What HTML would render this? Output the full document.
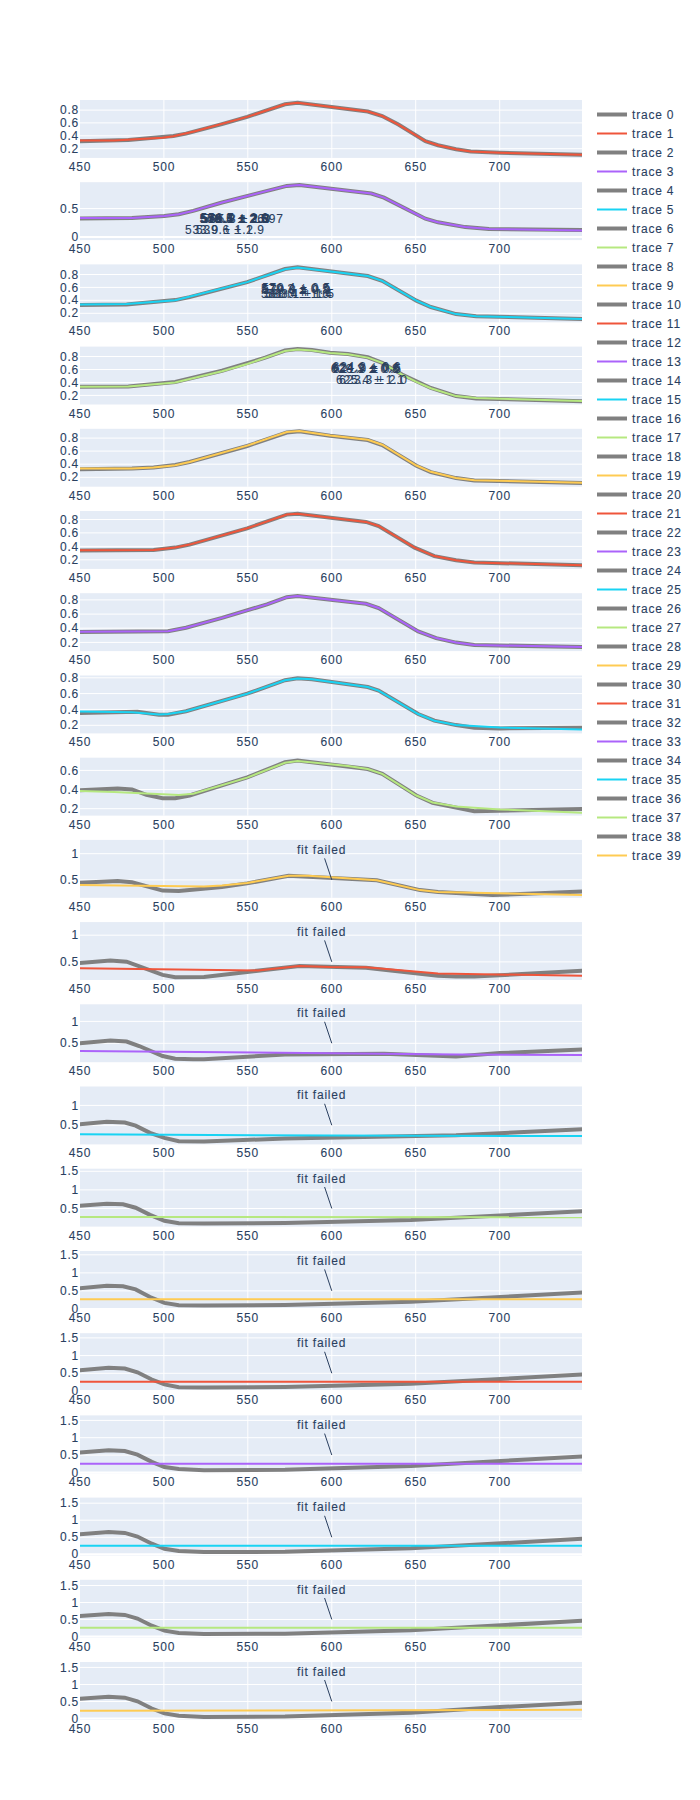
<!DOCTYPE html>
<html><head><meta charset="utf-8"><title>plot</title>
<style>html,body{margin:0;padding:0;background:#fff;width:700px;height:1800px;overflow:hidden}
.c{position:relative;width:700px;height:1800px}
.c svg{position:absolute;top:0;left:0}
.c svg text{letter-spacing:0.8px;stroke:#2a3f5f;stroke-width:0.1px}
</style></head><body><div class="c">
<svg class="main-svg" width="700" height="1800" style="background: white;"><defs id="defs-5c4ca8"><g class="clips"><clipPath id="clip5c4ca8xyplot" class="plotclip"><rect width="502" height="57.9"></rect></clipPath><clipPath id="clip5c4ca8x2y2plot" class="plotclip"><rect width="502" height="57.9"></rect></clipPath><clipPath id="clip5c4ca8x3y3plot" class="plotclip"><rect width="502" height="57.9"></rect></clipPath><clipPath id="clip5c4ca8x4y4plot" class="plotclip"><rect width="502" height="57.9"></rect></clipPath><clipPath id="clip5c4ca8x5y5plot" class="plotclip"><rect width="502" height="57.9"></rect></clipPath><clipPath id="clip5c4ca8x6y6plot" class="plotclip"><rect width="502" height="57.9"></rect></clipPath><clipPath id="clip5c4ca8x7y7plot" class="plotclip"><rect width="502" height="57.9"></rect></clipPath><clipPath id="clip5c4ca8x8y8plot" class="plotclip"><rect width="502" height="57.9"></rect></clipPath><clipPath id="clip5c4ca8x9y9plot" class="plotclip"><rect width="502" height="57.9"></rect></clipPath><clipPath id="clip5c4ca8x10y10plot" class="plotclip"><rect width="502" height="57.9"></rect></clipPath><clipPath id="clip5c4ca8x11y11plot" class="plotclip"><rect width="502" height="57.9"></rect></clipPath><clipPath id="clip5c4ca8x12y12plot" class="plotclip"><rect width="502" height="57.9"></rect></clipPath><clipPath id="clip5c4ca8x13y13plot" class="plotclip"><rect width="502" height="57.9"></rect></clipPath><clipPath id="clip5c4ca8x14y14plot" class="plotclip"><rect width="502" height="57.9"></rect></clipPath><clipPath id="clip5c4ca8x15y15plot" class="plotclip"><rect width="502" height="57.9"></rect></clipPath><clipPath id="clip5c4ca8x16y16plot" class="plotclip"><rect width="502" height="57.9"></rect></clipPath><clipPath id="clip5c4ca8x17y17plot" class="plotclip"><rect width="502" height="57.9"></rect></clipPath><clipPath id="clip5c4ca8x18y18plot" class="plotclip"><rect width="502" height="57.9"></rect></clipPath><clipPath id="clip5c4ca8x19y19plot" class="plotclip"><rect width="502" height="57.9"></rect></clipPath><clipPath id="clip5c4ca8x20y20plot" class="plotclip"><rect width="502" height="57.9"></rect></clipPath><clipPath class="axesclip" id="clip5c4ca8x"><rect x="80" y="0" width="502" height="1800"></rect></clipPath><clipPath class="axesclip" id="clip5c4ca8y"><rect x="0" y="100" width="700" height="57.9"></rect></clipPath><clipPath class="axesclip" id="clip5c4ca8xy"><rect x="80" y="100" width="502" height="57.9"></rect></clipPath><clipPath class="axesclip" id="clip5c4ca8y2"><rect x="0" y="182.2" width="700" height="57.9"></rect></clipPath><clipPath class="axesclip" id="clip5c4ca8xy2"><rect x="80" y="182.2" width="502" height="57.9"></rect></clipPath><clipPath class="axesclip" id="clip5c4ca8y3"><rect x="0" y="264.4" width="700" height="57.9"></rect></clipPath><clipPath class="axesclip" id="clip5c4ca8xy3"><rect x="80" y="264.4" width="502" height="57.9"></rect></clipPath><clipPath class="axesclip" id="clip5c4ca8y4"><rect x="0" y="346.6" width="700" height="57.9"></rect></clipPath><clipPath class="axesclip" id="clip5c4ca8xy4"><rect x="80" y="346.6" width="502" height="57.9"></rect></clipPath><clipPath class="axesclip" id="clip5c4ca8y5"><rect x="0" y="428.8" width="700" height="57.9"></rect></clipPath><clipPath class="axesclip" id="clip5c4ca8xy5"><rect x="80" y="428.8" width="502" height="57.9"></rect></clipPath><clipPath class="axesclip" id="clip5c4ca8y6"><rect x="0" y="511.0" width="700" height="57.9"></rect></clipPath><clipPath class="axesclip" id="clip5c4ca8xy6"><rect x="80" y="511.0" width="502" height="57.9"></rect></clipPath><clipPath class="axesclip" id="clip5c4ca8y7"><rect x="0" y="593.2" width="700" height="57.9"></rect></clipPath><clipPath class="axesclip" id="clip5c4ca8xy7"><rect x="80" y="593.2" width="502" height="57.9"></rect></clipPath><clipPath class="axesclip" id="clip5c4ca8y8"><rect x="0" y="675.5" width="700" height="57.9"></rect></clipPath><clipPath class="axesclip" id="clip5c4ca8xy8"><rect x="80" y="675.5" width="502" height="57.9"></rect></clipPath><clipPath class="axesclip" id="clip5c4ca8y9"><rect x="0" y="757.7" width="700" height="57.9"></rect></clipPath><clipPath class="axesclip" id="clip5c4ca8xy9"><rect x="80" y="757.7" width="502" height="57.9"></rect></clipPath><clipPath class="axesclip" id="clip5c4ca8y10"><rect x="0" y="839.9" width="700" height="57.9"></rect></clipPath><clipPath class="axesclip" id="clip5c4ca8xy10"><rect x="80" y="839.9" width="502" height="57.9"></rect></clipPath><clipPath class="axesclip" id="clip5c4ca8y11"><rect x="0" y="922.1" width="700" height="57.9"></rect></clipPath><clipPath class="axesclip" id="clip5c4ca8xy11"><rect x="80" y="922.1" width="502" height="57.9"></rect></clipPath><clipPath class="axesclip" id="clip5c4ca8y12"><rect x="0" y="1004.3" width="700" height="57.9"></rect></clipPath><clipPath class="axesclip" id="clip5c4ca8xy12"><rect x="80" y="1004.3" width="502" height="57.9"></rect></clipPath><clipPath class="axesclip" id="clip5c4ca8y13"><rect x="0" y="1086.5" width="700" height="57.9"></rect></clipPath><clipPath class="axesclip" id="clip5c4ca8xy13"><rect x="80" y="1086.5" width="502" height="57.9"></rect></clipPath><clipPath class="axesclip" id="clip5c4ca8y14"><rect x="0" y="1168.7" width="700" height="57.9"></rect></clipPath><clipPath class="axesclip" id="clip5c4ca8xy14"><rect x="80" y="1168.7" width="502" height="57.9"></rect></clipPath><clipPath class="axesclip" id="clip5c4ca8y15"><rect x="0" y="1251.0" width="700" height="57.9"></rect></clipPath><clipPath class="axesclip" id="clip5c4ca8xy15"><rect x="80" y="1251.0" width="502" height="57.9"></rect></clipPath><clipPath class="axesclip" id="clip5c4ca8y16"><rect x="0" y="1333.2" width="700" height="57.9"></rect></clipPath><clipPath class="axesclip" id="clip5c4ca8xy16"><rect x="80" y="1333.2" width="502" height="57.9"></rect></clipPath><clipPath class="axesclip" id="clip5c4ca8y17"><rect x="0" y="1415.4" width="700" height="57.9"></rect></clipPath><clipPath class="axesclip" id="clip5c4ca8xy17"><rect x="80" y="1415.4" width="502" height="57.9"></rect></clipPath><clipPath class="axesclip" id="clip5c4ca8y18"><rect x="0" y="1497.6" width="700" height="57.9"></rect></clipPath><clipPath class="axesclip" id="clip5c4ca8xy18"><rect x="80" y="1497.6" width="502" height="57.9"></rect></clipPath><clipPath class="axesclip" id="clip5c4ca8y19"><rect x="0" y="1579.8" width="700" height="57.9"></rect></clipPath><clipPath class="axesclip" id="clip5c4ca8xy19"><rect x="80" y="1579.8" width="502" height="57.9"></rect></clipPath><clipPath class="axesclip" id="clip5c4ca8y20"><rect x="0" y="1662.0" width="700" height="57.9"></rect></clipPath><clipPath class="axesclip" id="clip5c4ca8xy20"><rect x="80" y="1662.0" width="502" height="57.9"></rect></clipPath><clipPath class="axesclip" id="clip5c4ca8x2"><rect x="80" y="0" width="502" height="1800"></rect></clipPath><clipPath class="axesclip" id="clip5c4ca8x2y"><rect x="80" y="100" width="502" height="57.9"></rect></clipPath><clipPath class="axesclip" id="clip5c4ca8x2y2"><rect x="80" y="182.2" width="502" height="57.9"></rect></clipPath><clipPath class="axesclip" id="clip5c4ca8x2y3"><rect x="80" y="264.4" width="502" height="57.9"></rect></clipPath><clipPath class="axesclip" id="clip5c4ca8x2y4"><rect x="80" y="346.6" width="502" height="57.9"></rect></clipPath><clipPath class="axesclip" id="clip5c4ca8x2y5"><rect x="80" y="428.8" width="502" height="57.9"></rect></clipPath><clipPath class="axesclip" id="clip5c4ca8x2y6"><rect x="80" y="511.0" width="502" height="57.9"></rect></clipPath><clipPath class="axesclip" id="clip5c4ca8x2y7"><rect x="80" y="593.2" width="502" height="57.9"></rect></clipPath><clipPath class="axesclip" id="clip5c4ca8x2y8"><rect x="80" y="675.5" width="502" height="57.9"></rect></clipPath><clipPath class="axesclip" id="clip5c4ca8x2y9"><rect x="80" y="757.7" width="502" height="57.9"></rect></clipPath><clipPath class="axesclip" id="clip5c4ca8x2y10"><rect x="80" y="839.9" width="502" height="57.9"></rect></clipPath><clipPath class="axesclip" id="clip5c4ca8x2y11"><rect x="80" y="922.1" width="502" height="57.9"></rect></clipPath><clipPath class="axesclip" id="clip5c4ca8x2y12"><rect x="80" y="1004.3" width="502" height="57.9"></rect></clipPath><clipPath class="axesclip" id="clip5c4ca8x2y13"><rect x="80" y="1086.5" width="502" height="57.9"></rect></clipPath><clipPath class="axesclip" id="clip5c4ca8x2y14"><rect x="80" y="1168.7" width="502" height="57.9"></rect></clipPath><clipPath class="axesclip" id="clip5c4ca8x2y15"><rect x="80" y="1251.0" width="502" height="57.9"></rect></clipPath><clipPath class="axesclip" id="clip5c4ca8x2y16"><rect x="80" y="1333.2" width="502" height="57.9"></rect></clipPath><clipPath class="axesclip" id="clip5c4ca8x2y17"><rect x="80" y="1415.4" width="502" height="57.9"></rect></clipPath><clipPath class="axesclip" id="clip5c4ca8x2y18"><rect x="80" y="1497.6" width="502" height="57.9"></rect></clipPath><clipPath class="axesclip" id="clip5c4ca8x2y19"><rect x="80" y="1579.8" width="502" height="57.9"></rect></clipPath><clipPath class="axesclip" id="clip5c4ca8x2y20"><rect x="80" y="1662.0" width="502" height="57.9"></rect></clipPath><clipPath class="axesclip" id="clip5c4ca8x3"><rect x="80" y="0" width="502" height="1800"></rect></clipPath><clipPath class="axesclip" id="clip5c4ca8x3y"><rect x="80" y="100" width="502" height="57.9"></rect></clipPath><clipPath class="axesclip" id="clip5c4ca8x3y2"><rect x="80" y="182.2" width="502" height="57.9"></rect></clipPath><clipPath class="axesclip" id="clip5c4ca8x3y3"><rect x="80" y="264.4" width="502" height="57.9"></rect></clipPath><clipPath class="axesclip" id="clip5c4ca8x3y4"><rect x="80" y="346.6" width="502" height="57.9"></rect></clipPath><clipPath class="axesclip" id="clip5c4ca8x3y5"><rect x="80" y="428.8" width="502" height="57.9"></rect></clipPath><clipPath class="axesclip" id="clip5c4ca8x3y6"><rect x="80" y="511.0" width="502" height="57.9"></rect></clipPath><clipPath class="axesclip" id="clip5c4ca8x3y7"><rect x="80" y="593.2" width="502" height="57.9"></rect></clipPath><clipPath class="axesclip" id="clip5c4ca8x3y8"><rect x="80" y="675.5" width="502" height="57.9"></rect></clipPath><clipPath class="axesclip" id="clip5c4ca8x3y9"><rect x="80" y="757.7" width="502" height="57.9"></rect></clipPath><clipPath class="axesclip" id="clip5c4ca8x3y10"><rect x="80" y="839.9" width="502" height="57.9"></rect></clipPath><clipPath class="axesclip" id="clip5c4ca8x3y11"><rect x="80" y="922.1" width="502" height="57.9"></rect></clipPath><clipPath class="axesclip" id="clip5c4ca8x3y12"><rect x="80" y="1004.3" width="502" height="57.9"></rect></clipPath><clipPath class="axesclip" id="clip5c4ca8x3y13"><rect x="80" y="1086.5" width="502" height="57.9"></rect></clipPath><clipPath class="axesclip" id="clip5c4ca8x3y14"><rect x="80" y="1168.7" width="502" height="57.9"></rect></clipPath><clipPath class="axesclip" id="clip5c4ca8x3y15"><rect x="80" y="1251.0" width="502" height="57.9"></rect></clipPath><clipPath class="axesclip" id="clip5c4ca8x3y16"><rect x="80" y="1333.2" width="502" height="57.9"></rect></clipPath><clipPath class="axesclip" id="clip5c4ca8x3y17"><rect x="80" y="1415.4" width="502" height="57.9"></rect></clipPath><clipPath class="axesclip" id="clip5c4ca8x3y18"><rect x="80" y="1497.6" width="502" height="57.9"></rect></clipPath><clipPath class="axesclip" id="clip5c4ca8x3y19"><rect x="80" y="1579.8" width="502" height="57.9"></rect></clipPath><clipPath class="axesclip" id="clip5c4ca8x3y20"><rect x="80" y="1662.0" width="502" height="57.9"></rect></clipPath><clipPath class="axesclip" id="clip5c4ca8x4"><rect x="80" y="0" width="502" height="1800"></rect></clipPath><clipPath class="axesclip" id="clip5c4ca8x4y"><rect x="80" y="100" width="502" height="57.9"></rect></clipPath><clipPath class="axesclip" id="clip5c4ca8x4y2"><rect x="80" y="182.2" width="502" height="57.9"></rect></clipPath><clipPath class="axesclip" id="clip5c4ca8x4y3"><rect x="80" y="264.4" width="502" height="57.9"></rect></clipPath><clipPath class="axesclip" id="clip5c4ca8x4y4"><rect x="80" y="346.6" width="502" height="57.9"></rect></clipPath><clipPath class="axesclip" id="clip5c4ca8x4y5"><rect x="80" y="428.8" width="502" height="57.9"></rect></clipPath><clipPath class="axesclip" id="clip5c4ca8x4y6"><rect x="80" y="511.0" width="502" height="57.9"></rect></clipPath><clipPath class="axesclip" id="clip5c4ca8x4y7"><rect x="80" y="593.2" width="502" height="57.9"></rect></clipPath><clipPath class="axesclip" id="clip5c4ca8x4y8"><rect x="80" y="675.5" width="502" height="57.9"></rect></clipPath><clipPath class="axesclip" id="clip5c4ca8x4y9"><rect x="80" y="757.7" width="502" height="57.9"></rect></clipPath><clipPath class="axesclip" id="clip5c4ca8x4y10"><rect x="80" y="839.9" width="502" height="57.9"></rect></clipPath><clipPath class="axesclip" id="clip5c4ca8x4y11"><rect x="80" y="922.1" width="502" height="57.9"></rect></clipPath><clipPath class="axesclip" id="clip5c4ca8x4y12"><rect x="80" y="1004.3" width="502" height="57.9"></rect></clipPath><clipPath class="axesclip" id="clip5c4ca8x4y13"><rect x="80" y="1086.5" width="502" height="57.9"></rect></clipPath><clipPath class="axesclip" id="clip5c4ca8x4y14"><rect x="80" y="1168.7" width="502" height="57.9"></rect></clipPath><clipPath class="axesclip" id="clip5c4ca8x4y15"><rect x="80" y="1251.0" width="502" height="57.9"></rect></clipPath><clipPath class="axesclip" id="clip5c4ca8x4y16"><rect x="80" y="1333.2" width="502" height="57.9"></rect></clipPath><clipPath class="axesclip" id="clip5c4ca8x4y17"><rect x="80" y="1415.4" width="502" height="57.9"></rect></clipPath><clipPath class="axesclip" id="clip5c4ca8x4y18"><rect x="80" y="1497.6" width="502" height="57.9"></rect></clipPath><clipPath class="axesclip" id="clip5c4ca8x4y19"><rect x="80" y="1579.8" width="502" height="57.9"></rect></clipPath><clipPath class="axesclip" id="clip5c4ca8x4y20"><rect x="80" y="1662.0" width="502" height="57.9"></rect></clipPath><clipPath class="axesclip" id="clip5c4ca8x5"><rect x="80" y="0" width="502" height="1800"></rect></clipPath><clipPath class="axesclip" id="clip5c4ca8x5y"><rect x="80" y="100" width="502" height="57.9"></rect></clipPath><clipPath class="axesclip" id="clip5c4ca8x5y2"><rect x="80" y="182.2" width="502" height="57.9"></rect></clipPath><clipPath class="axesclip" id="clip5c4ca8x5y3"><rect x="80" y="264.4" width="502" height="57.9"></rect></clipPath><clipPath class="axesclip" id="clip5c4ca8x5y4"><rect x="80" y="346.6" width="502" height="57.9"></rect></clipPath><clipPath class="axesclip" id="clip5c4ca8x5y5"><rect x="80" y="428.8" width="502" height="57.9"></rect></clipPath><clipPath class="axesclip" id="clip5c4ca8x5y6"><rect x="80" y="511.0" width="502" height="57.9"></rect></clipPath><clipPath class="axesclip" id="clip5c4ca8x5y7"><rect x="80" y="593.2" width="502" height="57.9"></rect></clipPath><clipPath class="axesclip" id="clip5c4ca8x5y8"><rect x="80" y="675.5" width="502" height="57.9"></rect></clipPath><clipPath class="axesclip" id="clip5c4ca8x5y9"><rect x="80" y="757.7" width="502" height="57.9"></rect></clipPath><clipPath class="axesclip" id="clip5c4ca8x5y10"><rect x="80" y="839.9" width="502" height="57.9"></rect></clipPath><clipPath class="axesclip" id="clip5c4ca8x5y11"><rect x="80" y="922.1" width="502" height="57.9"></rect></clipPath><clipPath class="axesclip" id="clip5c4ca8x5y12"><rect x="80" y="1004.3" width="502" height="57.9"></rect></clipPath><clipPath class="axesclip" id="clip5c4ca8x5y13"><rect x="80" y="1086.5" width="502" height="57.9"></rect></clipPath><clipPath class="axesclip" id="clip5c4ca8x5y14"><rect x="80" y="1168.7" width="502" height="57.9"></rect></clipPath><clipPath class="axesclip" id="clip5c4ca8x5y15"><rect x="80" y="1251.0" width="502" height="57.9"></rect></clipPath><clipPath class="axesclip" id="clip5c4ca8x5y16"><rect x="80" y="1333.2" width="502" height="57.9"></rect></clipPath><clipPath class="axesclip" id="clip5c4ca8x5y17"><rect x="80" y="1415.4" width="502" height="57.9"></rect></clipPath><clipPath class="axesclip" id="clip5c4ca8x5y18"><rect x="80" y="1497.6" width="502" height="57.9"></rect></clipPath><clipPath class="axesclip" id="clip5c4ca8x5y19"><rect x="80" y="1579.8" width="502" height="57.9"></rect></clipPath><clipPath class="axesclip" id="clip5c4ca8x5y20"><rect x="80" y="1662.0" width="502" height="57.9"></rect></clipPath><clipPath class="axesclip" id="clip5c4ca8x6"><rect x="80" y="0" width="502" height="1800"></rect></clipPath><clipPath class="axesclip" id="clip5c4ca8x6y"><rect x="80" y="100" width="502" height="57.9"></rect></clipPath><clipPath class="axesclip" id="clip5c4ca8x6y2"><rect x="80" y="182.2" width="502" height="57.9"></rect></clipPath><clipPath class="axesclip" id="clip5c4ca8x6y3"><rect x="80" y="264.4" width="502" height="57.9"></rect></clipPath><clipPath class="axesclip" id="clip5c4ca8x6y4"><rect x="80" y="346.6" width="502" height="57.9"></rect></clipPath><clipPath class="axesclip" id="clip5c4ca8x6y5"><rect x="80" y="428.8" width="502" height="57.9"></rect></clipPath><clipPath class="axesclip" id="clip5c4ca8x6y6"><rect x="80" y="511.0" width="502" height="57.9"></rect></clipPath><clipPath class="axesclip" id="clip5c4ca8x6y7"><rect x="80" y="593.2" width="502" height="57.9"></rect></clipPath><clipPath class="axesclip" id="clip5c4ca8x6y8"><rect x="80" y="675.5" width="502" height="57.9"></rect></clipPath><clipPath class="axesclip" id="clip5c4ca8x6y9"><rect x="80" y="757.7" width="502" height="57.9"></rect></clipPath><clipPath class="axesclip" id="clip5c4ca8x6y10"><rect x="80" y="839.9" width="502" height="57.9"></rect></clipPath><clipPath class="axesclip" id="clip5c4ca8x6y11"><rect x="80" y="922.1" width="502" height="57.9"></rect></clipPath><clipPath class="axesclip" id="clip5c4ca8x6y12"><rect x="80" y="1004.3" width="502" height="57.9"></rect></clipPath><clipPath class="axesclip" id="clip5c4ca8x6y13"><rect x="80" y="1086.5" width="502" height="57.9"></rect></clipPath><clipPath class="axesclip" id="clip5c4ca8x6y14"><rect x="80" y="1168.7" width="502" height="57.9"></rect></clipPath><clipPath class="axesclip" id="clip5c4ca8x6y15"><rect x="80" y="1251.0" width="502" height="57.9"></rect></clipPath><clipPath class="axesclip" id="clip5c4ca8x6y16"><rect x="80" y="1333.2" width="502" height="57.9"></rect></clipPath><clipPath class="axesclip" id="clip5c4ca8x6y17"><rect x="80" y="1415.4" width="502" height="57.9"></rect></clipPath><clipPath class="axesclip" id="clip5c4ca8x6y18"><rect x="80" y="1497.6" width="502" height="57.9"></rect></clipPath><clipPath class="axesclip" id="clip5c4ca8x6y19"><rect x="80" y="1579.8" width="502" height="57.9"></rect></clipPath><clipPath class="axesclip" id="clip5c4ca8x6y20"><rect x="80" y="1662.0" width="502" height="57.9"></rect></clipPath><clipPath class="axesclip" id="clip5c4ca8x7"><rect x="80" y="0" width="502" height="1800"></rect></clipPath><clipPath class="axesclip" id="clip5c4ca8x7y"><rect x="80" y="100" width="502" height="57.9"></rect></clipPath><clipPath class="axesclip" id="clip5c4ca8x7y2"><rect x="80" y="182.2" width="502" height="57.9"></rect></clipPath><clipPath class="axesclip" id="clip5c4ca8x7y3"><rect x="80" y="264.4" width="502" height="57.9"></rect></clipPath><clipPath class="axesclip" id="clip5c4ca8x7y4"><rect x="80" y="346.6" width="502" height="57.9"></rect></clipPath><clipPath class="axesclip" id="clip5c4ca8x7y5"><rect x="80" y="428.8" width="502" height="57.9"></rect></clipPath><clipPath class="axesclip" id="clip5c4ca8x7y6"><rect x="80" y="511.0" width="502" height="57.9"></rect></clipPath><clipPath class="axesclip" id="clip5c4ca8x7y7"><rect x="80" y="593.2" width="502" height="57.9"></rect></clipPath><clipPath class="axesclip" id="clip5c4ca8x7y8"><rect x="80" y="675.5" width="502" height="57.9"></rect></clipPath><clipPath class="axesclip" id="clip5c4ca8x7y9"><rect x="80" y="757.7" width="502" height="57.9"></rect></clipPath><clipPath class="axesclip" id="clip5c4ca8x7y10"><rect x="80" y="839.9" width="502" height="57.9"></rect></clipPath><clipPath class="axesclip" id="clip5c4ca8x7y11"><rect x="80" y="922.1" width="502" height="57.9"></rect></clipPath><clipPath class="axesclip" id="clip5c4ca8x7y12"><rect x="80" y="1004.3" width="502" height="57.9"></rect></clipPath><clipPath class="axesclip" id="clip5c4ca8x7y13"><rect x="80" y="1086.5" width="502" height="57.9"></rect></clipPath><clipPath class="axesclip" id="clip5c4ca8x7y14"><rect x="80" y="1168.7" width="502" height="57.9"></rect></clipPath><clipPath class="axesclip" id="clip5c4ca8x7y15"><rect x="80" y="1251.0" width="502" height="57.9"></rect></clipPath><clipPath class="axesclip" id="clip5c4ca8x7y16"><rect x="80" y="1333.2" width="502" height="57.9"></rect></clipPath><clipPath class="axesclip" id="clip5c4ca8x7y17"><rect x="80" y="1415.4" width="502" height="57.9"></rect></clipPath><clipPath class="axesclip" id="clip5c4ca8x7y18"><rect x="80" y="1497.6" width="502" height="57.9"></rect></clipPath><clipPath class="axesclip" id="clip5c4ca8x7y19"><rect x="80" y="1579.8" width="502" height="57.9"></rect></clipPath><clipPath class="axesclip" id="clip5c4ca8x7y20"><rect x="80" y="1662.0" width="502" height="57.9"></rect></clipPath><clipPath class="axesclip" id="clip5c4ca8x8"><rect x="80" y="0" width="502" height="1800"></rect></clipPath><clipPath class="axesclip" id="clip5c4ca8x8y"><rect x="80" y="100" width="502" height="57.9"></rect></clipPath><clipPath class="axesclip" id="clip5c4ca8x8y2"><rect x="80" y="182.2" width="502" height="57.9"></rect></clipPath><clipPath class="axesclip" id="clip5c4ca8x8y3"><rect x="80" y="264.4" width="502" height="57.9"></rect></clipPath><clipPath class="axesclip" id="clip5c4ca8x8y4"><rect x="80" y="346.6" width="502" height="57.9"></rect></clipPath><clipPath class="axesclip" id="clip5c4ca8x8y5"><rect x="80" y="428.8" width="502" height="57.9"></rect></clipPath><clipPath class="axesclip" id="clip5c4ca8x8y6"><rect x="80" y="511.0" width="502" height="57.9"></rect></clipPath><clipPath class="axesclip" id="clip5c4ca8x8y7"><rect x="80" y="593.2" width="502" height="57.9"></rect></clipPath><clipPath class="axesclip" id="clip5c4ca8x8y8"><rect x="80" y="675.5" width="502" height="57.9"></rect></clipPath><clipPath class="axesclip" id="clip5c4ca8x8y9"><rect x="80" y="757.7" width="502" height="57.9"></rect></clipPath><clipPath class="axesclip" id="clip5c4ca8x8y10"><rect x="80" y="839.9" width="502" height="57.9"></rect></clipPath><clipPath class="axesclip" id="clip5c4ca8x8y11"><rect x="80" y="922.1" width="502" height="57.9"></rect></clipPath><clipPath class="axesclip" id="clip5c4ca8x8y12"><rect x="80" y="1004.3" width="502" height="57.9"></rect></clipPath><clipPath class="axesclip" id="clip5c4ca8x8y13"><rect x="80" y="1086.5" width="502" height="57.9"></rect></clipPath><clipPath class="axesclip" id="clip5c4ca8x8y14"><rect x="80" y="1168.7" width="502" height="57.9"></rect></clipPath><clipPath class="axesclip" id="clip5c4ca8x8y15"><rect x="80" y="1251.0" width="502" height="57.9"></rect></clipPath><clipPath class="axesclip" id="clip5c4ca8x8y16"><rect x="80" y="1333.2" width="502" height="57.9"></rect></clipPath><clipPath class="axesclip" id="clip5c4ca8x8y17"><rect x="80" y="1415.4" width="502" height="57.9"></rect></clipPath><clipPath class="axesclip" id="clip5c4ca8x8y18"><rect x="80" y="1497.6" width="502" height="57.9"></rect></clipPath><clipPath class="axesclip" id="clip5c4ca8x8y19"><rect x="80" y="1579.8" width="502" height="57.9"></rect></clipPath><clipPath class="axesclip" id="clip5c4ca8x8y20"><rect x="80" y="1662.0" width="502" height="57.9"></rect></clipPath><clipPath class="axesclip" id="clip5c4ca8x9"><rect x="80" y="0" width="502" height="1800"></rect></clipPath><clipPath class="axesclip" id="clip5c4ca8x9y"><rect x="80" y="100" width="502" height="57.9"></rect></clipPath><clipPath class="axesclip" id="clip5c4ca8x9y2"><rect x="80" y="182.2" width="502" height="57.9"></rect></clipPath><clipPath class="axesclip" id="clip5c4ca8x9y3"><rect x="80" y="264.4" width="502" height="57.9"></rect></clipPath><clipPath class="axesclip" id="clip5c4ca8x9y4"><rect x="80" y="346.6" width="502" height="57.9"></rect></clipPath><clipPath class="axesclip" id="clip5c4ca8x9y5"><rect x="80" y="428.8" width="502" height="57.9"></rect></clipPath><clipPath class="axesclip" id="clip5c4ca8x9y6"><rect x="80" y="511.0" width="502" height="57.9"></rect></clipPath><clipPath class="axesclip" id="clip5c4ca8x9y7"><rect x="80" y="593.2" width="502" height="57.9"></rect></clipPath><clipPath class="axesclip" id="clip5c4ca8x9y8"><rect x="80" y="675.5" width="502" height="57.9"></rect></clipPath><clipPath class="axesclip" id="clip5c4ca8x9y9"><rect x="80" y="757.7" width="502" height="57.9"></rect></clipPath><clipPath class="axesclip" id="clip5c4ca8x9y10"><rect x="80" y="839.9" width="502" height="57.9"></rect></clipPath><clipPath class="axesclip" id="clip5c4ca8x9y11"><rect x="80" y="922.1" width="502" height="57.9"></rect></clipPath><clipPath class="axesclip" id="clip5c4ca8x9y12"><rect x="80" y="1004.3" width="502" height="57.9"></rect></clipPath><clipPath class="axesclip" id="clip5c4ca8x9y13"><rect x="80" y="1086.5" width="502" height="57.9"></rect></clipPath><clipPath class="axesclip" id="clip5c4ca8x9y14"><rect x="80" y="1168.7" width="502" height="57.9"></rect></clipPath><clipPath class="axesclip" id="clip5c4ca8x9y15"><rect x="80" y="1251.0" width="502" height="57.9"></rect></clipPath><clipPath class="axesclip" id="clip5c4ca8x9y16"><rect x="80" y="1333.2" width="502" height="57.9"></rect></clipPath><clipPath class="axesclip" id="clip5c4ca8x9y17"><rect x="80" y="1415.4" width="502" height="57.9"></rect></clipPath><clipPath class="axesclip" id="clip5c4ca8x9y18"><rect x="80" y="1497.6" width="502" height="57.9"></rect></clipPath><clipPath class="axesclip" id="clip5c4ca8x9y19"><rect x="80" y="1579.8" width="502" height="57.9"></rect></clipPath><clipPath class="axesclip" id="clip5c4ca8x9y20"><rect x="80" y="1662.0" width="502" height="57.9"></rect></clipPath><clipPath class="axesclip" id="clip5c4ca8x10"><rect x="80" y="0" width="502" height="1800"></rect></clipPath><clipPath class="axesclip" id="clip5c4ca8x10y"><rect x="80" y="100" width="502" height="57.9"></rect></clipPath><clipPath class="axesclip" id="clip5c4ca8x10y2"><rect x="80" y="182.2" width="502" height="57.9"></rect></clipPath><clipPath class="axesclip" id="clip5c4ca8x10y3"><rect x="80" y="264.4" width="502" height="57.9"></rect></clipPath><clipPath class="axesclip" id="clip5c4ca8x10y4"><rect x="80" y="346.6" width="502" height="57.9"></rect></clipPath><clipPath class="axesclip" id="clip5c4ca8x10y5"><rect x="80" y="428.8" width="502" height="57.9"></rect></clipPath><clipPath class="axesclip" id="clip5c4ca8x10y6"><rect x="80" y="511.0" width="502" height="57.9"></rect></clipPath><clipPath class="axesclip" id="clip5c4ca8x10y7"><rect x="80" y="593.2" width="502" height="57.9"></rect></clipPath><clipPath class="axesclip" id="clip5c4ca8x10y8"><rect x="80" y="675.5" width="502" height="57.9"></rect></clipPath><clipPath class="axesclip" id="clip5c4ca8x10y9"><rect x="80" y="757.7" width="502" height="57.9"></rect></clipPath><clipPath class="axesclip" id="clip5c4ca8x10y10"><rect x="80" y="839.9" width="502" height="57.9"></rect></clipPath><clipPath class="axesclip" id="clip5c4ca8x10y11"><rect x="80" y="922.1" width="502" height="57.9"></rect></clipPath><clipPath class="axesclip" id="clip5c4ca8x10y12"><rect x="80" y="1004.3" width="502" height="57.9"></rect></clipPath><clipPath class="axesclip" id="clip5c4ca8x10y13"><rect x="80" y="1086.5" width="502" height="57.9"></rect></clipPath><clipPath class="axesclip" id="clip5c4ca8x10y14"><rect x="80" y="1168.7" width="502" height="57.9"></rect></clipPath><clipPath class="axesclip" id="clip5c4ca8x10y15"><rect x="80" y="1251.0" width="502" height="57.9"></rect></clipPath><clipPath class="axesclip" id="clip5c4ca8x10y16"><rect x="80" y="1333.2" width="502" height="57.9"></rect></clipPath><clipPath class="axesclip" id="clip5c4ca8x10y17"><rect x="80" y="1415.4" width="502" height="57.9"></rect></clipPath><clipPath class="axesclip" id="clip5c4ca8x10y18"><rect x="80" y="1497.6" width="502" height="57.9"></rect></clipPath><clipPath class="axesclip" id="clip5c4ca8x10y19"><rect x="80" y="1579.8" width="502" height="57.9"></rect></clipPath><clipPath class="axesclip" id="clip5c4ca8x10y20"><rect x="80" y="1662.0" width="502" height="57.9"></rect></clipPath><clipPath class="axesclip" id="clip5c4ca8x11"><rect x="80" y="0" width="502" height="1800"></rect></clipPath><clipPath class="axesclip" id="clip5c4ca8x11y"><rect x="80" y="100" width="502" height="57.9"></rect></clipPath><clipPath class="axesclip" id="clip5c4ca8x11y2"><rect x="80" y="182.2" width="502" height="57.9"></rect></clipPath><clipPath class="axesclip" id="clip5c4ca8x11y3"><rect x="80" y="264.4" width="502" height="57.9"></rect></clipPath><clipPath class="axesclip" id="clip5c4ca8x11y4"><rect x="80" y="346.6" width="502" height="57.9"></rect></clipPath><clipPath class="axesclip" id="clip5c4ca8x11y5"><rect x="80" y="428.8" width="502" height="57.9"></rect></clipPath><clipPath class="axesclip" id="clip5c4ca8x11y6"><rect x="80" y="511.0" width="502" height="57.9"></rect></clipPath><clipPath class="axesclip" id="clip5c4ca8x11y7"><rect x="80" y="593.2" width="502" height="57.9"></rect></clipPath><clipPath class="axesclip" id="clip5c4ca8x11y8"><rect x="80" y="675.5" width="502" height="57.9"></rect></clipPath><clipPath class="axesclip" id="clip5c4ca8x11y9"><rect x="80" y="757.7" width="502" height="57.9"></rect></clipPath><clipPath class="axesclip" id="clip5c4ca8x11y10"><rect x="80" y="839.9" width="502" height="57.9"></rect></clipPath><clipPath class="axesclip" id="clip5c4ca8x11y11"><rect x="80" y="922.1" width="502" height="57.9"></rect></clipPath><clipPath class="axesclip" id="clip5c4ca8x11y12"><rect x="80" y="1004.3" width="502" height="57.9"></rect></clipPath><clipPath class="axesclip" id="clip5c4ca8x11y13"><rect x="80" y="1086.5" width="502" height="57.9"></rect></clipPath><clipPath class="axesclip" id="clip5c4ca8x11y14"><rect x="80" y="1168.7" width="502" height="57.9"></rect></clipPath><clipPath class="axesclip" id="clip5c4ca8x11y15"><rect x="80" y="1251.0" width="502" height="57.9"></rect></clipPath><clipPath class="axesclip" id="clip5c4ca8x11y16"><rect x="80" y="1333.2" width="502" height="57.9"></rect></clipPath><clipPath class="axesclip" id="clip5c4ca8x11y17"><rect x="80" y="1415.4" width="502" height="57.9"></rect></clipPath><clipPath class="axesclip" id="clip5c4ca8x11y18"><rect x="80" y="1497.6" width="502" height="57.9"></rect></clipPath><clipPath class="axesclip" id="clip5c4ca8x11y19"><rect x="80" y="1579.8" width="502" height="57.9"></rect></clipPath><clipPath class="axesclip" id="clip5c4ca8x11y20"><rect x="80" y="1662.0" width="502" height="57.9"></rect></clipPath><clipPath class="axesclip" id="clip5c4ca8x12"><rect x="80" y="0" width="502" height="1800"></rect></clipPath><clipPath class="axesclip" id="clip5c4ca8x12y"><rect x="80" y="100" width="502" height="57.9"></rect></clipPath><clipPath class="axesclip" id="clip5c4ca8x12y2"><rect x="80" y="182.2" width="502" height="57.9"></rect></clipPath><clipPath class="axesclip" id="clip5c4ca8x12y3"><rect x="80" y="264.4" width="502" height="57.9"></rect></clipPath><clipPath class="axesclip" id="clip5c4ca8x12y4"><rect x="80" y="346.6" width="502" height="57.9"></rect></clipPath><clipPath class="axesclip" id="clip5c4ca8x12y5"><rect x="80" y="428.8" width="502" height="57.9"></rect></clipPath><clipPath class="axesclip" id="clip5c4ca8x12y6"><rect x="80" y="511.0" width="502" height="57.9"></rect></clipPath><clipPath class="axesclip" id="clip5c4ca8x12y7"><rect x="80" y="593.2" width="502" height="57.9"></rect></clipPath><clipPath class="axesclip" id="clip5c4ca8x12y8"><rect x="80" y="675.5" width="502" height="57.9"></rect></clipPath><clipPath class="axesclip" id="clip5c4ca8x12y9"><rect x="80" y="757.7" width="502" height="57.9"></rect></clipPath><clipPath class="axesclip" id="clip5c4ca8x12y10"><rect x="80" y="839.9" width="502" height="57.9"></rect></clipPath><clipPath class="axesclip" id="clip5c4ca8x12y11"><rect x="80" y="922.1" width="502" height="57.9"></rect></clipPath><clipPath class="axesclip" id="clip5c4ca8x12y12"><rect x="80" y="1004.3" width="502" height="57.9"></rect></clipPath><clipPath class="axesclip" id="clip5c4ca8x12y13"><rect x="80" y="1086.5" width="502" height="57.9"></rect></clipPath><clipPath class="axesclip" id="clip5c4ca8x12y14"><rect x="80" y="1168.7" width="502" height="57.9"></rect></clipPath><clipPath class="axesclip" id="clip5c4ca8x12y15"><rect x="80" y="1251.0" width="502" height="57.9"></rect></clipPath><clipPath class="axesclip" id="clip5c4ca8x12y16"><rect x="80" y="1333.2" width="502" height="57.9"></rect></clipPath><clipPath class="axesclip" id="clip5c4ca8x12y17"><rect x="80" y="1415.4" width="502" height="57.9"></rect></clipPath><clipPath class="axesclip" id="clip5c4ca8x12y18"><rect x="80" y="1497.6" width="502" height="57.9"></rect></clipPath><clipPath class="axesclip" id="clip5c4ca8x12y19"><rect x="80" y="1579.8" width="502" height="57.9"></rect></clipPath><clipPath class="axesclip" id="clip5c4ca8x12y20"><rect x="80" y="1662.0" width="502" height="57.9"></rect></clipPath><clipPath class="axesclip" id="clip5c4ca8x13"><rect x="80" y="0" width="502" height="1800"></rect></clipPath><clipPath class="axesclip" id="clip5c4ca8x13y"><rect x="80" y="100" width="502" height="57.9"></rect></clipPath><clipPath class="axesclip" id="clip5c4ca8x13y2"><rect x="80" y="182.2" width="502" height="57.9"></rect></clipPath><clipPath class="axesclip" id="clip5c4ca8x13y3"><rect x="80" y="264.4" width="502" height="57.9"></rect></clipPath><clipPath class="axesclip" id="clip5c4ca8x13y4"><rect x="80" y="346.6" width="502" height="57.9"></rect></clipPath><clipPath class="axesclip" id="clip5c4ca8x13y5"><rect x="80" y="428.8" width="502" height="57.9"></rect></clipPath><clipPath class="axesclip" id="clip5c4ca8x13y6"><rect x="80" y="511.0" width="502" height="57.9"></rect></clipPath><clipPath class="axesclip" id="clip5c4ca8x13y7"><rect x="80" y="593.2" width="502" height="57.9"></rect></clipPath><clipPath class="axesclip" id="clip5c4ca8x13y8"><rect x="80" y="675.5" width="502" height="57.9"></rect></clipPath><clipPath class="axesclip" id="clip5c4ca8x13y9"><rect x="80" y="757.7" width="502" height="57.9"></rect></clipPath><clipPath class="axesclip" id="clip5c4ca8x13y10"><rect x="80" y="839.9" width="502" height="57.9"></rect></clipPath><clipPath class="axesclip" id="clip5c4ca8x13y11"><rect x="80" y="922.1" width="502" height="57.9"></rect></clipPath><clipPath class="axesclip" id="clip5c4ca8x13y12"><rect x="80" y="1004.3" width="502" height="57.9"></rect></clipPath><clipPath class="axesclip" id="clip5c4ca8x13y13"><rect x="80" y="1086.5" width="502" height="57.9"></rect></clipPath><clipPath class="axesclip" id="clip5c4ca8x13y14"><rect x="80" y="1168.7" width="502" height="57.9"></rect></clipPath><clipPath class="axesclip" id="clip5c4ca8x13y15"><rect x="80" y="1251.0" width="502" height="57.9"></rect></clipPath><clipPath class="axesclip" id="clip5c4ca8x13y16"><rect x="80" y="1333.2" width="502" height="57.9"></rect></clipPath><clipPath class="axesclip" id="clip5c4ca8x13y17"><rect x="80" y="1415.4" width="502" height="57.9"></rect></clipPath><clipPath class="axesclip" id="clip5c4ca8x13y18"><rect x="80" y="1497.6" width="502" height="57.9"></rect></clipPath><clipPath class="axesclip" id="clip5c4ca8x13y19"><rect x="80" y="1579.8" width="502" height="57.9"></rect></clipPath><clipPath class="axesclip" id="clip5c4ca8x13y20"><rect x="80" y="1662.0" width="502" height="57.9"></rect></clipPath><clipPath class="axesclip" id="clip5c4ca8x14"><rect x="80" y="0" width="502" height="1800"></rect></clipPath><clipPath class="axesclip" id="clip5c4ca8x14y"><rect x="80" y="100" width="502" height="57.9"></rect></clipPath><clipPath class="axesclip" id="clip5c4ca8x14y2"><rect x="80" y="182.2" width="502" height="57.9"></rect></clipPath><clipPath class="axesclip" id="clip5c4ca8x14y3"><rect x="80" y="264.4" width="502" height="57.9"></rect></clipPath><clipPath class="axesclip" id="clip5c4ca8x14y4"><rect x="80" y="346.6" width="502" height="57.9"></rect></clipPath><clipPath class="axesclip" id="clip5c4ca8x14y5"><rect x="80" y="428.8" width="502" height="57.9"></rect></clipPath><clipPath class="axesclip" id="clip5c4ca8x14y6"><rect x="80" y="511.0" width="502" height="57.9"></rect></clipPath><clipPath class="axesclip" id="clip5c4ca8x14y7"><rect x="80" y="593.2" width="502" height="57.9"></rect></clipPath><clipPath class="axesclip" id="clip5c4ca8x14y8"><rect x="80" y="675.5" width="502" height="57.9"></rect></clipPath><clipPath class="axesclip" id="clip5c4ca8x14y9"><rect x="80" y="757.7" width="502" height="57.9"></rect></clipPath><clipPath class="axesclip" id="clip5c4ca8x14y10"><rect x="80" y="839.9" width="502" height="57.9"></rect></clipPath><clipPath class="axesclip" id="clip5c4ca8x14y11"><rect x="80" y="922.1" width="502" height="57.9"></rect></clipPath><clipPath class="axesclip" id="clip5c4ca8x14y12"><rect x="80" y="1004.3" width="502" height="57.9"></rect></clipPath><clipPath class="axesclip" id="clip5c4ca8x14y13"><rect x="80" y="1086.5" width="502" height="57.9"></rect></clipPath><clipPath class="axesclip" id="clip5c4ca8x14y14"><rect x="80" y="1168.7" width="502" height="57.9"></rect></clipPath><clipPath class="axesclip" id="clip5c4ca8x14y15"><rect x="80" y="1251.0" width="502" height="57.9"></rect></clipPath><clipPath class="axesclip" id="clip5c4ca8x14y16"><rect x="80" y="1333.2" width="502" height="57.9"></rect></clipPath><clipPath class="axesclip" id="clip5c4ca8x14y17"><rect x="80" y="1415.4" width="502" height="57.9"></rect></clipPath><clipPath class="axesclip" id="clip5c4ca8x14y18"><rect x="80" y="1497.6" width="502" height="57.9"></rect></clipPath><clipPath class="axesclip" id="clip5c4ca8x14y19"><rect x="80" y="1579.8" width="502" height="57.9"></rect></clipPath><clipPath class="axesclip" id="clip5c4ca8x14y20"><rect x="80" y="1662.0" width="502" height="57.9"></rect></clipPath><clipPath class="axesclip" id="clip5c4ca8x15"><rect x="80" y="0" width="502" height="1800"></rect></clipPath><clipPath class="axesclip" id="clip5c4ca8x15y"><rect x="80" y="100" width="502" height="57.9"></rect></clipPath><clipPath class="axesclip" id="clip5c4ca8x15y2"><rect x="80" y="182.2" width="502" height="57.9"></rect></clipPath><clipPath class="axesclip" id="clip5c4ca8x15y3"><rect x="80" y="264.4" width="502" height="57.9"></rect></clipPath><clipPath class="axesclip" id="clip5c4ca8x15y4"><rect x="80" y="346.6" width="502" height="57.9"></rect></clipPath><clipPath class="axesclip" id="clip5c4ca8x15y5"><rect x="80" y="428.8" width="502" height="57.9"></rect></clipPath><clipPath class="axesclip" id="clip5c4ca8x15y6"><rect x="80" y="511.0" width="502" height="57.9"></rect></clipPath><clipPath class="axesclip" id="clip5c4ca8x15y7"><rect x="80" y="593.2" width="502" height="57.9"></rect></clipPath><clipPath class="axesclip" id="clip5c4ca8x15y8"><rect x="80" y="675.5" width="502" height="57.9"></rect></clipPath><clipPath class="axesclip" id="clip5c4ca8x15y9"><rect x="80" y="757.7" width="502" height="57.9"></rect></clipPath><clipPath class="axesclip" id="clip5c4ca8x15y10"><rect x="80" y="839.9" width="502" height="57.9"></rect></clipPath><clipPath class="axesclip" id="clip5c4ca8x15y11"><rect x="80" y="922.1" width="502" height="57.9"></rect></clipPath><clipPath class="axesclip" id="clip5c4ca8x15y12"><rect x="80" y="1004.3" width="502" height="57.9"></rect></clipPath><clipPath class="axesclip" id="clip5c4ca8x15y13"><rect x="80" y="1086.5" width="502" height="57.9"></rect></clipPath><clipPath class="axesclip" id="clip5c4ca8x15y14"><rect x="80" y="1168.7" width="502" height="57.9"></rect></clipPath><clipPath class="axesclip" id="clip5c4ca8x15y15"><rect x="80" y="1251.0" width="502" height="57.9"></rect></clipPath><clipPath class="axesclip" id="clip5c4ca8x15y16"><rect x="80" y="1333.2" width="502" height="57.9"></rect></clipPath><clipPath class="axesclip" id="clip5c4ca8x15y17"><rect x="80" y="1415.4" width="502" height="57.9"></rect></clipPath><clipPath class="axesclip" id="clip5c4ca8x15y18"><rect x="80" y="1497.6" width="502" height="57.9"></rect></clipPath><clipPath class="axesclip" id="clip5c4ca8x15y19"><rect x="80" y="1579.8" width="502" height="57.9"></rect></clipPath><clipPath class="axesclip" id="clip5c4ca8x15y20"><rect x="80" y="1662.0" width="502" height="57.9"></rect></clipPath><clipPath class="axesclip" id="clip5c4ca8x16"><rect x="80" y="0" width="502" height="1800"></rect></clipPath><clipPath class="axesclip" id="clip5c4ca8x16y"><rect x="80" y="100" width="502" height="57.9"></rect></clipPath><clipPath class="axesclip" id="clip5c4ca8x16y2"><rect x="80" y="182.2" width="502" height="57.9"></rect></clipPath><clipPath class="axesclip" id="clip5c4ca8x16y3"><rect x="80" y="264.4" width="502" height="57.9"></rect></clipPath><clipPath class="axesclip" id="clip5c4ca8x16y4"><rect x="80" y="346.6" width="502" height="57.9"></rect></clipPath><clipPath class="axesclip" id="clip5c4ca8x16y5"><rect x="80" y="428.8" width="502" height="57.9"></rect></clipPath><clipPath class="axesclip" id="clip5c4ca8x16y6"><rect x="80" y="511.0" width="502" height="57.9"></rect></clipPath><clipPath class="axesclip" id="clip5c4ca8x16y7"><rect x="80" y="593.2" width="502" height="57.9"></rect></clipPath><clipPath class="axesclip" id="clip5c4ca8x16y8"><rect x="80" y="675.5" width="502" height="57.9"></rect></clipPath><clipPath class="axesclip" id="clip5c4ca8x16y9"><rect x="80" y="757.7" width="502" height="57.9"></rect></clipPath><clipPath class="axesclip" id="clip5c4ca8x16y10"><rect x="80" y="839.9" width="502" height="57.9"></rect></clipPath><clipPath class="axesclip" id="clip5c4ca8x16y11"><rect x="80" y="922.1" width="502" height="57.9"></rect></clipPath><clipPath class="axesclip" id="clip5c4ca8x16y12"><rect x="80" y="1004.3" width="502" height="57.9"></rect></clipPath><clipPath class="axesclip" id="clip5c4ca8x16y13"><rect x="80" y="1086.5" width="502" height="57.9"></rect></clipPath><clipPath class="axesclip" id="clip5c4ca8x16y14"><rect x="80" y="1168.7" width="502" height="57.9"></rect></clipPath><clipPath class="axesclip" id="clip5c4ca8x16y15"><rect x="80" y="1251.0" width="502" height="57.9"></rect></clipPath><clipPath class="axesclip" id="clip5c4ca8x16y16"><rect x="80" y="1333.2" width="502" height="57.9"></rect></clipPath><clipPath class="axesclip" id="clip5c4ca8x16y17"><rect x="80" y="1415.4" width="502" height="57.9"></rect></clipPath><clipPath class="axesclip" id="clip5c4ca8x16y18"><rect x="80" y="1497.6" width="502" height="57.9"></rect></clipPath><clipPath class="axesclip" id="clip5c4ca8x16y19"><rect x="80" y="1579.8" width="502" height="57.9"></rect></clipPath><clipPath class="axesclip" id="clip5c4ca8x16y20"><rect x="80" y="1662.0" width="502" height="57.9"></rect></clipPath><clipPath class="axesclip" id="clip5c4ca8x17"><rect x="80" y="0" width="502" height="1800"></rect></clipPath><clipPath class="axesclip" id="clip5c4ca8x17y"><rect x="80" y="100" width="502" height="57.9"></rect></clipPath><clipPath class="axesclip" id="clip5c4ca8x17y2"><rect x="80" y="182.2" width="502" height="57.9"></rect></clipPath><clipPath class="axesclip" id="clip5c4ca8x17y3"><rect x="80" y="264.4" width="502" height="57.9"></rect></clipPath><clipPath class="axesclip" id="clip5c4ca8x17y4"><rect x="80" y="346.6" width="502" height="57.9"></rect></clipPath><clipPath class="axesclip" id="clip5c4ca8x17y5"><rect x="80" y="428.8" width="502" height="57.9"></rect></clipPath><clipPath class="axesclip" id="clip5c4ca8x17y6"><rect x="80" y="511.0" width="502" height="57.9"></rect></clipPath><clipPath class="axesclip" id="clip5c4ca8x17y7"><rect x="80" y="593.2" width="502" height="57.9"></rect></clipPath><clipPath class="axesclip" id="clip5c4ca8x17y8"><rect x="80" y="675.5" width="502" height="57.9"></rect></clipPath><clipPath class="axesclip" id="clip5c4ca8x17y9"><rect x="80" y="757.7" width="502" height="57.9"></rect></clipPath><clipPath class="axesclip" id="clip5c4ca8x17y10"><rect x="80" y="839.9" width="502" height="57.9"></rect></clipPath><clipPath class="axesclip" id="clip5c4ca8x17y11"><rect x="80" y="922.1" width="502" height="57.9"></rect></clipPath><clipPath class="axesclip" id="clip5c4ca8x17y12"><rect x="80" y="1004.3" width="502" height="57.9"></rect></clipPath><clipPath class="axesclip" id="clip5c4ca8x17y13"><rect x="80" y="1086.5" width="502" height="57.9"></rect></clipPath><clipPath class="axesclip" id="clip5c4ca8x17y14"><rect x="80" y="1168.7" width="502" height="57.9"></rect></clipPath><clipPath class="axesclip" id="clip5c4ca8x17y15"><rect x="80" y="1251.0" width="502" height="57.9"></rect></clipPath><clipPath class="axesclip" id="clip5c4ca8x17y16"><rect x="80" y="1333.2" width="502" height="57.9"></rect></clipPath><clipPath class="axesclip" id="clip5c4ca8x17y17"><rect x="80" y="1415.4" width="502" height="57.9"></rect></clipPath><clipPath class="axesclip" id="clip5c4ca8x17y18"><rect x="80" y="1497.6" width="502" height="57.9"></rect></clipPath><clipPath class="axesclip" id="clip5c4ca8x17y19"><rect x="80" y="1579.8" width="502" height="57.9"></rect></clipPath><clipPath class="axesclip" id="clip5c4ca8x17y20"><rect x="80" y="1662.0" width="502" height="57.9"></rect></clipPath><clipPath class="axesclip" id="clip5c4ca8x18"><rect x="80" y="0" width="502" height="1800"></rect></clipPath><clipPath class="axesclip" id="clip5c4ca8x18y"><rect x="80" y="100" width="502" height="57.9"></rect></clipPath><clipPath class="axesclip" id="clip5c4ca8x18y2"><rect x="80" y="182.2" width="502" height="57.9"></rect></clipPath><clipPath class="axesclip" id="clip5c4ca8x18y3"><rect x="80" y="264.4" width="502" height="57.9"></rect></clipPath><clipPath class="axesclip" id="clip5c4ca8x18y4"><rect x="80" y="346.6" width="502" height="57.9"></rect></clipPath><clipPath class="axesclip" id="clip5c4ca8x18y5"><rect x="80" y="428.8" width="502" height="57.9"></rect></clipPath><clipPath class="axesclip" id="clip5c4ca8x18y6"><rect x="80" y="511.0" width="502" height="57.9"></rect></clipPath><clipPath class="axesclip" id="clip5c4ca8x18y7"><rect x="80" y="593.2" width="502" height="57.9"></rect></clipPath><clipPath class="axesclip" id="clip5c4ca8x18y8"><rect x="80" y="675.5" width="502" height="57.9"></rect></clipPath><clipPath class="axesclip" id="clip5c4ca8x18y9"><rect x="80" y="757.7" width="502" height="57.9"></rect></clipPath><clipPath class="axesclip" id="clip5c4ca8x18y10"><rect x="80" y="839.9" width="502" height="57.9"></rect></clipPath><clipPath class="axesclip" id="clip5c4ca8x18y11"><rect x="80" y="922.1" width="502" height="57.9"></rect></clipPath><clipPath class="axesclip" id="clip5c4ca8x18y12"><rect x="80" y="1004.3" width="502" height="57.9"></rect></clipPath><clipPath class="axesclip" id="clip5c4ca8x18y13"><rect x="80" y="1086.5" width="502" height="57.9"></rect></clipPath><clipPath class="axesclip" id="clip5c4ca8x18y14"><rect x="80" y="1168.7" width="502" height="57.9"></rect></clipPath><clipPath class="axesclip" id="clip5c4ca8x18y15"><rect x="80" y="1251.0" width="502" height="57.9"></rect></clipPath><clipPath class="axesclip" id="clip5c4ca8x18y16"><rect x="80" y="1333.2" width="502" height="57.9"></rect></clipPath><clipPath class="axesclip" id="clip5c4ca8x18y17"><rect x="80" y="1415.4" width="502" height="57.9"></rect></clipPath><clipPath class="axesclip" id="clip5c4ca8x18y18"><rect x="80" y="1497.6" width="502" height="57.9"></rect></clipPath><clipPath class="axesclip" id="clip5c4ca8x18y19"><rect x="80" y="1579.8" width="502" height="57.9"></rect></clipPath><clipPath class="axesclip" id="clip5c4ca8x18y20"><rect x="80" y="1662.0" width="502" height="57.9"></rect></clipPath><clipPath class="axesclip" id="clip5c4ca8x19"><rect x="80" y="0" width="502" height="1800"></rect></clipPath><clipPath class="axesclip" id="clip5c4ca8x19y"><rect x="80" y="100" width="502" height="57.9"></rect></clipPath><clipPath class="axesclip" id="clip5c4ca8x19y2"><rect x="80" y="182.2" width="502" height="57.9"></rect></clipPath><clipPath class="axesclip" id="clip5c4ca8x19y3"><rect x="80" y="264.4" width="502" height="57.9"></rect></clipPath><clipPath class="axesclip" id="clip5c4ca8x19y4"><rect x="80" y="346.6" width="502" height="57.9"></rect></clipPath><clipPath class="axesclip" id="clip5c4ca8x19y5"><rect x="80" y="428.8" width="502" height="57.9"></rect></clipPath><clipPath class="axesclip" id="clip5c4ca8x19y6"><rect x="80" y="511.0" width="502" height="57.9"></rect></clipPath><clipPath class="axesclip" id="clip5c4ca8x19y7"><rect x="80" y="593.2" width="502" height="57.9"></rect></clipPath><clipPath class="axesclip" id="clip5c4ca8x19y8"><rect x="80" y="675.5" width="502" height="57.9"></rect></clipPath><clipPath class="axesclip" id="clip5c4ca8x19y9"><rect x="80" y="757.7" width="502" height="57.9"></rect></clipPath><clipPath class="axesclip" id="clip5c4ca8x19y10"><rect x="80" y="839.9" width="502" height="57.9"></rect></clipPath><clipPath class="axesclip" id="clip5c4ca8x19y11"><rect x="80" y="922.1" width="502" height="57.9"></rect></clipPath><clipPath class="axesclip" id="clip5c4ca8x19y12"><rect x="80" y="1004.3" width="502" height="57.9"></rect></clipPath><clipPath class="axesclip" id="clip5c4ca8x19y13"><rect x="80" y="1086.5" width="502" height="57.9"></rect></clipPath><clipPath class="axesclip" id="clip5c4ca8x19y14"><rect x="80" y="1168.7" width="502" height="57.9"></rect></clipPath><clipPath class="axesclip" id="clip5c4ca8x19y15"><rect x="80" y="1251.0" width="502" height="57.9"></rect></clipPath><clipPath class="axesclip" id="clip5c4ca8x19y16"><rect x="80" y="1333.2" width="502" height="57.9"></rect></clipPath><clipPath class="axesclip" id="clip5c4ca8x19y17"><rect x="80" y="1415.4" width="502" height="57.9"></rect></clipPath><clipPath class="axesclip" id="clip5c4ca8x19y18"><rect x="80" y="1497.6" width="502" height="57.9"></rect></clipPath><clipPath class="axesclip" id="clip5c4ca8x19y19"><rect x="80" y="1579.8" width="502" height="57.9"></rect></clipPath><clipPath class="axesclip" id="clip5c4ca8x19y20"><rect x="80" y="1662.0" width="502" height="57.9"></rect></clipPath><clipPath class="axesclip" id="clip5c4ca8x20"><rect x="80" y="0" width="502" height="1800"></rect></clipPath><clipPath class="axesclip" id="clip5c4ca8x20y"><rect x="80" y="100" width="502" height="57.9"></rect></clipPath><clipPath class="axesclip" id="clip5c4ca8x20y2"><rect x="80" y="182.2" width="502" height="57.9"></rect></clipPath><clipPath class="axesclip" id="clip5c4ca8x20y3"><rect x="80" y="264.4" width="502" height="57.9"></rect></clipPath><clipPath class="axesclip" id="clip5c4ca8x20y4"><rect x="80" y="346.6" width="502" height="57.9"></rect></clipPath><clipPath class="axesclip" id="clip5c4ca8x20y5"><rect x="80" y="428.8" width="502" height="57.9"></rect></clipPath><clipPath class="axesclip" id="clip5c4ca8x20y6"><rect x="80" y="511.0" width="502" height="57.9"></rect></clipPath><clipPath class="axesclip" id="clip5c4ca8x20y7"><rect x="80" y="593.2" width="502" height="57.9"></rect></clipPath><clipPath class="axesclip" id="clip5c4ca8x20y8"><rect x="80" y="675.5" width="502" height="57.9"></rect></clipPath><clipPath class="axesclip" id="clip5c4ca8x20y9"><rect x="80" y="757.7" width="502" height="57.9"></rect></clipPath><clipPath class="axesclip" id="clip5c4ca8x20y10"><rect x="80" y="839.9" width="502" height="57.9"></rect></clipPath><clipPath class="axesclip" id="clip5c4ca8x20y11"><rect x="80" y="922.1" width="502" height="57.9"></rect></clipPath><clipPath class="axesclip" id="clip5c4ca8x20y12"><rect x="80" y="1004.3" width="502" height="57.9"></rect></clipPath><clipPath class="axesclip" id="clip5c4ca8x20y13"><rect x="80" y="1086.5" width="502" height="57.9"></rect></clipPath><clipPath class="axesclip" id="clip5c4ca8x20y14"><rect x="80" y="1168.7" width="502" height="57.9"></rect></clipPath><clipPath class="axesclip" id="clip5c4ca8x20y15"><rect x="80" y="1251.0" width="502" height="57.9"></rect></clipPath><clipPath class="axesclip" id="clip5c4ca8x20y16"><rect x="80" y="1333.2" width="502" height="57.9"></rect></clipPath><clipPath class="axesclip" id="clip5c4ca8x20y17"><rect x="80" y="1415.4" width="502" height="57.9"></rect></clipPath><clipPath class="axesclip" id="clip5c4ca8x20y18"><rect x="80" y="1497.6" width="502" height="57.9"></rect></clipPath><clipPath class="axesclip" id="clip5c4ca8x20y19"><rect x="80" y="1579.8" width="502" height="57.9"></rect></clipPath><clipPath class="axesclip" id="clip5c4ca8x20y20"><rect x="80" y="1662.0" width="502" height="57.9"></rect></clipPath></g><g class="gradients"></g><g class="patterns"></g></defs><g class="bglayer"><rect class="bg" x="80" y="100" width="502" height="57.9" style="fill: rgb(229, 236, 246); fill-opacity: 1; stroke-width: 0;"></rect><rect class="bg" x="80" y="182.2" width="502" height="57.9" style="fill: rgb(229, 236, 246); fill-opacity: 1; stroke-width: 0;"></rect><rect class="bg" x="80" y="264.4" width="502" height="57.9" style="fill: rgb(229, 236, 246); fill-opacity: 1; stroke-width: 0;"></rect><rect class="bg" x="80" y="346.6" width="502" height="57.9" style="fill: rgb(229, 236, 246); fill-opacity: 1; stroke-width: 0;"></rect><rect class="bg" x="80" y="428.8" width="502" height="57.9" style="fill: rgb(229, 236, 246); fill-opacity: 1; stroke-width: 0;"></rect><rect class="bg" x="80" y="511.0" width="502" height="57.9" style="fill: rgb(229, 236, 246); fill-opacity: 1; stroke-width: 0;"></rect><rect class="bg" x="80" y="593.2" width="502" height="57.9" style="fill: rgb(229, 236, 246); fill-opacity: 1; stroke-width: 0;"></rect><rect class="bg" x="80" y="675.5" width="502" height="57.9" style="fill: rgb(229, 236, 246); fill-opacity: 1; stroke-width: 0;"></rect><rect class="bg" x="80" y="757.7" width="502" height="57.9" style="fill: rgb(229, 236, 246); fill-opacity: 1; stroke-width: 0;"></rect><rect class="bg" x="80" y="839.9" width="502" height="57.9" style="fill: rgb(229, 236, 246); fill-opacity: 1; stroke-width: 0;"></rect><rect class="bg" x="80" y="922.1" width="502" height="57.9" style="fill: rgb(229, 236, 246); fill-opacity: 1; stroke-width: 0;"></rect><rect class="bg" x="80" y="1004.3" width="502" height="57.9" style="fill: rgb(229, 236, 246); fill-opacity: 1; stroke-width: 0;"></rect><rect class="bg" x="80" y="1086.5" width="502" height="57.9" style="fill: rgb(229, 236, 246); fill-opacity: 1; stroke-width: 0;"></rect><rect class="bg" x="80" y="1168.7" width="502" height="57.9" style="fill: rgb(229, 236, 246); fill-opacity: 1; stroke-width: 0;"></rect><rect class="bg" x="80" y="1251.0" width="502" height="57.9" style="fill: rgb(229, 236, 246); fill-opacity: 1; stroke-width: 0;"></rect><rect class="bg" x="80" y="1333.2" width="502" height="57.9" style="fill: rgb(229, 236, 246); fill-opacity: 1; stroke-width: 0;"></rect><rect class="bg" x="80" y="1415.4" width="502" height="57.9" style="fill: rgb(229, 236, 246); fill-opacity: 1; stroke-width: 0;"></rect><rect class="bg" x="80" y="1497.6" width="502" height="57.9" style="fill: rgb(229, 236, 246); fill-opacity: 1; stroke-width: 0;"></rect><rect class="bg" x="80" y="1579.8" width="502" height="57.9" style="fill: rgb(229, 236, 246); fill-opacity: 1; stroke-width: 0;"></rect><rect class="bg" x="80" y="1662.0" width="502" height="57.9" style="fill: rgb(229, 236, 246); fill-opacity: 1; stroke-width: 0;"></rect></g><g class="draglayer"><g class="xy"></g><g class="x2y2"></g><g class="x3y3"></g><g class="x4y4"></g><g class="x5y5"></g><g class="x6y6"></g><g class="x7y7"></g><g class="x8y8"></g><g class="x9y9"></g><g class="x10y10"></g><g class="x11y11"></g><g class="x12y12"></g><g class="x13y13"></g><g class="x14y14"></g><g class="x15y15"></g><g class="x16y16"></g><g class="x17y17"></g><g class="x18y18"></g><g class="x19y19"></g><g class="x20y20"></g></g><g class="layer-below"><g class="imagelayer"></g><g class="shapelayer"></g></g><g class="cartesianlayer"><g class="subplot xy"><g class="layer-subplot"><g class="shapelayer"></g><g class="imagelayer"></g></g><g class="minor-gridlayer"><g class="x"></g><g class="y"></g></g><g class="gridlayer"><g class="x"><path class="xgrid crisp" transform="translate(163.9,0)" d="M0,100v57.9" style="stroke: rgb(255, 255, 255); stroke-opacity: 1; stroke-width: 1px;"></path><path class="xgrid crisp" transform="translate(247.8,0)" d="M0,100v57.9" style="stroke: rgb(255, 255, 255); stroke-opacity: 1; stroke-width: 1px;"></path><path class="xgrid crisp" transform="translate(331.8,0)" d="M0,100v57.9" style="stroke: rgb(255, 255, 255); stroke-opacity: 1; stroke-width: 1px;"></path><path class="xgrid crisp" transform="translate(415.7,0)" d="M0,100v57.9" style="stroke: rgb(255, 255, 255); stroke-opacity: 1; stroke-width: 1px;"></path><path class="xgrid crisp" transform="translate(499.7,0)" d="M0,100v57.9" style="stroke: rgb(255, 255, 255); stroke-opacity: 1; stroke-width: 1px;"></path></g><g class="y"><path class="ygrid crisp" transform="translate(0,148.7)" d="M80,0h502" style="stroke: rgb(255, 255, 255); stroke-opacity: 1; stroke-width: 1px;"></path><path class="ygrid crisp" transform="translate(0,135.8)" d="M80,0h502" style="stroke: rgb(255, 255, 255); stroke-opacity: 1; stroke-width: 1px;"></path><path class="ygrid crisp" transform="translate(0,122.9)" d="M80,0h502" style="stroke: rgb(255, 255, 255); stroke-opacity: 1; stroke-width: 1px;"></path><path class="ygrid crisp" transform="translate(0,110.1)" d="M80,0h502" style="stroke: rgb(255, 255, 255); stroke-opacity: 1; stroke-width: 1px;"></path></g></g><g class="zerolinelayer"></g><g class="layer-between"><g class="shapelayer"></g><g class="imagelayer"></g></g><path class="xlines-below"></path><path class="ylines-below"></path><g class="overlines-below"></g><g class="xaxislayer-below"></g><g class="yaxislayer-below"></g><g class="overaxes-below"></g><g class="overplot"><g class="xy" transform="translate(80,100)" clip-path="url(#clip5c4ca8xyplot)"><g class="scatterlayer mlayer"><g class="trace scatter trace246db9" style="stroke-miterlimit: 2; opacity: 1;"><g class="fills"></g><g class="errorbars"></g><g class="lines"><path class="js-line" d="M-2,41.2L48.4,40.1L93.4,36.0L106.0,33.6L142.0,24.1L167.2,16.9L205.0,4.3L217.6,2.8L287.8,11.5L302.2,16.0L318.4,24.6L345.4,41.2L358.0,45.2L376.0,49.2L390.7,51.5L419.9,52.8L502.2,54.7" style="vector-effect: none; fill: none; stroke: rgb(128, 128, 128); stroke-opacity: 1; stroke-width: 4px; opacity: 1;"></path></g><g class="points"></g><g class="text"></g></g><g class="trace scatter tracee6f5f7" style="stroke-miterlimit: 2; opacity: 1;"><g class="fills"></g><g class="errorbars"></g><g class="lines"><path class="js-line" d="M-2,40.5L34.0,40.4L82.6,37.7L93.4,36.3L115.0,31.3L167.2,16.9L205.0,4.3L217.6,2.8L287.8,11.5L302.2,16.0L318.4,24.6L345.4,41.2L358.0,45.2L376.0,49.2L390.7,51.5L419.9,52.8L502.2,54.7" style="vector-effect: none; fill: none; stroke: rgb(239, 85, 59); stroke-opacity: 1; stroke-width: 2px; opacity: 1;"></path></g><g class="points"></g><g class="text"></g></g></g></g></g><g class="zerolinelayer-above"></g><path class="xlines-above crisp" d="M0,0" style="fill: none;"></path><path class="ylines-above crisp" d="M0,0" style="fill: none;"></path><g class="overlines-above"></g><g class="xaxislayer-above"><g class="xtick"><text text-anchor="middle" x="0" y="170.9" transform="translate(80,0)" style="font-family: &quot;Liberation Sans&quot;, sans-serif; font-size: 12px; fill: rgb(42, 63, 95); fill-opacity: 1; font-weight: normal; font-style: normal; font-variant: normal; white-space: pre;">450</text></g><g class="xtick"><text text-anchor="middle" x="0" y="170.9" style="font-family: &quot;Liberation Sans&quot;, sans-serif; font-size: 12px; fill: rgb(42, 63, 95); fill-opacity: 1; font-weight: normal; font-style: normal; font-variant: normal; white-space: pre;" transform="translate(163.9,0)">500</text></g><g class="xtick"><text text-anchor="middle" x="0" y="170.9" style="font-family: &quot;Liberation Sans&quot;, sans-serif; font-size: 12px; fill: rgb(42, 63, 95); fill-opacity: 1; font-weight: normal; font-style: normal; font-variant: normal; white-space: pre;" transform="translate(247.8,0)">550</text></g><g class="xtick"><text text-anchor="middle" x="0" y="170.9" style="font-family: &quot;Liberation Sans&quot;, sans-serif; font-size: 12px; fill: rgb(42, 63, 95); fill-opacity: 1; font-weight: normal; font-style: normal; font-variant: normal; white-space: pre;" transform="translate(331.8,0)">600</text></g><g class="xtick"><text text-anchor="middle" x="0" y="170.9" style="font-family: &quot;Liberation Sans&quot;, sans-serif; font-size: 12px; fill: rgb(42, 63, 95); fill-opacity: 1; font-weight: normal; font-style: normal; font-variant: normal; white-space: pre;" transform="translate(415.7,0)">650</text></g><g class="xtick"><text text-anchor="middle" x="0" y="170.9" style="font-family: &quot;Liberation Sans&quot;, sans-serif; font-size: 12px; fill: rgb(42, 63, 95); fill-opacity: 1; font-weight: normal; font-style: normal; font-variant: normal; white-space: pre;" transform="translate(499.7,0)">700</text></g></g><g class="yaxislayer-above"><g class="ytick"><text text-anchor="end" x="79" y="4.1" transform="translate(0,148.7)" style="font-family: &quot;Liberation Sans&quot;, sans-serif; font-size: 12px; fill: rgb(42, 63, 95); fill-opacity: 1; font-weight: normal; font-style: normal; font-variant: normal; white-space: pre;">0.2</text></g><g class="ytick"><text text-anchor="end" x="79" y="4.1" style="font-family: &quot;Liberation Sans&quot;, sans-serif; font-size: 12px; fill: rgb(42, 63, 95); fill-opacity: 1; font-weight: normal; font-style: normal; font-variant: normal; white-space: pre;" transform="translate(0,135.8)">0.4</text></g><g class="ytick"><text text-anchor="end" x="79" y="4.1" style="font-family: &quot;Liberation Sans&quot;, sans-serif; font-size: 12px; fill: rgb(42, 63, 95); fill-opacity: 1; font-weight: normal; font-style: normal; font-variant: normal; white-space: pre;" transform="translate(0,122.9)">0.6</text></g><g class="ytick"><text text-anchor="end" x="79" y="4.1" style="font-family: &quot;Liberation Sans&quot;, sans-serif; font-size: 12px; fill: rgb(42, 63, 95); fill-opacity: 1; font-weight: normal; font-style: normal; font-variant: normal; white-space: pre;" transform="translate(0,110.1)">0.8</text></g></g><g class="overaxes-above"></g></g><g class="subplot x2y2"><g class="layer-subplot"><g class="shapelayer"></g><g class="imagelayer"></g></g><g class="minor-gridlayer"><g class="x2"></g><g class="y2"></g></g><g class="gridlayer"><g class="x2"><path class="x2grid crisp" transform="translate(163.9,0)" d="M0,182.2v57.9" style="stroke: rgb(255, 255, 255); stroke-opacity: 1; stroke-width: 1px;"></path><path class="x2grid crisp" transform="translate(247.8,0)" d="M0,182.2v57.9" style="stroke: rgb(255, 255, 255); stroke-opacity: 1; stroke-width: 1px;"></path><path class="x2grid crisp" transform="translate(331.8,0)" d="M0,182.2v57.9" style="stroke: rgb(255, 255, 255); stroke-opacity: 1; stroke-width: 1px;"></path><path class="x2grid crisp" transform="translate(415.7,0)" d="M0,182.2v57.9" style="stroke: rgb(255, 255, 255); stroke-opacity: 1; stroke-width: 1px;"></path><path class="x2grid crisp" transform="translate(499.7,0)" d="M0,182.2v57.9" style="stroke: rgb(255, 255, 255); stroke-opacity: 1; stroke-width: 1px;"></path></g><g class="y2"><path class="y2grid crisp" transform="translate(0,208.6)" d="M80,0h502" style="stroke: rgb(255, 255, 255); stroke-opacity: 1; stroke-width: 1px;"></path></g></g><g class="zerolinelayer"><path class="y2zl zl crisp" transform="translate(0,237.0)" d="M80,0h502" style="stroke: rgb(255, 255, 255); stroke-opacity: 1; stroke-width: 2px;"></path></g><g class="layer-between"><g class="shapelayer"></g><g class="imagelayer"></g></g><path class="xlines-below"></path><path class="ylines-below"></path><g class="overlines-below"></g><g class="xaxislayer-below"></g><g class="yaxislayer-below"></g><g class="overaxes-below"></g><g class="overplot"><g class="x2y2" transform="translate(80,182.2)" clip-path="url(#clip5c4ca8x2y2plot)"><g class="scatterlayer mlayer"><g class="trace scatter trace26f9ae" style="stroke-miterlimit: 2; opacity: 1;"><g class="fills"></g><g class="errorbars"></g><g class="lines"><path class="js-line" d="M-2,36.3L52.0,35.9L84.4,33.8L98.8,32.0L113.2,28.7L142.0,20.3L206.8,3.7L219.4,2.8L291.4,11.3L304.0,15.4L345.4,36.5L358.0,40.1L385.2,44.9L408.9,46.8L502.2,47.9" style="vector-effect: none; fill: none; stroke: rgb(128, 128, 128); stroke-opacity: 1; stroke-width: 4px; opacity: 1;"></path></g><g class="points"></g><g class="text"></g></g><g class="trace scatter trace2fd3c9" style="stroke-miterlimit: 2; opacity: 1;"><g class="fills"></g><g class="errorbars"></g><g class="lines"><path class="js-line" d="M-2,35.9L52.0,35.7L84.4,33.8L98.8,32.0L113.2,28.7L142.0,20.3L206.8,3.7L219.4,2.8L291.4,11.3L304.0,15.4L345.4,36.5L358.0,40.1L385.2,44.9L408.9,46.8L502.2,48.2" style="vector-effect: none; fill: none; stroke: rgb(171, 99, 250); stroke-opacity: 1; stroke-width: 2px; opacity: 1;"></path></g><g class="points"></g><g class="text"></g></g></g></g></g><g class="zerolinelayer-above"></g><path class="xlines-above crisp" d="M0,0" style="fill: none;"></path><path class="ylines-above crisp" d="M0,0" style="fill: none;"></path><g class="overlines-above"></g><g class="xaxislayer-above"><g class="x2tick"><text text-anchor="middle" x="0" y="253.1" transform="translate(80,0)" style="font-family: &quot;Liberation Sans&quot;, sans-serif; font-size: 12px; fill: rgb(42, 63, 95); fill-opacity: 1; font-weight: normal; font-style: normal; font-variant: normal; white-space: pre;">450</text></g><g class="x2tick"><text text-anchor="middle" x="0" y="253.1" style="font-family: &quot;Liberation Sans&quot;, sans-serif; font-size: 12px; fill: rgb(42, 63, 95); fill-opacity: 1; font-weight: normal; font-style: normal; font-variant: normal; white-space: pre;" transform="translate(163.9,0)">500</text></g><g class="x2tick"><text text-anchor="middle" x="0" y="253.1" style="font-family: &quot;Liberation Sans&quot;, sans-serif; font-size: 12px; fill: rgb(42, 63, 95); fill-opacity: 1; font-weight: normal; font-style: normal; font-variant: normal; white-space: pre;" transform="translate(247.8,0)">550</text></g><g class="x2tick"><text text-anchor="middle" x="0" y="253.1" style="font-family: &quot;Liberation Sans&quot;, sans-serif; font-size: 12px; fill: rgb(42, 63, 95); fill-opacity: 1; font-weight: normal; font-style: normal; font-variant: normal; white-space: pre;" transform="translate(331.8,0)">600</text></g><g class="x2tick"><text text-anchor="middle" x="0" y="253.1" style="font-family: &quot;Liberation Sans&quot;, sans-serif; font-size: 12px; fill: rgb(42, 63, 95); fill-opacity: 1; font-weight: normal; font-style: normal; font-variant: normal; white-space: pre;" transform="translate(415.7,0)">650</text></g><g class="x2tick"><text text-anchor="middle" x="0" y="253.1" style="font-family: &quot;Liberation Sans&quot;, sans-serif; font-size: 12px; fill: rgb(42, 63, 95); fill-opacity: 1; font-weight: normal; font-style: normal; font-variant: normal; white-space: pre;" transform="translate(499.7,0)">700</text></g></g><g class="yaxislayer-above"><g class="y2tick"><text text-anchor="end" x="79" y="4.1" transform="translate(0,237.0)" style="font-family: &quot;Liberation Sans&quot;, sans-serif; font-size: 12px; fill: rgb(42, 63, 95); fill-opacity: 1; font-weight: normal; font-style: normal; font-variant: normal; white-space: pre;">0</text></g><g class="y2tick"><text text-anchor="end" x="79" y="4.1" style="font-family: &quot;Liberation Sans&quot;, sans-serif; font-size: 12px; fill: rgb(42, 63, 95); fill-opacity: 1; font-weight: normal; font-style: normal; font-variant: normal; white-space: pre;" transform="translate(0,208.6)">0.5</text></g></g><g class="overaxes-above"></g></g><g class="subplot x3y3"><g class="layer-subplot"><g class="shapelayer"></g><g class="imagelayer"></g></g><g class="minor-gridlayer"><g class="x3"></g><g class="y3"></g></g><g class="gridlayer"><g class="x3"><path class="x3grid crisp" transform="translate(163.9,0)" d="M0,264.4v57.9" style="stroke: rgb(255, 255, 255); stroke-opacity: 1; stroke-width: 1px;"></path><path class="x3grid crisp" transform="translate(247.8,0)" d="M0,264.4v57.9" style="stroke: rgb(255, 255, 255); stroke-opacity: 1; stroke-width: 1px;"></path><path class="x3grid crisp" transform="translate(331.8,0)" d="M0,264.4v57.9" style="stroke: rgb(255, 255, 255); stroke-opacity: 1; stroke-width: 1px;"></path><path class="x3grid crisp" transform="translate(415.7,0)" d="M0,264.4v57.9" style="stroke: rgb(255, 255, 255); stroke-opacity: 1; stroke-width: 1px;"></path><path class="x3grid crisp" transform="translate(499.7,0)" d="M0,264.4v57.9" style="stroke: rgb(255, 255, 255); stroke-opacity: 1; stroke-width: 1px;"></path></g><g class="y3"><path class="y3grid crisp" transform="translate(0,313.3)" d="M80,0h502" style="stroke: rgb(255, 255, 255); stroke-opacity: 1; stroke-width: 1px;"></path><path class="y3grid crisp" transform="translate(0,300.3)" d="M80,0h502" style="stroke: rgb(255, 255, 255); stroke-opacity: 1; stroke-width: 1px;"></path><path class="y3grid crisp" transform="translate(0,287.4)" d="M80,0h502" style="stroke: rgb(255, 255, 255); stroke-opacity: 1; stroke-width: 1px;"></path><path class="y3grid crisp" transform="translate(0,274.5)" d="M80,0h502" style="stroke: rgb(255, 255, 255); stroke-opacity: 1; stroke-width: 1px;"></path></g></g><g class="zerolinelayer"></g><g class="layer-between"><g class="shapelayer"></g><g class="imagelayer"></g></g><path class="xlines-below"></path><path class="ylines-below"></path><g class="overlines-below"></g><g class="xaxislayer-below"></g><g class="yaxislayer-below"></g><g class="overaxes-below"></g><g class="overplot"><g class="x3y3" transform="translate(80,264.4)" clip-path="url(#clip5c4ca8x3y3plot)"><g class="scatterlayer mlayer"><g class="trace scatter trace9f1a92" style="stroke-miterlimit: 2; opacity: 1;"><g class="fills"></g><g class="errorbars"></g><g class="lines"><path class="js-line" d="M-2,40.7L46.6,40.1L95.2,35.7L109.6,32.7L167.2,17.7L205.0,4.6L217.6,2.8L287.8,11.6L302.2,16.4L336.4,36.3L350.8,42.6L376.0,49.7L396.1,51.8L502.2,54.6" style="vector-effect: none; fill: none; stroke: rgb(128, 128, 128); stroke-opacity: 1; stroke-width: 4px; opacity: 1;"></path></g><g class="points"></g><g class="text"></g></g><g class="trace scatter tracebb6055" style="stroke-miterlimit: 2; opacity: 1;"><g class="fills"></g><g class="errorbars"></g><g class="lines"><path class="js-line" d="M-2,40.1L46.6,39.7L95.2,35.8L167.2,17.7L205.0,4.9L217.6,3.0L287.8,11.6L302.2,16.4L336.4,36.3L350.8,42.6L376.0,49.7L396.1,51.8L502.2,54.6" style="vector-effect: none; fill: none; stroke: rgb(25, 211, 243); stroke-opacity: 1; stroke-width: 2px; opacity: 1;"></path></g><g class="points"></g><g class="text"></g></g></g></g></g><g class="zerolinelayer-above"></g><path class="xlines-above crisp" d="M0,0" style="fill: none;"></path><path class="ylines-above crisp" d="M0,0" style="fill: none;"></path><g class="overlines-above"></g><g class="xaxislayer-above"><g class="x3tick"><text text-anchor="middle" x="0" y="335.3" transform="translate(80,0)" style="font-family: &quot;Liberation Sans&quot;, sans-serif; font-size: 12px; fill: rgb(42, 63, 95); fill-opacity: 1; font-weight: normal; font-style: normal; font-variant: normal; white-space: pre;">450</text></g><g class="x3tick"><text text-anchor="middle" x="0" y="335.3" style="font-family: &quot;Liberation Sans&quot;, sans-serif; font-size: 12px; fill: rgb(42, 63, 95); fill-opacity: 1; font-weight: normal; font-style: normal; font-variant: normal; white-space: pre;" transform="translate(163.9,0)">500</text></g><g class="x3tick"><text text-anchor="middle" x="0" y="335.3" style="font-family: &quot;Liberation Sans&quot;, sans-serif; font-size: 12px; fill: rgb(42, 63, 95); fill-opacity: 1; font-weight: normal; font-style: normal; font-variant: normal; white-space: pre;" transform="translate(247.8,0)">550</text></g><g class="x3tick"><text text-anchor="middle" x="0" y="335.3" style="font-family: &quot;Liberation Sans&quot;, sans-serif; font-size: 12px; fill: rgb(42, 63, 95); fill-opacity: 1; font-weight: normal; font-style: normal; font-variant: normal; white-space: pre;" transform="translate(331.8,0)">600</text></g><g class="x3tick"><text text-anchor="middle" x="0" y="335.3" style="font-family: &quot;Liberation Sans&quot;, sans-serif; font-size: 12px; fill: rgb(42, 63, 95); fill-opacity: 1; font-weight: normal; font-style: normal; font-variant: normal; white-space: pre;" transform="translate(415.7,0)">650</text></g><g class="x3tick"><text text-anchor="middle" x="0" y="335.3" style="font-family: &quot;Liberation Sans&quot;, sans-serif; font-size: 12px; fill: rgb(42, 63, 95); fill-opacity: 1; font-weight: normal; font-style: normal; font-variant: normal; white-space: pre;" transform="translate(499.7,0)">700</text></g></g><g class="yaxislayer-above"><g class="y3tick"><text text-anchor="end" x="79" y="4.1" transform="translate(0,313.3)" style="font-family: &quot;Liberation Sans&quot;, sans-serif; font-size: 12px; fill: rgb(42, 63, 95); fill-opacity: 1; font-weight: normal; font-style: normal; font-variant: normal; white-space: pre;">0.2</text></g><g class="y3tick"><text text-anchor="end" x="79" y="4.1" style="font-family: &quot;Liberation Sans&quot;, sans-serif; font-size: 12px; fill: rgb(42, 63, 95); fill-opacity: 1; font-weight: normal; font-style: normal; font-variant: normal; white-space: pre;" transform="translate(0,300.3)">0.4</text></g><g class="y3tick"><text text-anchor="end" x="79" y="4.1" style="font-family: &quot;Liberation Sans&quot;, sans-serif; font-size: 12px; fill: rgb(42, 63, 95); fill-opacity: 1; font-weight: normal; font-style: normal; font-variant: normal; white-space: pre;" transform="translate(0,287.4)">0.6</text></g><g class="y3tick"><text text-anchor="end" x="79" y="4.1" style="font-family: &quot;Liberation Sans&quot;, sans-serif; font-size: 12px; fill: rgb(42, 63, 95); fill-opacity: 1; font-weight: normal; font-style: normal; font-variant: normal; white-space: pre;" transform="translate(0,274.5)">0.8</text></g></g><g class="overaxes-above"></g></g><g class="subplot x4y4"><g class="layer-subplot"><g class="shapelayer"></g><g class="imagelayer"></g></g><g class="minor-gridlayer"><g class="x4"></g><g class="y4"></g></g><g class="gridlayer"><g class="x4"><path class="x4grid crisp" transform="translate(163.9,0)" d="M0,346.6v57.9" style="stroke: rgb(255, 255, 255); stroke-opacity: 1; stroke-width: 1px;"></path><path class="x4grid crisp" transform="translate(247.8,0)" d="M0,346.6v57.9" style="stroke: rgb(255, 255, 255); stroke-opacity: 1; stroke-width: 1px;"></path><path class="x4grid crisp" transform="translate(331.8,0)" d="M0,346.6v57.9" style="stroke: rgb(255, 255, 255); stroke-opacity: 1; stroke-width: 1px;"></path><path class="x4grid crisp" transform="translate(415.7,0)" d="M0,346.6v57.9" style="stroke: rgb(255, 255, 255); stroke-opacity: 1; stroke-width: 1px;"></path><path class="x4grid crisp" transform="translate(499.7,0)" d="M0,346.6v57.9" style="stroke: rgb(255, 255, 255); stroke-opacity: 1; stroke-width: 1px;"></path></g><g class="y4"><path class="y4grid crisp" transform="translate(0,395.4)" d="M80,0h502" style="stroke: rgb(255, 255, 255); stroke-opacity: 1; stroke-width: 1px;"></path><path class="y4grid crisp" transform="translate(0,382.5)" d="M80,0h502" style="stroke: rgb(255, 255, 255); stroke-opacity: 1; stroke-width: 1px;"></path><path class="y4grid crisp" transform="translate(0,369.5)" d="M80,0h502" style="stroke: rgb(255, 255, 255); stroke-opacity: 1; stroke-width: 1px;"></path><path class="y4grid crisp" transform="translate(0,356.5)" d="M80,0h502" style="stroke: rgb(255, 255, 255); stroke-opacity: 1; stroke-width: 1px;"></path></g></g><g class="zerolinelayer"></g><g class="layer-between"><g class="shapelayer"></g><g class="imagelayer"></g></g><path class="xlines-below"></path><path class="ylines-below"></path><g class="overlines-below"></g><g class="xaxislayer-below"></g><g class="yaxislayer-below"></g><g class="overaxes-below"></g><g class="overplot"><g class="x4y4" transform="translate(80,346.6)" clip-path="url(#clip5c4ca8x4y4plot)"><g class="scatterlayer mlayer"><g class="trace scatter trace05d35a" style="stroke-miterlimit: 2; opacity: 1;"><g class="fills"></g><g class="errorbars"></g><g class="lines"><path class="js-line" d="M-2,40.2L48.4,39.8L95.2,35.3L142.0,24.1L185.2,11.1L205.0,3.9L217.6,2.4L232.0,3.4L250.0,6.2L268.0,7.4L287.8,10.7L302.2,16.2L322.0,27.9L350.8,41.4L376.0,49.5L396.1,51.8L502.2,54.6" style="vector-effect: none; fill: none; stroke: rgb(128, 128, 128); stroke-opacity: 1; stroke-width: 4px; opacity: 1;"></path></g><g class="points"></g><g class="text"></g></g><g class="trace scatter trace667ea4" style="stroke-miterlimit: 2; opacity: 1;"><g class="fills"></g><g class="errorbars"></g><g class="lines"><path class="js-line" d="M-2,40.2L48.4,39.9L95.2,35.8L142.0,24.6L167.2,17.4L205.0,4.4L217.6,3.0L232.0,3.8L250.0,6.5L268.0,7.7L287.8,11.0L302.2,16.3L322.0,28.0L336.4,35.3L350.8,41.6L376.0,49.5L396.1,51.5L502.2,54.5" style="vector-effect: none; fill: none; stroke: rgb(182, 232, 128); stroke-opacity: 1; stroke-width: 2px; opacity: 1;"></path></g><g class="points"></g><g class="text"></g></g></g></g></g><g class="zerolinelayer-above"></g><path class="xlines-above crisp" d="M0,0" style="fill: none;"></path><path class="ylines-above crisp" d="M0,0" style="fill: none;"></path><g class="overlines-above"></g><g class="xaxislayer-above"><g class="x4tick"><text text-anchor="middle" x="0" y="417.5" transform="translate(80,0)" style="font-family: &quot;Liberation Sans&quot;, sans-serif; font-size: 12px; fill: rgb(42, 63, 95); fill-opacity: 1; font-weight: normal; font-style: normal; font-variant: normal; white-space: pre;">450</text></g><g class="x4tick"><text text-anchor="middle" x="0" y="417.5" style="font-family: &quot;Liberation Sans&quot;, sans-serif; font-size: 12px; fill: rgb(42, 63, 95); fill-opacity: 1; font-weight: normal; font-style: normal; font-variant: normal; white-space: pre;" transform="translate(163.9,0)">500</text></g><g class="x4tick"><text text-anchor="middle" x="0" y="417.5" style="font-family: &quot;Liberation Sans&quot;, sans-serif; font-size: 12px; fill: rgb(42, 63, 95); fill-opacity: 1; font-weight: normal; font-style: normal; font-variant: normal; white-space: pre;" transform="translate(247.8,0)">550</text></g><g class="x4tick"><text text-anchor="middle" x="0" y="417.5" style="font-family: &quot;Liberation Sans&quot;, sans-serif; font-size: 12px; fill: rgb(42, 63, 95); fill-opacity: 1; font-weight: normal; font-style: normal; font-variant: normal; white-space: pre;" transform="translate(331.8,0)">600</text></g><g class="x4tick"><text text-anchor="middle" x="0" y="417.5" style="font-family: &quot;Liberation Sans&quot;, sans-serif; font-size: 12px; fill: rgb(42, 63, 95); fill-opacity: 1; font-weight: normal; font-style: normal; font-variant: normal; white-space: pre;" transform="translate(415.7,0)">650</text></g><g class="x4tick"><text text-anchor="middle" x="0" y="417.5" style="font-family: &quot;Liberation Sans&quot;, sans-serif; font-size: 12px; fill: rgb(42, 63, 95); fill-opacity: 1; font-weight: normal; font-style: normal; font-variant: normal; white-space: pre;" transform="translate(499.7,0)">700</text></g></g><g class="yaxislayer-above"><g class="y4tick"><text text-anchor="end" x="79" y="4.1" transform="translate(0,395.4)" style="font-family: &quot;Liberation Sans&quot;, sans-serif; font-size: 12px; fill: rgb(42, 63, 95); fill-opacity: 1; font-weight: normal; font-style: normal; font-variant: normal; white-space: pre;">0.2</text></g><g class="y4tick"><text text-anchor="end" x="79" y="4.1" style="font-family: &quot;Liberation Sans&quot;, sans-serif; font-size: 12px; fill: rgb(42, 63, 95); fill-opacity: 1; font-weight: normal; font-style: normal; font-variant: normal; white-space: pre;" transform="translate(0,382.5)">0.4</text></g><g class="y4tick"><text text-anchor="end" x="79" y="4.1" style="font-family: &quot;Liberation Sans&quot;, sans-serif; font-size: 12px; fill: rgb(42, 63, 95); fill-opacity: 1; font-weight: normal; font-style: normal; font-variant: normal; white-space: pre;" transform="translate(0,369.5)">0.6</text></g><g class="y4tick"><text text-anchor="end" x="79" y="4.1" style="font-family: &quot;Liberation Sans&quot;, sans-serif; font-size: 12px; fill: rgb(42, 63, 95); fill-opacity: 1; font-weight: normal; font-style: normal; font-variant: normal; white-space: pre;" transform="translate(0,356.5)">0.8</text></g></g><g class="overaxes-above"></g></g><g class="subplot x5y5"><g class="layer-subplot"><g class="shapelayer"></g><g class="imagelayer"></g></g><g class="minor-gridlayer"><g class="x5"></g><g class="y5"></g></g><g class="gridlayer"><g class="x5"><path class="x5grid crisp" transform="translate(163.9,0)" d="M0,428.8v57.9" style="stroke: rgb(255, 255, 255); stroke-opacity: 1; stroke-width: 1px;"></path><path class="x5grid crisp" transform="translate(247.8,0)" d="M0,428.8v57.9" style="stroke: rgb(255, 255, 255); stroke-opacity: 1; stroke-width: 1px;"></path><path class="x5grid crisp" transform="translate(331.8,0)" d="M0,428.8v57.9" style="stroke: rgb(255, 255, 255); stroke-opacity: 1; stroke-width: 1px;"></path><path class="x5grid crisp" transform="translate(415.7,0)" d="M0,428.8v57.9" style="stroke: rgb(255, 255, 255); stroke-opacity: 1; stroke-width: 1px;"></path><path class="x5grid crisp" transform="translate(499.7,0)" d="M0,428.8v57.9" style="stroke: rgb(255, 255, 255); stroke-opacity: 1; stroke-width: 1px;"></path></g><g class="y5"><path class="y5grid crisp" transform="translate(0,477.3)" d="M80,0h502" style="stroke: rgb(255, 255, 255); stroke-opacity: 1; stroke-width: 1px;"></path><path class="y5grid crisp" transform="translate(0,464.2)" d="M80,0h502" style="stroke: rgb(255, 255, 255); stroke-opacity: 1; stroke-width: 1px;"></path><path class="y5grid crisp" transform="translate(0,451.1)" d="M80,0h502" style="stroke: rgb(255, 255, 255); stroke-opacity: 1; stroke-width: 1px;"></path><path class="y5grid crisp" transform="translate(0,438.1)" d="M80,0h502" style="stroke: rgb(255, 255, 255); stroke-opacity: 1; stroke-width: 1px;"></path></g></g><g class="zerolinelayer"></g><g class="layer-between"><g class="shapelayer"></g><g class="imagelayer"></g></g><path class="xlines-below"></path><path class="ylines-below"></path><g class="overlines-below"></g><g class="xaxislayer-below"></g><g class="yaxislayer-below"></g><g class="overaxes-below"></g><g class="overplot"><g class="x5y5" transform="translate(80,428.8)" clip-path="url(#clip5c4ca8x5y5plot)"><g class="scatterlayer mlayer"><g class="trace scatter tracebcfe75" style="stroke-miterlimit: 2; opacity: 1;"><g class="fills"></g><g class="errorbars"></g><g class="lines"><path class="js-line" d="M-2,40.4L52.0,39.8L73.6,38.6L95.2,36.2L109.6,33.2L167.2,17.2L206.8,3.7L219.4,2.5L250.0,7.0L287.8,11.2L302.2,16.3L336.4,37.0L350.8,43.3L376.0,49.3L394.3,51.6L502.2,54.2" style="vector-effect: none; fill: none; stroke: rgb(128, 128, 128); stroke-opacity: 1; stroke-width: 4px; opacity: 1;"></path></g><g class="points"></g><g class="text"></g></g><g class="trace scatter trace76b823" style="stroke-miterlimit: 2; opacity: 1;"><g class="fills"></g><g class="errorbars"></g><g class="lines"><path class="js-line" d="M-2,39.8L52.0,39.7L73.6,38.7L95.2,36.4L109.6,33.2L167.2,16.8L206.8,3.3L219.4,2.3L250.0,6.7L287.8,11.0L302.2,15.9L336.4,36.7L350.8,43.0L376.0,49.1L394.3,51.4L502.2,54.0" style="vector-effect: none; fill: none; stroke: rgb(254, 203, 82); stroke-opacity: 1; stroke-width: 2px; opacity: 1;"></path></g><g class="points"></g><g class="text"></g></g></g></g></g><g class="zerolinelayer-above"></g><path class="xlines-above crisp" d="M0,0" style="fill: none;"></path><path class="ylines-above crisp" d="M0,0" style="fill: none;"></path><g class="overlines-above"></g><g class="xaxislayer-above"><g class="x5tick"><text text-anchor="middle" x="0" y="499.7" transform="translate(80,0)" style="font-family: &quot;Liberation Sans&quot;, sans-serif; font-size: 12px; fill: rgb(42, 63, 95); fill-opacity: 1; font-weight: normal; font-style: normal; font-variant: normal; white-space: pre;">450</text></g><g class="x5tick"><text text-anchor="middle" x="0" y="499.7" style="font-family: &quot;Liberation Sans&quot;, sans-serif; font-size: 12px; fill: rgb(42, 63, 95); fill-opacity: 1; font-weight: normal; font-style: normal; font-variant: normal; white-space: pre;" transform="translate(163.9,0)">500</text></g><g class="x5tick"><text text-anchor="middle" x="0" y="499.7" style="font-family: &quot;Liberation Sans&quot;, sans-serif; font-size: 12px; fill: rgb(42, 63, 95); fill-opacity: 1; font-weight: normal; font-style: normal; font-variant: normal; white-space: pre;" transform="translate(247.8,0)">550</text></g><g class="x5tick"><text text-anchor="middle" x="0" y="499.7" style="font-family: &quot;Liberation Sans&quot;, sans-serif; font-size: 12px; fill: rgb(42, 63, 95); fill-opacity: 1; font-weight: normal; font-style: normal; font-variant: normal; white-space: pre;" transform="translate(331.8,0)">600</text></g><g class="x5tick"><text text-anchor="middle" x="0" y="499.7" style="font-family: &quot;Liberation Sans&quot;, sans-serif; font-size: 12px; fill: rgb(42, 63, 95); fill-opacity: 1; font-weight: normal; font-style: normal; font-variant: normal; white-space: pre;" transform="translate(415.7,0)">650</text></g><g class="x5tick"><text text-anchor="middle" x="0" y="499.7" style="font-family: &quot;Liberation Sans&quot;, sans-serif; font-size: 12px; fill: rgb(42, 63, 95); fill-opacity: 1; font-weight: normal; font-style: normal; font-variant: normal; white-space: pre;" transform="translate(499.7,0)">700</text></g></g><g class="yaxislayer-above"><g class="y5tick"><text text-anchor="end" x="79" y="4.1" transform="translate(0,477.3)" style="font-family: &quot;Liberation Sans&quot;, sans-serif; font-size: 12px; fill: rgb(42, 63, 95); fill-opacity: 1; font-weight: normal; font-style: normal; font-variant: normal; white-space: pre;">0.2</text></g><g class="y5tick"><text text-anchor="end" x="79" y="4.1" style="font-family: &quot;Liberation Sans&quot;, sans-serif; font-size: 12px; fill: rgb(42, 63, 95); fill-opacity: 1; font-weight: normal; font-style: normal; font-variant: normal; white-space: pre;" transform="translate(0,464.2)">0.4</text></g><g class="y5tick"><text text-anchor="end" x="79" y="4.1" style="font-family: &quot;Liberation Sans&quot;, sans-serif; font-size: 12px; fill: rgb(42, 63, 95); fill-opacity: 1; font-weight: normal; font-style: normal; font-variant: normal; white-space: pre;" transform="translate(0,451.1)">0.6</text></g><g class="y5tick"><text text-anchor="end" x="79" y="4.1" style="font-family: &quot;Liberation Sans&quot;, sans-serif; font-size: 12px; fill: rgb(42, 63, 95); fill-opacity: 1; font-weight: normal; font-style: normal; font-variant: normal; white-space: pre;" transform="translate(0,438.1)">0.8</text></g></g><g class="overaxes-above"></g></g><g class="subplot x6y6"><g class="layer-subplot"><g class="shapelayer"></g><g class="imagelayer"></g></g><g class="minor-gridlayer"><g class="x6"></g><g class="y6"></g></g><g class="gridlayer"><g class="x6"><path class="x6grid crisp" transform="translate(163.9,0)" d="M0,511.0v57.9" style="stroke: rgb(255, 255, 255); stroke-opacity: 1; stroke-width: 1px;"></path><path class="x6grid crisp" transform="translate(247.8,0)" d="M0,511.0v57.9" style="stroke: rgb(255, 255, 255); stroke-opacity: 1; stroke-width: 1px;"></path><path class="x6grid crisp" transform="translate(331.8,0)" d="M0,511.0v57.9" style="stroke: rgb(255, 255, 255); stroke-opacity: 1; stroke-width: 1px;"></path><path class="x6grid crisp" transform="translate(415.7,0)" d="M0,511.0v57.9" style="stroke: rgb(255, 255, 255); stroke-opacity: 1; stroke-width: 1px;"></path><path class="x6grid crisp" transform="translate(499.7,0)" d="M0,511.0v57.9" style="stroke: rgb(255, 255, 255); stroke-opacity: 1; stroke-width: 1px;"></path></g><g class="y6"><path class="y6grid crisp" transform="translate(0,559.8)" d="M80,0h502" style="stroke: rgb(255, 255, 255); stroke-opacity: 1; stroke-width: 1px;"></path><path class="y6grid crisp" transform="translate(0,546.4)" d="M80,0h502" style="stroke: rgb(255, 255, 255); stroke-opacity: 1; stroke-width: 1px;"></path><path class="y6grid crisp" transform="translate(0,532.9)" d="M80,0h502" style="stroke: rgb(255, 255, 255); stroke-opacity: 1; stroke-width: 1px;"></path><path class="y6grid crisp" transform="translate(0,519.5)" d="M80,0h502" style="stroke: rgb(255, 255, 255); stroke-opacity: 1; stroke-width: 1px;"></path></g></g><g class="zerolinelayer"></g><g class="layer-between"><g class="shapelayer"></g><g class="imagelayer"></g></g><path class="xlines-below"></path><path class="ylines-below"></path><g class="overlines-below"></g><g class="xaxislayer-below"></g><g class="yaxislayer-below"></g><g class="overaxes-below"></g><g class="overplot"><g class="x6y6" transform="translate(80,511.0)" clip-path="url(#clip5c4ca8x6y6plot)"><g class="scatterlayer mlayer"><g class="trace scatter traced494b0" style="stroke-miterlimit: 2; opacity: 1;"><g class="fills"></g><g class="errorbars"></g><g class="lines"><path class="js-line" d="M-2,39.4L73.6,38.9L95.2,36.6L109.6,33.6L167.2,17.3L206.8,3.6L217.6,2.7L286.0,10.9L298.6,15.0L334.6,36.6L354.4,45.1L376.0,49.2L394.3,51.5L502.2,54.2" style="vector-effect: none; fill: none; stroke: rgb(128, 128, 128); stroke-opacity: 1; stroke-width: 4px; opacity: 1;"></path></g><g class="points"></g><g class="text"></g></g><g class="trace scatter trace2b2657" style="stroke-miterlimit: 2; opacity: 1;"><g class="fills"></g><g class="errorbars"></g><g class="lines"><path class="js-line" d="M-2,39.2L73.6,39.1L95.2,36.6L109.6,33.6L167.2,17.3L206.8,3.6L217.6,2.7L286.0,10.9L298.6,15.0L334.6,36.6L354.4,45.1L376.0,49.2L394.3,51.5L502.2,54.2" style="vector-effect: none; fill: none; stroke: rgb(239, 85, 59); stroke-opacity: 1; stroke-width: 2px; opacity: 1;"></path></g><g class="points"></g><g class="text"></g></g></g></g></g><g class="zerolinelayer-above"></g><path class="xlines-above crisp" d="M0,0" style="fill: none;"></path><path class="ylines-above crisp" d="M0,0" style="fill: none;"></path><g class="overlines-above"></g><g class="xaxislayer-above"><g class="x6tick"><text text-anchor="middle" x="0" y="581.9" transform="translate(80,0)" style="font-family: &quot;Liberation Sans&quot;, sans-serif; font-size: 12px; fill: rgb(42, 63, 95); fill-opacity: 1; font-weight: normal; font-style: normal; font-variant: normal; white-space: pre;">450</text></g><g class="x6tick"><text text-anchor="middle" x="0" y="581.9" style="font-family: &quot;Liberation Sans&quot;, sans-serif; font-size: 12px; fill: rgb(42, 63, 95); fill-opacity: 1; font-weight: normal; font-style: normal; font-variant: normal; white-space: pre;" transform="translate(163.9,0)">500</text></g><g class="x6tick"><text text-anchor="middle" x="0" y="581.9" style="font-family: &quot;Liberation Sans&quot;, sans-serif; font-size: 12px; fill: rgb(42, 63, 95); fill-opacity: 1; font-weight: normal; font-style: normal; font-variant: normal; white-space: pre;" transform="translate(247.8,0)">550</text></g><g class="x6tick"><text text-anchor="middle" x="0" y="581.9" style="font-family: &quot;Liberation Sans&quot;, sans-serif; font-size: 12px; fill: rgb(42, 63, 95); fill-opacity: 1; font-weight: normal; font-style: normal; font-variant: normal; white-space: pre;" transform="translate(331.8,0)">600</text></g><g class="x6tick"><text text-anchor="middle" x="0" y="581.9" style="font-family: &quot;Liberation Sans&quot;, sans-serif; font-size: 12px; fill: rgb(42, 63, 95); fill-opacity: 1; font-weight: normal; font-style: normal; font-variant: normal; white-space: pre;" transform="translate(415.7,0)">650</text></g><g class="x6tick"><text text-anchor="middle" x="0" y="581.9" style="font-family: &quot;Liberation Sans&quot;, sans-serif; font-size: 12px; fill: rgb(42, 63, 95); fill-opacity: 1; font-weight: normal; font-style: normal; font-variant: normal; white-space: pre;" transform="translate(499.7,0)">700</text></g></g><g class="yaxislayer-above"><g class="y6tick"><text text-anchor="end" x="79" y="4.1" transform="translate(0,559.8)" style="font-family: &quot;Liberation Sans&quot;, sans-serif; font-size: 12px; fill: rgb(42, 63, 95); fill-opacity: 1; font-weight: normal; font-style: normal; font-variant: normal; white-space: pre;">0.2</text></g><g class="y6tick"><text text-anchor="end" x="79" y="4.1" style="font-family: &quot;Liberation Sans&quot;, sans-serif; font-size: 12px; fill: rgb(42, 63, 95); fill-opacity: 1; font-weight: normal; font-style: normal; font-variant: normal; white-space: pre;" transform="translate(0,546.4)">0.4</text></g><g class="y6tick"><text text-anchor="end" x="79" y="4.1" style="font-family: &quot;Liberation Sans&quot;, sans-serif; font-size: 12px; fill: rgb(42, 63, 95); fill-opacity: 1; font-weight: normal; font-style: normal; font-variant: normal; white-space: pre;" transform="translate(0,532.9)">0.6</text></g><g class="y6tick"><text text-anchor="end" x="79" y="4.1" style="font-family: &quot;Liberation Sans&quot;, sans-serif; font-size: 12px; fill: rgb(42, 63, 95); fill-opacity: 1; font-weight: normal; font-style: normal; font-variant: normal; white-space: pre;" transform="translate(0,519.5)">0.8</text></g></g><g class="overaxes-above"></g></g><g class="subplot x7y7"><g class="layer-subplot"><g class="shapelayer"></g><g class="imagelayer"></g></g><g class="minor-gridlayer"><g class="x7"></g><g class="y7"></g></g><g class="gridlayer"><g class="x7"><path class="x7grid crisp" transform="translate(163.9,0)" d="M0,593.2v57.9" style="stroke: rgb(255, 255, 255); stroke-opacity: 1; stroke-width: 1px;"></path><path class="x7grid crisp" transform="translate(247.8,0)" d="M0,593.2v57.9" style="stroke: rgb(255, 255, 255); stroke-opacity: 1; stroke-width: 1px;"></path><path class="x7grid crisp" transform="translate(331.8,0)" d="M0,593.2v57.9" style="stroke: rgb(255, 255, 255); stroke-opacity: 1; stroke-width: 1px;"></path><path class="x7grid crisp" transform="translate(415.7,0)" d="M0,593.2v57.9" style="stroke: rgb(255, 255, 255); stroke-opacity: 1; stroke-width: 1px;"></path><path class="x7grid crisp" transform="translate(499.7,0)" d="M0,593.2v57.9" style="stroke: rgb(255, 255, 255); stroke-opacity: 1; stroke-width: 1px;"></path></g><g class="y7"><path class="y7grid crisp" transform="translate(0,642.4)" d="M80,0h502" style="stroke: rgb(255, 255, 255); stroke-opacity: 1; stroke-width: 1px;"></path><path class="y7grid crisp" transform="translate(0,628.2)" d="M80,0h502" style="stroke: rgb(255, 255, 255); stroke-opacity: 1; stroke-width: 1px;"></path><path class="y7grid crisp" transform="translate(0,614.1)" d="M80,0h502" style="stroke: rgb(255, 255, 255); stroke-opacity: 1; stroke-width: 1px;"></path><path class="y7grid crisp" transform="translate(0,599.9)" d="M80,0h502" style="stroke: rgb(255, 255, 255); stroke-opacity: 1; stroke-width: 1px;"></path></g></g><g class="zerolinelayer"></g><g class="layer-between"><g class="shapelayer"></g><g class="imagelayer"></g></g><path class="xlines-below"></path><path class="ylines-below"></path><g class="overlines-below"></g><g class="xaxislayer-below"></g><g class="yaxislayer-below"></g><g class="overaxes-below"></g><g class="overplot"><g class="x7y7" transform="translate(80,593.2)" clip-path="url(#clip5c4ca8x7y7plot)"><g class="scatterlayer mlayer"><g class="trace scatter traced57e3e" style="stroke-miterlimit: 2; opacity: 1;"><g class="fills"></g><g class="errorbars"></g><g class="lines"><path class="js-line" d="M-2,38.9L88.0,38.0L106.0,34.6L142.0,24.7L187.0,11.2L206.8,4.0L217.6,2.7L286.0,10.6L298.6,14.8L338.2,38.2L356.2,44.9L376.0,49.4L394.3,51.8L502.2,53.8" style="vector-effect: none; fill: none; stroke: rgb(128, 128, 128); stroke-opacity: 1; stroke-width: 4px; opacity: 1;"></path></g><g class="points"></g><g class="text"></g></g><g class="trace scatter trace1bb74e" style="stroke-miterlimit: 2; opacity: 1;"><g class="fills"></g><g class="errorbars"></g><g class="lines"><path class="js-line" d="M-2,38.6L88.0,38.0L106.0,34.6L142.0,24.7L187.0,11.2L206.8,4.0L217.6,2.7L286.0,10.6L298.6,14.8L338.2,38.2L356.2,44.9L376.0,49.4L394.3,51.8L502.2,53.8" style="vector-effect: none; fill: none; stroke: rgb(171, 99, 250); stroke-opacity: 1; stroke-width: 2px; opacity: 1;"></path></g><g class="points"></g><g class="text"></g></g></g></g></g><g class="zerolinelayer-above"></g><path class="xlines-above crisp" d="M0,0" style="fill: none;"></path><path class="ylines-above crisp" d="M0,0" style="fill: none;"></path><g class="overlines-above"></g><g class="xaxislayer-above"><g class="x7tick"><text text-anchor="middle" x="0" y="664.2" transform="translate(80,0)" style="font-family: &quot;Liberation Sans&quot;, sans-serif; font-size: 12px; fill: rgb(42, 63, 95); fill-opacity: 1; font-weight: normal; font-style: normal; font-variant: normal; white-space: pre;">450</text></g><g class="x7tick"><text text-anchor="middle" x="0" y="664.2" style="font-family: &quot;Liberation Sans&quot;, sans-serif; font-size: 12px; fill: rgb(42, 63, 95); fill-opacity: 1; font-weight: normal; font-style: normal; font-variant: normal; white-space: pre;" transform="translate(163.9,0)">500</text></g><g class="x7tick"><text text-anchor="middle" x="0" y="664.2" style="font-family: &quot;Liberation Sans&quot;, sans-serif; font-size: 12px; fill: rgb(42, 63, 95); fill-opacity: 1; font-weight: normal; font-style: normal; font-variant: normal; white-space: pre;" transform="translate(247.8,0)">550</text></g><g class="x7tick"><text text-anchor="middle" x="0" y="664.2" style="font-family: &quot;Liberation Sans&quot;, sans-serif; font-size: 12px; fill: rgb(42, 63, 95); fill-opacity: 1; font-weight: normal; font-style: normal; font-variant: normal; white-space: pre;" transform="translate(331.8,0)">600</text></g><g class="x7tick"><text text-anchor="middle" x="0" y="664.2" style="font-family: &quot;Liberation Sans&quot;, sans-serif; font-size: 12px; fill: rgb(42, 63, 95); fill-opacity: 1; font-weight: normal; font-style: normal; font-variant: normal; white-space: pre;" transform="translate(415.7,0)">650</text></g><g class="x7tick"><text text-anchor="middle" x="0" y="664.2" style="font-family: &quot;Liberation Sans&quot;, sans-serif; font-size: 12px; fill: rgb(42, 63, 95); fill-opacity: 1; font-weight: normal; font-style: normal; font-variant: normal; white-space: pre;" transform="translate(499.7,0)">700</text></g></g><g class="yaxislayer-above"><g class="y7tick"><text text-anchor="end" x="79" y="4.1" transform="translate(0,642.4)" style="font-family: &quot;Liberation Sans&quot;, sans-serif; font-size: 12px; fill: rgb(42, 63, 95); fill-opacity: 1; font-weight: normal; font-style: normal; font-variant: normal; white-space: pre;">0.2</text></g><g class="y7tick"><text text-anchor="end" x="79" y="4.1" style="font-family: &quot;Liberation Sans&quot;, sans-serif; font-size: 12px; fill: rgb(42, 63, 95); fill-opacity: 1; font-weight: normal; font-style: normal; font-variant: normal; white-space: pre;" transform="translate(0,628.2)">0.4</text></g><g class="y7tick"><text text-anchor="end" x="79" y="4.1" style="font-family: &quot;Liberation Sans&quot;, sans-serif; font-size: 12px; fill: rgb(42, 63, 95); fill-opacity: 1; font-weight: normal; font-style: normal; font-variant: normal; white-space: pre;" transform="translate(0,614.1)">0.6</text></g><g class="y7tick"><text text-anchor="end" x="79" y="4.1" style="font-family: &quot;Liberation Sans&quot;, sans-serif; font-size: 12px; fill: rgb(42, 63, 95); fill-opacity: 1; font-weight: normal; font-style: normal; font-variant: normal; white-space: pre;" transform="translate(0,599.9)">0.8</text></g></g><g class="overaxes-above"></g></g><g class="subplot x8y8"><g class="layer-subplot"><g class="shapelayer"></g><g class="imagelayer"></g></g><g class="minor-gridlayer"><g class="x8"></g><g class="y8"></g></g><g class="gridlayer"><g class="x8"><path class="x8grid crisp" transform="translate(163.9,0)" d="M0,675.5v57.9" style="stroke: rgb(255, 255, 255); stroke-opacity: 1; stroke-width: 1px;"></path><path class="x8grid crisp" transform="translate(247.8,0)" d="M0,675.5v57.9" style="stroke: rgb(255, 255, 255); stroke-opacity: 1; stroke-width: 1px;"></path><path class="x8grid crisp" transform="translate(331.8,0)" d="M0,675.5v57.9" style="stroke: rgb(255, 255, 255); stroke-opacity: 1; stroke-width: 1px;"></path><path class="x8grid crisp" transform="translate(415.7,0)" d="M0,675.5v57.9" style="stroke: rgb(255, 255, 255); stroke-opacity: 1; stroke-width: 1px;"></path><path class="x8grid crisp" transform="translate(499.7,0)" d="M0,675.5v57.9" style="stroke: rgb(255, 255, 255); stroke-opacity: 1; stroke-width: 1px;"></path></g><g class="y8"><path class="y8grid crisp" transform="translate(0,725.3)" d="M80,0h502" style="stroke: rgb(255, 255, 255); stroke-opacity: 1; stroke-width: 1px;"></path><path class="y8grid crisp" transform="translate(0,709.4)" d="M80,0h502" style="stroke: rgb(255, 255, 255); stroke-opacity: 1; stroke-width: 1px;"></path><path class="y8grid crisp" transform="translate(0,693.6)" d="M80,0h502" style="stroke: rgb(255, 255, 255); stroke-opacity: 1; stroke-width: 1px;"></path><path class="y8grid crisp" transform="translate(0,677.8)" d="M80,0h502" style="stroke: rgb(255, 255, 255); stroke-opacity: 1; stroke-width: 1px;"></path></g></g><g class="zerolinelayer"></g><g class="layer-between"><g class="shapelayer"></g><g class="imagelayer"></g></g><path class="xlines-below"></path><path class="ylines-below"></path><g class="overlines-below"></g><g class="xaxislayer-below"></g><g class="yaxislayer-below"></g><g class="overaxes-below"></g><g class="overplot"><g class="x8y8" transform="translate(80,675.5)" clip-path="url(#clip5c4ca8x8y8plot)"><g class="scatterlayer mlayer"><g class="trace scatter trace05b0f9" style="stroke-miterlimit: 2; opacity: 1;"><g class="fills"></g><g class="errorbars"></g><g class="lines"><path class="js-line" d="M-2,37.5L57.4,36.2L79.0,39.3L88.0,39.3L106.0,35.7L167.2,18.2L205.0,4.7L217.6,2.8L232.0,3.7L287.8,11.5L298.6,15.1L338.2,38.5L354.4,45.2L376.0,49.6L394.3,52.3L419.9,52.9L502.2,52.3" style="vector-effect: none; fill: none; stroke: rgb(128, 128, 128); stroke-opacity: 1; stroke-width: 4px; opacity: 1;"></path></g><g class="points"></g><g class="text"></g></g><g class="trace scatter trace270826" style="stroke-miterlimit: 2; opacity: 1;"><g class="fills"></g><g class="errorbars"></g><g class="lines"><path class="js-line" d="M-2,36.0L52.0,36.7L79.0,38.9L88.0,38.5L106.0,35.7L167.2,18.2L205.0,4.7L217.6,2.9L232.0,3.8L287.8,11.5L298.6,15.1L338.2,38.5L354.4,45.2L376.0,49.6L419.9,52L502.2,54.1" style="vector-effect: none; fill: none; stroke: rgb(25, 211, 243); stroke-opacity: 1; stroke-width: 2px; opacity: 1;"></path></g><g class="points"></g><g class="text"></g></g></g></g></g><g class="zerolinelayer-above"></g><path class="xlines-above crisp" d="M0,0" style="fill: none;"></path><path class="ylines-above crisp" d="M0,0" style="fill: none;"></path><g class="overlines-above"></g><g class="xaxislayer-above"><g class="x8tick"><text text-anchor="middle" x="0" y="746.4" transform="translate(80,0)" style="font-family: &quot;Liberation Sans&quot;, sans-serif; font-size: 12px; fill: rgb(42, 63, 95); fill-opacity: 1; font-weight: normal; font-style: normal; font-variant: normal; white-space: pre;">450</text></g><g class="x8tick"><text text-anchor="middle" x="0" y="746.4" style="font-family: &quot;Liberation Sans&quot;, sans-serif; font-size: 12px; fill: rgb(42, 63, 95); fill-opacity: 1; font-weight: normal; font-style: normal; font-variant: normal; white-space: pre;" transform="translate(163.9,0)">500</text></g><g class="x8tick"><text text-anchor="middle" x="0" y="746.4" style="font-family: &quot;Liberation Sans&quot;, sans-serif; font-size: 12px; fill: rgb(42, 63, 95); fill-opacity: 1; font-weight: normal; font-style: normal; font-variant: normal; white-space: pre;" transform="translate(247.8,0)">550</text></g><g class="x8tick"><text text-anchor="middle" x="0" y="746.4" style="font-family: &quot;Liberation Sans&quot;, sans-serif; font-size: 12px; fill: rgb(42, 63, 95); fill-opacity: 1; font-weight: normal; font-style: normal; font-variant: normal; white-space: pre;" transform="translate(331.8,0)">600</text></g><g class="x8tick"><text text-anchor="middle" x="0" y="746.4" style="font-family: &quot;Liberation Sans&quot;, sans-serif; font-size: 12px; fill: rgb(42, 63, 95); fill-opacity: 1; font-weight: normal; font-style: normal; font-variant: normal; white-space: pre;" transform="translate(415.7,0)">650</text></g><g class="x8tick"><text text-anchor="middle" x="0" y="746.4" style="font-family: &quot;Liberation Sans&quot;, sans-serif; font-size: 12px; fill: rgb(42, 63, 95); fill-opacity: 1; font-weight: normal; font-style: normal; font-variant: normal; white-space: pre;" transform="translate(499.7,0)">700</text></g></g><g class="yaxislayer-above"><g class="y8tick"><text text-anchor="end" x="79" y="4.1" transform="translate(0,725.3)" style="font-family: &quot;Liberation Sans&quot;, sans-serif; font-size: 12px; fill: rgb(42, 63, 95); fill-opacity: 1; font-weight: normal; font-style: normal; font-variant: normal; white-space: pre;">0.2</text></g><g class="y8tick"><text text-anchor="end" x="79" y="4.1" style="font-family: &quot;Liberation Sans&quot;, sans-serif; font-size: 12px; fill: rgb(42, 63, 95); fill-opacity: 1; font-weight: normal; font-style: normal; font-variant: normal; white-space: pre;" transform="translate(0,709.4)">0.4</text></g><g class="y8tick"><text text-anchor="end" x="79" y="4.1" style="font-family: &quot;Liberation Sans&quot;, sans-serif; font-size: 12px; fill: rgb(42, 63, 95); fill-opacity: 1; font-weight: normal; font-style: normal; font-variant: normal; white-space: pre;" transform="translate(0,693.6)">0.6</text></g><g class="y8tick"><text text-anchor="end" x="79" y="4.1" style="font-family: &quot;Liberation Sans&quot;, sans-serif; font-size: 12px; fill: rgb(42, 63, 95); fill-opacity: 1; font-weight: normal; font-style: normal; font-variant: normal; white-space: pre;" transform="translate(0,677.8)">0.8</text></g></g><g class="overaxes-above"></g></g><g class="subplot x9y9"><g class="layer-subplot"><g class="shapelayer"></g><g class="imagelayer"></g></g><g class="minor-gridlayer"><g class="x9"></g><g class="y9"></g></g><g class="gridlayer"><g class="x9"><path class="x9grid crisp" transform="translate(163.9,0)" d="M0,757.7v57.9" style="stroke: rgb(255, 255, 255); stroke-opacity: 1; stroke-width: 1px;"></path><path class="x9grid crisp" transform="translate(247.8,0)" d="M0,757.7v57.9" style="stroke: rgb(255, 255, 255); stroke-opacity: 1; stroke-width: 1px;"></path><path class="x9grid crisp" transform="translate(331.8,0)" d="M0,757.7v57.9" style="stroke: rgb(255, 255, 255); stroke-opacity: 1; stroke-width: 1px;"></path><path class="x9grid crisp" transform="translate(415.7,0)" d="M0,757.7v57.9" style="stroke: rgb(255, 255, 255); stroke-opacity: 1; stroke-width: 1px;"></path><path class="x9grid crisp" transform="translate(499.7,0)" d="M0,757.7v57.9" style="stroke: rgb(255, 255, 255); stroke-opacity: 1; stroke-width: 1px;"></path></g><g class="y9"><path class="y9grid crisp" transform="translate(0,808.7)" d="M80,0h502" style="stroke: rgb(255, 255, 255); stroke-opacity: 1; stroke-width: 1px;"></path><path class="y9grid crisp" transform="translate(0,789.5)" d="M80,0h502" style="stroke: rgb(255, 255, 255); stroke-opacity: 1; stroke-width: 1px;"></path><path class="y9grid crisp" transform="translate(0,770.4)" d="M80,0h502" style="stroke: rgb(255, 255, 255); stroke-opacity: 1; stroke-width: 1px;"></path></g></g><g class="zerolinelayer"></g><g class="layer-between"><g class="shapelayer"></g><g class="imagelayer"></g></g><path class="xlines-below"></path><path class="ylines-below"></path><g class="overlines-below"></g><g class="xaxislayer-below"></g><g class="yaxislayer-below"></g><g class="overaxes-below"></g><g class="overplot"><g class="x9y9" transform="translate(80,757.7)" clip-path="url(#clip5c4ca8x9y9plot)"><g class="scatterlayer mlayer"><g class="trace scatter trace2fea7f" style="stroke-miterlimit: 2; opacity: 1;"><g class="fills"></g><g class="errorbars"></g><g class="lines"><path class="js-line" d="M-2,32.7L37.6,30.8L52.0,31.8L66.4,37.2L82.6,40.5L95.2,40.5L109.6,37.8L167.2,19.6L205.0,4.6L217.6,2.8L287.8,11.3L302.2,16.2L336.4,37.8L352.6,45.2L394.3,53.6L502.2,51.4" style="vector-effect: none; fill: none; stroke: rgb(128, 128, 128); stroke-opacity: 1; stroke-width: 4px; opacity: 1;"></path></g><g class="points"></g><g class="text"></g></g><g class="trace scatter tracee8d792" style="stroke-miterlimit: 2; opacity: 1;"><g class="fills"></g><g class="errorbars"></g><g class="lines"><path class="js-line" d="M-2,33.3L34.0,34.2L98.8,37.2L113.2,36.0L167.2,19.9L205.0,5.0L217.6,3.2L268.0,8.4L287.8,11.3L302.2,16.2L336.4,37.8L352.6,44.8L376.0,48.9L419.9,51.7L502.2,55.0" style="vector-effect: none; fill: none; stroke: rgb(182, 232, 128); stroke-opacity: 1; stroke-width: 2px; opacity: 1;"></path></g><g class="points"></g><g class="text"></g></g></g></g></g><g class="zerolinelayer-above"></g><path class="xlines-above crisp" d="M0,0" style="fill: none;"></path><path class="ylines-above crisp" d="M0,0" style="fill: none;"></path><g class="overlines-above"></g><g class="xaxislayer-above"><g class="x9tick"><text text-anchor="middle" x="0" y="828.6" transform="translate(80,0)" style="font-family: &quot;Liberation Sans&quot;, sans-serif; font-size: 12px; fill: rgb(42, 63, 95); fill-opacity: 1; font-weight: normal; font-style: normal; font-variant: normal; white-space: pre;">450</text></g><g class="x9tick"><text text-anchor="middle" x="0" y="828.6" style="font-family: &quot;Liberation Sans&quot;, sans-serif; font-size: 12px; fill: rgb(42, 63, 95); fill-opacity: 1; font-weight: normal; font-style: normal; font-variant: normal; white-space: pre;" transform="translate(163.9,0)">500</text></g><g class="x9tick"><text text-anchor="middle" x="0" y="828.6" style="font-family: &quot;Liberation Sans&quot;, sans-serif; font-size: 12px; fill: rgb(42, 63, 95); fill-opacity: 1; font-weight: normal; font-style: normal; font-variant: normal; white-space: pre;" transform="translate(247.8,0)">550</text></g><g class="x9tick"><text text-anchor="middle" x="0" y="828.6" style="font-family: &quot;Liberation Sans&quot;, sans-serif; font-size: 12px; fill: rgb(42, 63, 95); fill-opacity: 1; font-weight: normal; font-style: normal; font-variant: normal; white-space: pre;" transform="translate(331.8,0)">600</text></g><g class="x9tick"><text text-anchor="middle" x="0" y="828.6" style="font-family: &quot;Liberation Sans&quot;, sans-serif; font-size: 12px; fill: rgb(42, 63, 95); fill-opacity: 1; font-weight: normal; font-style: normal; font-variant: normal; white-space: pre;" transform="translate(415.7,0)">650</text></g><g class="x9tick"><text text-anchor="middle" x="0" y="828.6" style="font-family: &quot;Liberation Sans&quot;, sans-serif; font-size: 12px; fill: rgb(42, 63, 95); fill-opacity: 1; font-weight: normal; font-style: normal; font-variant: normal; white-space: pre;" transform="translate(499.7,0)">700</text></g></g><g class="yaxislayer-above"><g class="y9tick"><text text-anchor="end" x="79" y="4.1" transform="translate(0,808.7)" style="font-family: &quot;Liberation Sans&quot;, sans-serif; font-size: 12px; fill: rgb(42, 63, 95); fill-opacity: 1; font-weight: normal; font-style: normal; font-variant: normal; white-space: pre;">0.2</text></g><g class="y9tick"><text text-anchor="end" x="79" y="4.1" style="font-family: &quot;Liberation Sans&quot;, sans-serif; font-size: 12px; fill: rgb(42, 63, 95); fill-opacity: 1; font-weight: normal; font-style: normal; font-variant: normal; white-space: pre;" transform="translate(0,789.5)">0.4</text></g><g class="y9tick"><text text-anchor="end" x="79" y="4.1" style="font-family: &quot;Liberation Sans&quot;, sans-serif; font-size: 12px; fill: rgb(42, 63, 95); fill-opacity: 1; font-weight: normal; font-style: normal; font-variant: normal; white-space: pre;" transform="translate(0,770.4)">0.6</text></g></g><g class="overaxes-above"></g></g><g class="subplot x10y10"><g class="layer-subplot"><g class="shapelayer"></g><g class="imagelayer"></g></g><g class="minor-gridlayer"><g class="x10"></g><g class="y10"></g></g><g class="gridlayer"><g class="x10"><path class="x10grid crisp" transform="translate(163.9,0)" d="M0,839.9v57.9" style="stroke: rgb(255, 255, 255); stroke-opacity: 1; stroke-width: 1px;"></path><path class="x10grid crisp" transform="translate(247.8,0)" d="M0,839.9v57.9" style="stroke: rgb(255, 255, 255); stroke-opacity: 1; stroke-width: 1px;"></path><path class="x10grid crisp" transform="translate(331.8,0)" d="M0,839.9v57.9" style="stroke: rgb(255, 255, 255); stroke-opacity: 1; stroke-width: 1px;"></path><path class="x10grid crisp" transform="translate(415.7,0)" d="M0,839.9v57.9" style="stroke: rgb(255, 255, 255); stroke-opacity: 1; stroke-width: 1px;"></path><path class="x10grid crisp" transform="translate(499.7,0)" d="M0,839.9v57.9" style="stroke: rgb(255, 255, 255); stroke-opacity: 1; stroke-width: 1px;"></path></g><g class="y10"><path class="y10grid crisp" transform="translate(0,879.9)" d="M80,0h502" style="stroke: rgb(255, 255, 255); stroke-opacity: 1; stroke-width: 1px;"></path><path class="y10grid crisp" transform="translate(0,853.7)" d="M80,0h502" style="stroke: rgb(255, 255, 255); stroke-opacity: 1; stroke-width: 1px;"></path></g></g><g class="zerolinelayer"></g><g class="layer-between"><g class="shapelayer"></g><g class="imagelayer"></g></g><path class="xlines-below"></path><path class="ylines-below"></path><g class="overlines-below"></g><g class="xaxislayer-below"></g><g class="yaxislayer-below"></g><g class="overaxes-below"></g><g class="overplot"><g class="x10y10" transform="translate(80,839.9)" clip-path="url(#clip5c4ca8x10y10plot)"><g class="scatterlayer mlayer"><g class="trace scatter trace136674" style="stroke-miterlimit: 2; opacity: 1;"><g class="fills"></g><g class="errorbars"></g><g class="lines"><path class="js-line" d="M-2,43.0L37.6,41.2L52.0,42.4L82.6,50.7L98.8,51.1L142.0,47.1L167.2,43.5L208.6,35.8L296.8,40.3L340.0,50.2L358.0,52.0L412.6,55.2L502.2,51.5" style="vector-effect: none; fill: none; stroke: rgb(128, 128, 128); stroke-opacity: 1; stroke-width: 4px; opacity: 1;"></path></g><g class="points"></g><g class="text"></g></g><g class="trace scatter trace34b7de" style="stroke-miterlimit: 2; opacity: 1;"><g class="fills"></g><g class="errorbars"></g><g class="lines"><path class="js-line" d="M-2,45.0L124.0,46.6L142.0,45.7L167.2,43.0L208.6,35.8L228.4,35.8L296.8,40.3L340.0,50.2L358.0,52.0L502.2,55.2" style="vector-effect: none; fill: none; stroke: rgb(254, 203, 82); stroke-opacity: 1; stroke-width: 2px; opacity: 1;"></path></g><g class="points"></g><g class="text"></g></g></g></g></g><g class="zerolinelayer-above"></g><path class="xlines-above crisp" d="M0,0" style="fill: none;"></path><path class="ylines-above crisp" d="M0,0" style="fill: none;"></path><g class="overlines-above"></g><g class="xaxislayer-above"><g class="x10tick"><text text-anchor="middle" x="0" y="910.8" transform="translate(80,0)" style="font-family: &quot;Liberation Sans&quot;, sans-serif; font-size: 12px; fill: rgb(42, 63, 95); fill-opacity: 1; font-weight: normal; font-style: normal; font-variant: normal; white-space: pre;">450</text></g><g class="x10tick"><text text-anchor="middle" x="0" y="910.8" style="font-family: &quot;Liberation Sans&quot;, sans-serif; font-size: 12px; fill: rgb(42, 63, 95); fill-opacity: 1; font-weight: normal; font-style: normal; font-variant: normal; white-space: pre;" transform="translate(163.9,0)">500</text></g><g class="x10tick"><text text-anchor="middle" x="0" y="910.8" style="font-family: &quot;Liberation Sans&quot;, sans-serif; font-size: 12px; fill: rgb(42, 63, 95); fill-opacity: 1; font-weight: normal; font-style: normal; font-variant: normal; white-space: pre;" transform="translate(247.8,0)">550</text></g><g class="x10tick"><text text-anchor="middle" x="0" y="910.8" style="font-family: &quot;Liberation Sans&quot;, sans-serif; font-size: 12px; fill: rgb(42, 63, 95); fill-opacity: 1; font-weight: normal; font-style: normal; font-variant: normal; white-space: pre;" transform="translate(331.8,0)">600</text></g><g class="x10tick"><text text-anchor="middle" x="0" y="910.8" style="font-family: &quot;Liberation Sans&quot;, sans-serif; font-size: 12px; fill: rgb(42, 63, 95); fill-opacity: 1; font-weight: normal; font-style: normal; font-variant: normal; white-space: pre;" transform="translate(415.7,0)">650</text></g><g class="x10tick"><text text-anchor="middle" x="0" y="910.8" style="font-family: &quot;Liberation Sans&quot;, sans-serif; font-size: 12px; fill: rgb(42, 63, 95); fill-opacity: 1; font-weight: normal; font-style: normal; font-variant: normal; white-space: pre;" transform="translate(499.7,0)">700</text></g></g><g class="yaxislayer-above"><g class="y10tick"><text text-anchor="end" x="79" y="4.1" transform="translate(0,879.9)" style="font-family: &quot;Liberation Sans&quot;, sans-serif; font-size: 12px; fill: rgb(42, 63, 95); fill-opacity: 1; font-weight: normal; font-style: normal; font-variant: normal; white-space: pre;">0.5</text></g><g class="y10tick"><text text-anchor="end" x="79" y="4.1" style="font-family: &quot;Liberation Sans&quot;, sans-serif; font-size: 12px; fill: rgb(42, 63, 95); fill-opacity: 1; font-weight: normal; font-style: normal; font-variant: normal; white-space: pre;" transform="translate(0,853.7)">1</text></g></g><g class="overaxes-above"></g></g><g class="subplot x11y11"><g class="layer-subplot"><g class="shapelayer"></g><g class="imagelayer"></g></g><g class="minor-gridlayer"><g class="x11"></g><g class="y11"></g></g><g class="gridlayer"><g class="x11"><path class="x11grid crisp" transform="translate(163.9,0)" d="M0,922.1v57.9" style="stroke: rgb(255, 255, 255); stroke-opacity: 1; stroke-width: 1px;"></path><path class="x11grid crisp" transform="translate(247.8,0)" d="M0,922.1v57.9" style="stroke: rgb(255, 255, 255); stroke-opacity: 1; stroke-width: 1px;"></path><path class="x11grid crisp" transform="translate(331.8,0)" d="M0,922.1v57.9" style="stroke: rgb(255, 255, 255); stroke-opacity: 1; stroke-width: 1px;"></path><path class="x11grid crisp" transform="translate(415.7,0)" d="M0,922.1v57.9" style="stroke: rgb(255, 255, 255); stroke-opacity: 1; stroke-width: 1px;"></path><path class="x11grid crisp" transform="translate(499.7,0)" d="M0,922.1v57.9" style="stroke: rgb(255, 255, 255); stroke-opacity: 1; stroke-width: 1px;"></path></g><g class="y11"><path class="y11grid crisp" transform="translate(0,961.9)" d="M80,0h502" style="stroke: rgb(255, 255, 255); stroke-opacity: 1; stroke-width: 1px;"></path><path class="y11grid crisp" transform="translate(0,935.2)" d="M80,0h502" style="stroke: rgb(255, 255, 255); stroke-opacity: 1; stroke-width: 1px;"></path></g></g><g class="zerolinelayer"></g><g class="layer-between"><g class="shapelayer"></g><g class="imagelayer"></g></g><path class="xlines-below"></path><path class="ylines-below"></path><g class="overlines-below"></g><g class="xaxislayer-below"></g><g class="yaxislayer-below"></g><g class="overaxes-below"></g><g class="overplot"><g class="x11y11" transform="translate(80,922.1)" clip-path="url(#clip5c4ca8x11y11plot)"><g class="scatterlayer mlayer"><g class="trace scatter trace68a880" style="stroke-miterlimit: 2; opacity: 1;"><g class="fills"></g><g class="errorbars"></g><g class="lines"><path class="js-line" d="M-2,41.1L30.4,38.4L46.6,39.6L82.6,52.8L95.2,55.1L124.0,54.8L219.4,43.8L286.0,45.6L358.0,53.7L376.0,54.5L394.3,54.5L502.2,48.6" style="vector-effect: none; fill: none; stroke: rgb(128, 128, 128); stroke-opacity: 1; stroke-width: 4px; opacity: 1;"></path></g><g class="points"></g><g class="text"></g></g><g class="trace scatter trace9df0ae" style="stroke-miterlimit: 2; opacity: 1;"><g class="fills"></g><g class="errorbars"></g><g class="lines"><path class="js-line" d="M-2,46.1L178.0,48.3L219.4,43.8L250.0,45.0L286.0,45.2L358.0,51.5L502.2,53.6" style="vector-effect: none; fill: none; stroke: rgb(239, 85, 59); stroke-opacity: 1; stroke-width: 2px; opacity: 1;"></path></g><g class="points"></g><g class="text"></g></g></g></g></g><g class="zerolinelayer-above"></g><path class="xlines-above crisp" d="M0,0" style="fill: none;"></path><path class="ylines-above crisp" d="M0,0" style="fill: none;"></path><g class="overlines-above"></g><g class="xaxislayer-above"><g class="x11tick"><text text-anchor="middle" x="0" y="993.0" transform="translate(80,0)" style="font-family: &quot;Liberation Sans&quot;, sans-serif; font-size: 12px; fill: rgb(42, 63, 95); fill-opacity: 1; font-weight: normal; font-style: normal; font-variant: normal; white-space: pre;">450</text></g><g class="x11tick"><text text-anchor="middle" x="0" y="993.0" style="font-family: &quot;Liberation Sans&quot;, sans-serif; font-size: 12px; fill: rgb(42, 63, 95); fill-opacity: 1; font-weight: normal; font-style: normal; font-variant: normal; white-space: pre;" transform="translate(163.9,0)">500</text></g><g class="x11tick"><text text-anchor="middle" x="0" y="993.0" style="font-family: &quot;Liberation Sans&quot;, sans-serif; font-size: 12px; fill: rgb(42, 63, 95); fill-opacity: 1; font-weight: normal; font-style: normal; font-variant: normal; white-space: pre;" transform="translate(247.8,0)">550</text></g><g class="x11tick"><text text-anchor="middle" x="0" y="993.0" style="font-family: &quot;Liberation Sans&quot;, sans-serif; font-size: 12px; fill: rgb(42, 63, 95); fill-opacity: 1; font-weight: normal; font-style: normal; font-variant: normal; white-space: pre;" transform="translate(331.8,0)">600</text></g><g class="x11tick"><text text-anchor="middle" x="0" y="993.0" style="font-family: &quot;Liberation Sans&quot;, sans-serif; font-size: 12px; fill: rgb(42, 63, 95); fill-opacity: 1; font-weight: normal; font-style: normal; font-variant: normal; white-space: pre;" transform="translate(415.7,0)">650</text></g><g class="x11tick"><text text-anchor="middle" x="0" y="993.0" style="font-family: &quot;Liberation Sans&quot;, sans-serif; font-size: 12px; fill: rgb(42, 63, 95); fill-opacity: 1; font-weight: normal; font-style: normal; font-variant: normal; white-space: pre;" transform="translate(499.7,0)">700</text></g></g><g class="yaxislayer-above"><g class="y11tick"><text text-anchor="end" x="79" y="4.1" transform="translate(0,961.9)" style="font-family: &quot;Liberation Sans&quot;, sans-serif; font-size: 12px; fill: rgb(42, 63, 95); fill-opacity: 1; font-weight: normal; font-style: normal; font-variant: normal; white-space: pre;">0.5</text></g><g class="y11tick"><text text-anchor="end" x="79" y="4.1" style="font-family: &quot;Liberation Sans&quot;, sans-serif; font-size: 12px; fill: rgb(42, 63, 95); fill-opacity: 1; font-weight: normal; font-style: normal; font-variant: normal; white-space: pre;" transform="translate(0,935.2)">1</text></g></g><g class="overaxes-above"></g></g><g class="subplot x12y12"><g class="layer-subplot"><g class="shapelayer"></g><g class="imagelayer"></g></g><g class="minor-gridlayer"><g class="x12"></g><g class="y12"></g></g><g class="gridlayer"><g class="x12"><path class="x12grid crisp" transform="translate(163.9,0)" d="M0,1004.3v57.9" style="stroke: rgb(255, 255, 255); stroke-opacity: 1; stroke-width: 1px;"></path><path class="x12grid crisp" transform="translate(247.8,0)" d="M0,1004.3v57.9" style="stroke: rgb(255, 255, 255); stroke-opacity: 1; stroke-width: 1px;"></path><path class="x12grid crisp" transform="translate(331.8,0)" d="M0,1004.3v57.9" style="stroke: rgb(255, 255, 255); stroke-opacity: 1; stroke-width: 1px;"></path><path class="x12grid crisp" transform="translate(415.7,0)" d="M0,1004.3v57.9" style="stroke: rgb(255, 255, 255); stroke-opacity: 1; stroke-width: 1px;"></path><path class="x12grid crisp" transform="translate(499.7,0)" d="M0,1004.3v57.9" style="stroke: rgb(255, 255, 255); stroke-opacity: 1; stroke-width: 1px;"></path></g><g class="y12"><path class="y12grid crisp" transform="translate(0,1043.3)" d="M80,0h502" style="stroke: rgb(255, 255, 255); stroke-opacity: 1; stroke-width: 1px;"></path><path class="y12grid crisp" transform="translate(0,1021.4)" d="M80,0h502" style="stroke: rgb(255, 255, 255); stroke-opacity: 1; stroke-width: 1px;"></path></g></g><g class="zerolinelayer"></g><g class="layer-between"><g class="shapelayer"></g><g class="imagelayer"></g></g><path class="xlines-below"></path><path class="ylines-below"></path><g class="overlines-below"></g><g class="xaxislayer-below"></g><g class="yaxislayer-below"></g><g class="overaxes-below"></g><g class="overplot"><g class="x12y12" transform="translate(80,1004.3)" clip-path="url(#clip5c4ca8x12y12plot)"><g class="scatterlayer mlayer"><g class="trace scatter tracee9b4e2" style="stroke-miterlimit: 2; opacity: 1;"><g class="fills"></g><g class="errorbars"></g><g class="lines"><path class="js-line" d="M-2,39.0L30.4,36.3L46.6,37.2L59.2,41.7L82.6,51.7L95.2,54.4L113.2,54.9L124.0,54.9L205.0,50.2L304.0,49.5L376.0,52.1L419.9,48.8L502.2,45.1" style="vector-effect: none; fill: none; stroke: rgb(128, 128, 128); stroke-opacity: 1; stroke-width: 4px; opacity: 1;"></path></g><g class="points"></g><g class="text"></g></g><g class="trace scatter trace14722e" style="stroke-miterlimit: 2; opacity: 1;"><g class="fills"></g><g class="errorbars"></g><g class="lines"><path class="js-line" d="M-2,46.6L376.0,50.2L502.2,50.6" style="vector-effect: none; fill: none; stroke: rgb(171, 99, 250); stroke-opacity: 1; stroke-width: 2px; opacity: 1;"></path></g><g class="points"></g><g class="text"></g></g></g></g></g><g class="zerolinelayer-above"></g><path class="xlines-above crisp" d="M0,0" style="fill: none;"></path><path class="ylines-above crisp" d="M0,0" style="fill: none;"></path><g class="overlines-above"></g><g class="xaxislayer-above"><g class="x12tick"><text text-anchor="middle" x="0" y="1075.2" transform="translate(80,0)" style="font-family: &quot;Liberation Sans&quot;, sans-serif; font-size: 12px; fill: rgb(42, 63, 95); fill-opacity: 1; font-weight: normal; font-style: normal; font-variant: normal; white-space: pre;">450</text></g><g class="x12tick"><text text-anchor="middle" x="0" y="1075.2" style="font-family: &quot;Liberation Sans&quot;, sans-serif; font-size: 12px; fill: rgb(42, 63, 95); fill-opacity: 1; font-weight: normal; font-style: normal; font-variant: normal; white-space: pre;" transform="translate(163.9,0)">500</text></g><g class="x12tick"><text text-anchor="middle" x="0" y="1075.2" style="font-family: &quot;Liberation Sans&quot;, sans-serif; font-size: 12px; fill: rgb(42, 63, 95); fill-opacity: 1; font-weight: normal; font-style: normal; font-variant: normal; white-space: pre;" transform="translate(247.8,0)">550</text></g><g class="x12tick"><text text-anchor="middle" x="0" y="1075.2" style="font-family: &quot;Liberation Sans&quot;, sans-serif; font-size: 12px; fill: rgb(42, 63, 95); fill-opacity: 1; font-weight: normal; font-style: normal; font-variant: normal; white-space: pre;" transform="translate(331.8,0)">600</text></g><g class="x12tick"><text text-anchor="middle" x="0" y="1075.2" style="font-family: &quot;Liberation Sans&quot;, sans-serif; font-size: 12px; fill: rgb(42, 63, 95); fill-opacity: 1; font-weight: normal; font-style: normal; font-variant: normal; white-space: pre;" transform="translate(415.7,0)">650</text></g><g class="x12tick"><text text-anchor="middle" x="0" y="1075.2" style="font-family: &quot;Liberation Sans&quot;, sans-serif; font-size: 12px; fill: rgb(42, 63, 95); fill-opacity: 1; font-weight: normal; font-style: normal; font-variant: normal; white-space: pre;" transform="translate(499.7,0)">700</text></g></g><g class="yaxislayer-above"><g class="y12tick"><text text-anchor="end" x="79" y="4.1" transform="translate(0,1043.3)" style="font-family: &quot;Liberation Sans&quot;, sans-serif; font-size: 12px; fill: rgb(42, 63, 95); fill-opacity: 1; font-weight: normal; font-style: normal; font-variant: normal; white-space: pre;">0.5</text></g><g class="y12tick"><text text-anchor="end" x="79" y="4.1" style="font-family: &quot;Liberation Sans&quot;, sans-serif; font-size: 12px; fill: rgb(42, 63, 95); fill-opacity: 1; font-weight: normal; font-style: normal; font-variant: normal; white-space: pre;" transform="translate(0,1021.4)">1</text></g></g><g class="overaxes-above"></g></g><g class="subplot x13y13"><g class="layer-subplot"><g class="shapelayer"></g><g class="imagelayer"></g></g><g class="minor-gridlayer"><g class="x13"></g><g class="y13"></g></g><g class="gridlayer"><g class="x13"><path class="x13grid crisp" transform="translate(163.9,0)" d="M0,1086.5v57.9" style="stroke: rgb(255, 255, 255); stroke-opacity: 1; stroke-width: 1px;"></path><path class="x13grid crisp" transform="translate(247.8,0)" d="M0,1086.5v57.9" style="stroke: rgb(255, 255, 255); stroke-opacity: 1; stroke-width: 1px;"></path><path class="x13grid crisp" transform="translate(331.8,0)" d="M0,1086.5v57.9" style="stroke: rgb(255, 255, 255); stroke-opacity: 1; stroke-width: 1px;"></path><path class="x13grid crisp" transform="translate(415.7,0)" d="M0,1086.5v57.9" style="stroke: rgb(255, 255, 255); stroke-opacity: 1; stroke-width: 1px;"></path><path class="x13grid crisp" transform="translate(499.7,0)" d="M0,1086.5v57.9" style="stroke: rgb(255, 255, 255); stroke-opacity: 1; stroke-width: 1px;"></path></g><g class="y13"><path class="y13grid crisp" transform="translate(0,1125.3)" d="M80,0h502" style="stroke: rgb(255, 255, 255); stroke-opacity: 1; stroke-width: 1px;"></path><path class="y13grid crisp" transform="translate(0,1105.4)" d="M80,0h502" style="stroke: rgb(255, 255, 255); stroke-opacity: 1; stroke-width: 1px;"></path></g></g><g class="zerolinelayer"></g><g class="layer-between"><g class="shapelayer"></g><g class="imagelayer"></g></g><path class="xlines-below"></path><path class="ylines-below"></path><g class="overlines-below"></g><g class="xaxislayer-below"></g><g class="yaxislayer-below"></g><g class="overaxes-below"></g><g class="overplot"><g class="x13y13" transform="translate(80,1086.5)" clip-path="url(#clip5c4ca8x13y13plot)"><g class="scatterlayer mlayer"><g class="trace scatter tracee1f46e" style="stroke-miterlimit: 2; opacity: 1;"><g class="fills"></g><g class="errorbars"></g><g class="lines"><path class="js-line" d="M-2,37.9L26.8,35.2L44.8,36.1L55.6,39.2L70.0,46.4L84.4,51.4L98.8,54.7L124.0,55.0L205.0,52.0L376.0,48.8L502.2,42.7" style="vector-effect: none; fill: none; stroke: rgb(128, 128, 128); stroke-opacity: 1; stroke-width: 4px; opacity: 1;"></path></g><g class="points"></g><g class="text"></g></g><g class="trace scatter trace9f2c12" style="stroke-miterlimit: 2; opacity: 1;"><g class="fills"></g><g class="errorbars"></g><g class="lines"><path class="js-line" d="M-2,47.7L250.0,49.1L502.2,49.5" style="vector-effect: none; fill: none; stroke: rgb(25, 211, 243); stroke-opacity: 1; stroke-width: 2px; opacity: 1;"></path></g><g class="points"></g><g class="text"></g></g></g></g></g><g class="zerolinelayer-above"></g><path class="xlines-above crisp" d="M0,0" style="fill: none;"></path><path class="ylines-above crisp" d="M0,0" style="fill: none;"></path><g class="overlines-above"></g><g class="xaxislayer-above"><g class="x13tick"><text text-anchor="middle" x="0" y="1157.4" transform="translate(80,0)" style="font-family: &quot;Liberation Sans&quot;, sans-serif; font-size: 12px; fill: rgb(42, 63, 95); fill-opacity: 1; font-weight: normal; font-style: normal; font-variant: normal; white-space: pre;">450</text></g><g class="x13tick"><text text-anchor="middle" x="0" y="1157.4" style="font-family: &quot;Liberation Sans&quot;, sans-serif; font-size: 12px; fill: rgb(42, 63, 95); fill-opacity: 1; font-weight: normal; font-style: normal; font-variant: normal; white-space: pre;" transform="translate(163.9,0)">500</text></g><g class="x13tick"><text text-anchor="middle" x="0" y="1157.4" style="font-family: &quot;Liberation Sans&quot;, sans-serif; font-size: 12px; fill: rgb(42, 63, 95); fill-opacity: 1; font-weight: normal; font-style: normal; font-variant: normal; white-space: pre;" transform="translate(247.8,0)">550</text></g><g class="x13tick"><text text-anchor="middle" x="0" y="1157.4" style="font-family: &quot;Liberation Sans&quot;, sans-serif; font-size: 12px; fill: rgb(42, 63, 95); fill-opacity: 1; font-weight: normal; font-style: normal; font-variant: normal; white-space: pre;" transform="translate(331.8,0)">600</text></g><g class="x13tick"><text text-anchor="middle" x="0" y="1157.4" style="font-family: &quot;Liberation Sans&quot;, sans-serif; font-size: 12px; fill: rgb(42, 63, 95); fill-opacity: 1; font-weight: normal; font-style: normal; font-variant: normal; white-space: pre;" transform="translate(415.7,0)">650</text></g><g class="x13tick"><text text-anchor="middle" x="0" y="1157.4" style="font-family: &quot;Liberation Sans&quot;, sans-serif; font-size: 12px; fill: rgb(42, 63, 95); fill-opacity: 1; font-weight: normal; font-style: normal; font-variant: normal; white-space: pre;" transform="translate(499.7,0)">700</text></g></g><g class="yaxislayer-above"><g class="y13tick"><text text-anchor="end" x="79" y="4.1" transform="translate(0,1125.3)" style="font-family: &quot;Liberation Sans&quot;, sans-serif; font-size: 12px; fill: rgb(42, 63, 95); fill-opacity: 1; font-weight: normal; font-style: normal; font-variant: normal; white-space: pre;">0.5</text></g><g class="y13tick"><text text-anchor="end" x="79" y="4.1" style="font-family: &quot;Liberation Sans&quot;, sans-serif; font-size: 12px; fill: rgb(42, 63, 95); fill-opacity: 1; font-weight: normal; font-style: normal; font-variant: normal; white-space: pre;" transform="translate(0,1105.4)">1</text></g></g><g class="overaxes-above"></g></g><g class="subplot x14y14"><g class="layer-subplot"><g class="shapelayer"></g><g class="imagelayer"></g></g><g class="minor-gridlayer"><g class="x14"></g><g class="y14"></g></g><g class="gridlayer"><g class="x14"><path class="x14grid crisp" transform="translate(163.9,0)" d="M0,1168.7v57.9" style="stroke: rgb(255, 255, 255); stroke-opacity: 1; stroke-width: 1px;"></path><path class="x14grid crisp" transform="translate(247.8,0)" d="M0,1168.7v57.9" style="stroke: rgb(255, 255, 255); stroke-opacity: 1; stroke-width: 1px;"></path><path class="x14grid crisp" transform="translate(331.8,0)" d="M0,1168.7v57.9" style="stroke: rgb(255, 255, 255); stroke-opacity: 1; stroke-width: 1px;"></path><path class="x14grid crisp" transform="translate(415.7,0)" d="M0,1168.7v57.9" style="stroke: rgb(255, 255, 255); stroke-opacity: 1; stroke-width: 1px;"></path><path class="x14grid crisp" transform="translate(499.7,0)" d="M0,1168.7v57.9" style="stroke: rgb(255, 255, 255); stroke-opacity: 1; stroke-width: 1px;"></path></g><g class="y14"><path class="y14grid crisp" transform="translate(0,1208.5)" d="M80,0h502" style="stroke: rgb(255, 255, 255); stroke-opacity: 1; stroke-width: 1px;"></path><path class="y14grid crisp" transform="translate(0,1189.9)" d="M80,0h502" style="stroke: rgb(255, 255, 255); stroke-opacity: 1; stroke-width: 1px;"></path><path class="y14grid crisp" transform="translate(0,1171.3)" d="M80,0h502" style="stroke: rgb(255, 255, 255); stroke-opacity: 1; stroke-width: 1px;"></path></g></g><g class="zerolinelayer"></g><g class="layer-between"><g class="shapelayer"></g><g class="imagelayer"></g></g><path class="xlines-below"></path><path class="ylines-below"></path><g class="overlines-below"></g><g class="xaxislayer-below"></g><g class="yaxislayer-below"></g><g class="overaxes-below"></g><g class="overplot"><g class="x14y14" transform="translate(80,1168.7)" clip-path="url(#clip5c4ca8x14y14plot)"><g class="scatterlayer mlayer"><g class="trace scatter trace991bd3" style="stroke-miterlimit: 2; opacity: 1;"><g class="fills"></g><g class="errorbars"></g><g class="lines"><path class="js-line" d="M-2,37.2L26.8,35.0L43.0,35.5L55.6,39.0L70.0,46.2L84.4,52.1L98.8,54.5L124.0,54.8L205.0,54.3L331.0,51.3L502.2,42.5" style="vector-effect: none; fill: none; stroke: rgb(128, 128, 128); stroke-opacity: 1; stroke-width: 4px; opacity: 1;"></path></g><g class="points"></g><g class="text"></g></g><g class="trace scatter tracee0ff14" style="stroke-miterlimit: 2; opacity: 1;"><g class="fills"></g><g class="errorbars"></g><g class="lines"><path class="js-line" d="M-2,48.2L502.2,48.5" style="vector-effect: none; fill: none; stroke: rgb(182, 232, 128); stroke-opacity: 1; stroke-width: 2px; opacity: 1;"></path></g><g class="points"></g><g class="text"></g></g></g></g></g><g class="zerolinelayer-above"></g><path class="xlines-above crisp" d="M0,0" style="fill: none;"></path><path class="ylines-above crisp" d="M0,0" style="fill: none;"></path><g class="overlines-above"></g><g class="xaxislayer-above"><g class="x14tick"><text text-anchor="middle" x="0" y="1239.7" transform="translate(80,0)" style="font-family: &quot;Liberation Sans&quot;, sans-serif; font-size: 12px; fill: rgb(42, 63, 95); fill-opacity: 1; font-weight: normal; font-style: normal; font-variant: normal; white-space: pre;">450</text></g><g class="x14tick"><text text-anchor="middle" x="0" y="1239.7" style="font-family: &quot;Liberation Sans&quot;, sans-serif; font-size: 12px; fill: rgb(42, 63, 95); fill-opacity: 1; font-weight: normal; font-style: normal; font-variant: normal; white-space: pre;" transform="translate(163.9,0)">500</text></g><g class="x14tick"><text text-anchor="middle" x="0" y="1239.7" style="font-family: &quot;Liberation Sans&quot;, sans-serif; font-size: 12px; fill: rgb(42, 63, 95); fill-opacity: 1; font-weight: normal; font-style: normal; font-variant: normal; white-space: pre;" transform="translate(247.8,0)">550</text></g><g class="x14tick"><text text-anchor="middle" x="0" y="1239.7" style="font-family: &quot;Liberation Sans&quot;, sans-serif; font-size: 12px; fill: rgb(42, 63, 95); fill-opacity: 1; font-weight: normal; font-style: normal; font-variant: normal; white-space: pre;" transform="translate(331.8,0)">600</text></g><g class="x14tick"><text text-anchor="middle" x="0" y="1239.7" style="font-family: &quot;Liberation Sans&quot;, sans-serif; font-size: 12px; fill: rgb(42, 63, 95); fill-opacity: 1; font-weight: normal; font-style: normal; font-variant: normal; white-space: pre;" transform="translate(415.7,0)">650</text></g><g class="x14tick"><text text-anchor="middle" x="0" y="1239.7" style="font-family: &quot;Liberation Sans&quot;, sans-serif; font-size: 12px; fill: rgb(42, 63, 95); fill-opacity: 1; font-weight: normal; font-style: normal; font-variant: normal; white-space: pre;" transform="translate(499.7,0)">700</text></g></g><g class="yaxislayer-above"><g class="y14tick"><text text-anchor="end" x="79" y="4.1" transform="translate(0,1208.5)" style="font-family: &quot;Liberation Sans&quot;, sans-serif; font-size: 12px; fill: rgb(42, 63, 95); fill-opacity: 1; font-weight: normal; font-style: normal; font-variant: normal; white-space: pre;">0.5</text></g><g class="y14tick"><text text-anchor="end" x="79" y="4.1" style="font-family: &quot;Liberation Sans&quot;, sans-serif; font-size: 12px; fill: rgb(42, 63, 95); fill-opacity: 1; font-weight: normal; font-style: normal; font-variant: normal; white-space: pre;" transform="translate(0,1189.9)">1</text></g><g class="y14tick"><text text-anchor="end" x="79" y="4.1" style="font-family: &quot;Liberation Sans&quot;, sans-serif; font-size: 12px; fill: rgb(42, 63, 95); fill-opacity: 1; font-weight: normal; font-style: normal; font-variant: normal; white-space: pre;" transform="translate(0,1171.3)">1.5</text></g></g><g class="overaxes-above"></g></g><g class="subplot x15y15"><g class="layer-subplot"><g class="shapelayer"></g><g class="imagelayer"></g></g><g class="minor-gridlayer"><g class="x15"></g><g class="y15"></g></g><g class="gridlayer"><g class="x15"><path class="x15grid crisp" transform="translate(163.9,0)" d="M0,1251.0v57.9" style="stroke: rgb(255, 255, 255); stroke-opacity: 1; stroke-width: 1px;"></path><path class="x15grid crisp" transform="translate(247.8,0)" d="M0,1251.0v57.9" style="stroke: rgb(255, 255, 255); stroke-opacity: 1; stroke-width: 1px;"></path><path class="x15grid crisp" transform="translate(331.8,0)" d="M0,1251.0v57.9" style="stroke: rgb(255, 255, 255); stroke-opacity: 1; stroke-width: 1px;"></path><path class="x15grid crisp" transform="translate(415.7,0)" d="M0,1251.0v57.9" style="stroke: rgb(255, 255, 255); stroke-opacity: 1; stroke-width: 1px;"></path><path class="x15grid crisp" transform="translate(499.7,0)" d="M0,1251.0v57.9" style="stroke: rgb(255, 255, 255); stroke-opacity: 1; stroke-width: 1px;"></path></g><g class="y15"><path class="y15grid crisp" transform="translate(0,1290.9)" d="M80,0h502" style="stroke: rgb(255, 255, 255); stroke-opacity: 1; stroke-width: 1px;"></path><path class="y15grid crisp" transform="translate(0,1272.9)" d="M80,0h502" style="stroke: rgb(255, 255, 255); stroke-opacity: 1; stroke-width: 1px;"></path><path class="y15grid crisp" transform="translate(0,1254.8)" d="M80,0h502" style="stroke: rgb(255, 255, 255); stroke-opacity: 1; stroke-width: 1px;"></path></g></g><g class="zerolinelayer"><path class="y15zl zl crisp" transform="translate(0,1308.9)" d="M80,0h502" style="stroke: rgb(255, 255, 255); stroke-opacity: 1; stroke-width: 2px;"></path></g><g class="layer-between"><g class="shapelayer"></g><g class="imagelayer"></g></g><path class="xlines-below"></path><path class="ylines-below"></path><g class="overlines-below"></g><g class="xaxislayer-below"></g><g class="yaxislayer-below"></g><g class="overaxes-below"></g><g class="overplot"><g class="x15y15" transform="translate(80,1251.0)" clip-path="url(#clip5c4ca8x15y15plot)"><g class="scatterlayer mlayer"><g class="trace scatter tracecbdba7" style="stroke-miterlimit: 2; opacity: 1;"><g class="fills"></g><g class="errorbars"></g><g class="lines"><path class="js-line" d="M-2,37.5L26.8,34.8L43.0,35.2L55.6,38.4L70.0,46.0L84.4,51.9L98.8,54.3L124.0,54.6L205.0,53.9L331.0,50.7L502.2,41.6" style="vector-effect: none; fill: none; stroke: rgb(128, 128, 128); stroke-opacity: 1; stroke-width: 4px; opacity: 1;"></path></g><g class="points"></g><g class="text"></g></g><g class="trace scatter trace0015c7" style="stroke-miterlimit: 2; opacity: 1;"><g class="fills"></g><g class="errorbars"></g><g class="lines"><path class="js-line" d="M-2,48.3L502.2,48.3" style="vector-effect: none; fill: none; stroke: rgb(254, 203, 82); stroke-opacity: 1; stroke-width: 2px; opacity: 1;"></path></g><g class="points"></g><g class="text"></g></g></g></g></g><g class="zerolinelayer-above"></g><path class="xlines-above crisp" d="M0,0" style="fill: none;"></path><path class="ylines-above crisp" d="M0,0" style="fill: none;"></path><g class="overlines-above"></g><g class="xaxislayer-above"><g class="x15tick"><text text-anchor="middle" x="0" y="1321.9" transform="translate(80,0)" style="font-family: &quot;Liberation Sans&quot;, sans-serif; font-size: 12px; fill: rgb(42, 63, 95); fill-opacity: 1; font-weight: normal; font-style: normal; font-variant: normal; white-space: pre;">450</text></g><g class="x15tick"><text text-anchor="middle" x="0" y="1321.9" style="font-family: &quot;Liberation Sans&quot;, sans-serif; font-size: 12px; fill: rgb(42, 63, 95); fill-opacity: 1; font-weight: normal; font-style: normal; font-variant: normal; white-space: pre;" transform="translate(163.9,0)">500</text></g><g class="x15tick"><text text-anchor="middle" x="0" y="1321.9" style="font-family: &quot;Liberation Sans&quot;, sans-serif; font-size: 12px; fill: rgb(42, 63, 95); fill-opacity: 1; font-weight: normal; font-style: normal; font-variant: normal; white-space: pre;" transform="translate(247.8,0)">550</text></g><g class="x15tick"><text text-anchor="middle" x="0" y="1321.9" style="font-family: &quot;Liberation Sans&quot;, sans-serif; font-size: 12px; fill: rgb(42, 63, 95); fill-opacity: 1; font-weight: normal; font-style: normal; font-variant: normal; white-space: pre;" transform="translate(331.8,0)">600</text></g><g class="x15tick"><text text-anchor="middle" x="0" y="1321.9" style="font-family: &quot;Liberation Sans&quot;, sans-serif; font-size: 12px; fill: rgb(42, 63, 95); fill-opacity: 1; font-weight: normal; font-style: normal; font-variant: normal; white-space: pre;" transform="translate(415.7,0)">650</text></g><g class="x15tick"><text text-anchor="middle" x="0" y="1321.9" style="font-family: &quot;Liberation Sans&quot;, sans-serif; font-size: 12px; fill: rgb(42, 63, 95); fill-opacity: 1; font-weight: normal; font-style: normal; font-variant: normal; white-space: pre;" transform="translate(499.7,0)">700</text></g></g><g class="yaxislayer-above"><g class="y15tick"><text text-anchor="end" x="79" y="4.1" transform="translate(0,1308.9)" style="font-family: &quot;Liberation Sans&quot;, sans-serif; font-size: 12px; fill: rgb(42, 63, 95); fill-opacity: 1; font-weight: normal; font-style: normal; font-variant: normal; white-space: pre;">0</text></g><g class="y15tick"><text text-anchor="end" x="79" y="4.1" style="font-family: &quot;Liberation Sans&quot;, sans-serif; font-size: 12px; fill: rgb(42, 63, 95); fill-opacity: 1; font-weight: normal; font-style: normal; font-variant: normal; white-space: pre;" transform="translate(0,1290.9)">0.5</text></g><g class="y15tick"><text text-anchor="end" x="79" y="4.1" style="font-family: &quot;Liberation Sans&quot;, sans-serif; font-size: 12px; fill: rgb(42, 63, 95); fill-opacity: 1; font-weight: normal; font-style: normal; font-variant: normal; white-space: pre;" transform="translate(0,1272.9)">1</text></g><g class="y15tick"><text text-anchor="end" x="79" y="4.1" style="font-family: &quot;Liberation Sans&quot;, sans-serif; font-size: 12px; fill: rgb(42, 63, 95); fill-opacity: 1; font-weight: normal; font-style: normal; font-variant: normal; white-space: pre;" transform="translate(0,1254.8)">1.5</text></g></g><g class="overaxes-above"></g></g><g class="subplot x16y16"><g class="layer-subplot"><g class="shapelayer"></g><g class="imagelayer"></g></g><g class="minor-gridlayer"><g class="x16"></g><g class="y16"></g></g><g class="gridlayer"><g class="x16"><path class="x16grid crisp" transform="translate(163.9,0)" d="M0,1333.2v57.9" style="stroke: rgb(255, 255, 255); stroke-opacity: 1; stroke-width: 1px;"></path><path class="x16grid crisp" transform="translate(247.8,0)" d="M0,1333.2v57.9" style="stroke: rgb(255, 255, 255); stroke-opacity: 1; stroke-width: 1px;"></path><path class="x16grid crisp" transform="translate(331.8,0)" d="M0,1333.2v57.9" style="stroke: rgb(255, 255, 255); stroke-opacity: 1; stroke-width: 1px;"></path><path class="x16grid crisp" transform="translate(415.7,0)" d="M0,1333.2v57.9" style="stroke: rgb(255, 255, 255); stroke-opacity: 1; stroke-width: 1px;"></path><path class="x16grid crisp" transform="translate(499.7,0)" d="M0,1333.2v57.9" style="stroke: rgb(255, 255, 255); stroke-opacity: 1; stroke-width: 1px;"></path></g><g class="y16"><path class="y16grid crisp" transform="translate(0,1373.3)" d="M80,0h502" style="stroke: rgb(255, 255, 255); stroke-opacity: 1; stroke-width: 1px;"></path><path class="y16grid crisp" transform="translate(0,1355.6)" d="M80,0h502" style="stroke: rgb(255, 255, 255); stroke-opacity: 1; stroke-width: 1px;"></path><path class="y16grid crisp" transform="translate(0,1337.9)" d="M80,0h502" style="stroke: rgb(255, 255, 255); stroke-opacity: 1; stroke-width: 1px;"></path></g></g><g class="zerolinelayer"><path class="y16zl zl crisp" transform="translate(0,1391.0)" d="M80,0h502" style="stroke: rgb(255, 255, 255); stroke-opacity: 1; stroke-width: 2px;"></path></g><g class="layer-between"><g class="shapelayer"></g><g class="imagelayer"></g></g><path class="xlines-below"></path><path class="ylines-below"></path><g class="overlines-below"></g><g class="xaxislayer-below"></g><g class="yaxislayer-below"></g><g class="overaxes-below"></g><g class="overplot"><g class="x16y16" transform="translate(80,1333.2)" clip-path="url(#clip5c4ca8x16y16plot)"><g class="scatterlayer mlayer"><g class="trace scatter trace8d777c" style="stroke-miterlimit: 2; opacity: 1;"><g class="fills"></g><g class="errorbars"></g><g class="lines"><path class="js-line" d="M-2,37.3L28.6,34.6L44.8,35.3L57.4,39.1L71.8,46.3L84.4,51.2L98.8,54.0L124.0,54.4L205.0,53.7L331.0,50.5L502.2,41.4" style="vector-effect: none; fill: none; stroke: rgb(128, 128, 128); stroke-opacity: 1; stroke-width: 4px; opacity: 1;"></path></g><g class="points"></g><g class="text"></g></g><g class="trace scatter trace44a444" style="stroke-miterlimit: 2; opacity: 1;"><g class="fills"></g><g class="errorbars"></g><g class="lines"><path class="js-line" d="M-2,48.5L502.2,48.5" style="vector-effect: none; fill: none; stroke: rgb(239, 85, 59); stroke-opacity: 1; stroke-width: 2px; opacity: 1;"></path></g><g class="points"></g><g class="text"></g></g></g></g></g><g class="zerolinelayer-above"></g><path class="xlines-above crisp" d="M0,0" style="fill: none;"></path><path class="ylines-above crisp" d="M0,0" style="fill: none;"></path><g class="overlines-above"></g><g class="xaxislayer-above"><g class="x16tick"><text text-anchor="middle" x="0" y="1404.1" transform="translate(80,0)" style="font-family: &quot;Liberation Sans&quot;, sans-serif; font-size: 12px; fill: rgb(42, 63, 95); fill-opacity: 1; font-weight: normal; font-style: normal; font-variant: normal; white-space: pre;">450</text></g><g class="x16tick"><text text-anchor="middle" x="0" y="1404.1" style="font-family: &quot;Liberation Sans&quot;, sans-serif; font-size: 12px; fill: rgb(42, 63, 95); fill-opacity: 1; font-weight: normal; font-style: normal; font-variant: normal; white-space: pre;" transform="translate(163.9,0)">500</text></g><g class="x16tick"><text text-anchor="middle" x="0" y="1404.1" style="font-family: &quot;Liberation Sans&quot;, sans-serif; font-size: 12px; fill: rgb(42, 63, 95); fill-opacity: 1; font-weight: normal; font-style: normal; font-variant: normal; white-space: pre;" transform="translate(247.8,0)">550</text></g><g class="x16tick"><text text-anchor="middle" x="0" y="1404.1" style="font-family: &quot;Liberation Sans&quot;, sans-serif; font-size: 12px; fill: rgb(42, 63, 95); fill-opacity: 1; font-weight: normal; font-style: normal; font-variant: normal; white-space: pre;" transform="translate(331.8,0)">600</text></g><g class="x16tick"><text text-anchor="middle" x="0" y="1404.1" style="font-family: &quot;Liberation Sans&quot;, sans-serif; font-size: 12px; fill: rgb(42, 63, 95); fill-opacity: 1; font-weight: normal; font-style: normal; font-variant: normal; white-space: pre;" transform="translate(415.7,0)">650</text></g><g class="x16tick"><text text-anchor="middle" x="0" y="1404.1" style="font-family: &quot;Liberation Sans&quot;, sans-serif; font-size: 12px; fill: rgb(42, 63, 95); fill-opacity: 1; font-weight: normal; font-style: normal; font-variant: normal; white-space: pre;" transform="translate(499.7,0)">700</text></g></g><g class="yaxislayer-above"><g class="y16tick"><text text-anchor="end" x="79" y="4.1" transform="translate(0,1391.0)" style="font-family: &quot;Liberation Sans&quot;, sans-serif; font-size: 12px; fill: rgb(42, 63, 95); fill-opacity: 1; font-weight: normal; font-style: normal; font-variant: normal; white-space: pre;">0</text></g><g class="y16tick"><text text-anchor="end" x="79" y="4.1" style="font-family: &quot;Liberation Sans&quot;, sans-serif; font-size: 12px; fill: rgb(42, 63, 95); fill-opacity: 1; font-weight: normal; font-style: normal; font-variant: normal; white-space: pre;" transform="translate(0,1373.3)">0.5</text></g><g class="y16tick"><text text-anchor="end" x="79" y="4.1" style="font-family: &quot;Liberation Sans&quot;, sans-serif; font-size: 12px; fill: rgb(42, 63, 95); fill-opacity: 1; font-weight: normal; font-style: normal; font-variant: normal; white-space: pre;" transform="translate(0,1355.6)">1</text></g><g class="y16tick"><text text-anchor="end" x="79" y="4.1" style="font-family: &quot;Liberation Sans&quot;, sans-serif; font-size: 12px; fill: rgb(42, 63, 95); fill-opacity: 1; font-weight: normal; font-style: normal; font-variant: normal; white-space: pre;" transform="translate(0,1337.9)">1.5</text></g></g><g class="overaxes-above"></g></g><g class="subplot x17y17"><g class="layer-subplot"><g class="shapelayer"></g><g class="imagelayer"></g></g><g class="minor-gridlayer"><g class="x17"></g><g class="y17"></g></g><g class="gridlayer"><g class="x17"><path class="x17grid crisp" transform="translate(163.9,0)" d="M0,1415.4v57.9" style="stroke: rgb(255, 255, 255); stroke-opacity: 1; stroke-width: 1px;"></path><path class="x17grid crisp" transform="translate(247.8,0)" d="M0,1415.4v57.9" style="stroke: rgb(255, 255, 255); stroke-opacity: 1; stroke-width: 1px;"></path><path class="x17grid crisp" transform="translate(331.8,0)" d="M0,1415.4v57.9" style="stroke: rgb(255, 255, 255); stroke-opacity: 1; stroke-width: 1px;"></path><path class="x17grid crisp" transform="translate(415.7,0)" d="M0,1415.4v57.9" style="stroke: rgb(255, 255, 255); stroke-opacity: 1; stroke-width: 1px;"></path><path class="x17grid crisp" transform="translate(499.7,0)" d="M0,1415.4v57.9" style="stroke: rgb(255, 255, 255); stroke-opacity: 1; stroke-width: 1px;"></path></g><g class="y17"><path class="y17grid crisp" transform="translate(0,1455.1)" d="M80,0h502" style="stroke: rgb(255, 255, 255); stroke-opacity: 1; stroke-width: 1px;"></path><path class="y17grid crisp" transform="translate(0,1437.7)" d="M80,0h502" style="stroke: rgb(255, 255, 255); stroke-opacity: 1; stroke-width: 1px;"></path><path class="y17grid crisp" transform="translate(0,1420.4)" d="M80,0h502" style="stroke: rgb(255, 255, 255); stroke-opacity: 1; stroke-width: 1px;"></path></g></g><g class="zerolinelayer"><path class="y17zl zl crisp" transform="translate(0,1472.4)" d="M80,0h502" style="stroke: rgb(255, 255, 255); stroke-opacity: 1; stroke-width: 2px;"></path></g><g class="layer-between"><g class="shapelayer"></g><g class="imagelayer"></g></g><path class="xlines-below"></path><path class="ylines-below"></path><g class="overlines-below"></g><g class="xaxislayer-below"></g><g class="yaxislayer-below"></g><g class="overaxes-below"></g><g class="overplot"><g class="x17y17" transform="translate(80,1415.4)" clip-path="url(#clip5c4ca8x17y17plot)"><g class="scatterlayer mlayer"><g class="trace scatter trace89eafe" style="stroke-miterlimit: 2; opacity: 1;"><g class="fills"></g><g class="errorbars"></g><g class="lines"><path class="js-line" d="M-2,37.2L28.6,34.8L44.8,35.7L57.4,39.3L71.8,46.5L84.4,51.6L98.8,53.7L124.0,54.8L205.0,54.3L331.0,50.7L502.2,41.0" style="vector-effect: none; fill: none; stroke: rgb(128, 128, 128); stroke-opacity: 1; stroke-width: 4px; opacity: 1;"></path></g><g class="points"></g><g class="text"></g></g><g class="trace scatter traceff5917" style="stroke-miterlimit: 2; opacity: 1;"><g class="fills"></g><g class="errorbars"></g><g class="lines"><path class="js-line" d="M-2,48.3L502.2,48.3" style="vector-effect: none; fill: none; stroke: rgb(171, 99, 250); stroke-opacity: 1; stroke-width: 2px; opacity: 1;"></path></g><g class="points"></g><g class="text"></g></g></g></g></g><g class="zerolinelayer-above"></g><path class="xlines-above crisp" d="M0,0" style="fill: none;"></path><path class="ylines-above crisp" d="M0,0" style="fill: none;"></path><g class="overlines-above"></g><g class="xaxislayer-above"><g class="x17tick"><text text-anchor="middle" x="0" y="1486.3" transform="translate(80,0)" style="font-family: &quot;Liberation Sans&quot;, sans-serif; font-size: 12px; fill: rgb(42, 63, 95); fill-opacity: 1; font-weight: normal; font-style: normal; font-variant: normal; white-space: pre;">450</text></g><g class="x17tick"><text text-anchor="middle" x="0" y="1486.3" style="font-family: &quot;Liberation Sans&quot;, sans-serif; font-size: 12px; fill: rgb(42, 63, 95); fill-opacity: 1; font-weight: normal; font-style: normal; font-variant: normal; white-space: pre;" transform="translate(163.9,0)">500</text></g><g class="x17tick"><text text-anchor="middle" x="0" y="1486.3" style="font-family: &quot;Liberation Sans&quot;, sans-serif; font-size: 12px; fill: rgb(42, 63, 95); fill-opacity: 1; font-weight: normal; font-style: normal; font-variant: normal; white-space: pre;" transform="translate(247.8,0)">550</text></g><g class="x17tick"><text text-anchor="middle" x="0" y="1486.3" style="font-family: &quot;Liberation Sans&quot;, sans-serif; font-size: 12px; fill: rgb(42, 63, 95); fill-opacity: 1; font-weight: normal; font-style: normal; font-variant: normal; white-space: pre;" transform="translate(331.8,0)">600</text></g><g class="x17tick"><text text-anchor="middle" x="0" y="1486.3" style="font-family: &quot;Liberation Sans&quot;, sans-serif; font-size: 12px; fill: rgb(42, 63, 95); fill-opacity: 1; font-weight: normal; font-style: normal; font-variant: normal; white-space: pre;" transform="translate(415.7,0)">650</text></g><g class="x17tick"><text text-anchor="middle" x="0" y="1486.3" style="font-family: &quot;Liberation Sans&quot;, sans-serif; font-size: 12px; fill: rgb(42, 63, 95); fill-opacity: 1; font-weight: normal; font-style: normal; font-variant: normal; white-space: pre;" transform="translate(499.7,0)">700</text></g></g><g class="yaxislayer-above"><g class="y17tick"><text text-anchor="end" x="79" y="4.1" transform="translate(0,1472.4)" style="font-family: &quot;Liberation Sans&quot;, sans-serif; font-size: 12px; fill: rgb(42, 63, 95); fill-opacity: 1; font-weight: normal; font-style: normal; font-variant: normal; white-space: pre;">0</text></g><g class="y17tick"><text text-anchor="end" x="79" y="4.1" style="font-family: &quot;Liberation Sans&quot;, sans-serif; font-size: 12px; fill: rgb(42, 63, 95); fill-opacity: 1; font-weight: normal; font-style: normal; font-variant: normal; white-space: pre;" transform="translate(0,1455.1)">0.5</text></g><g class="y17tick"><text text-anchor="end" x="79" y="4.1" style="font-family: &quot;Liberation Sans&quot;, sans-serif; font-size: 12px; fill: rgb(42, 63, 95); fill-opacity: 1; font-weight: normal; font-style: normal; font-variant: normal; white-space: pre;" transform="translate(0,1437.7)">1</text></g><g class="y17tick"><text text-anchor="end" x="79" y="4.1" style="font-family: &quot;Liberation Sans&quot;, sans-serif; font-size: 12px; fill: rgb(42, 63, 95); fill-opacity: 1; font-weight: normal; font-style: normal; font-variant: normal; white-space: pre;" transform="translate(0,1420.4)">1.5</text></g></g><g class="overaxes-above"></g></g><g class="subplot x18y18"><g class="layer-subplot"><g class="shapelayer"></g><g class="imagelayer"></g></g><g class="minor-gridlayer"><g class="x18"></g><g class="y18"></g></g><g class="gridlayer"><g class="x18"><path class="x18grid crisp" transform="translate(163.9,0)" d="M0,1497.6v57.9" style="stroke: rgb(255, 255, 255); stroke-opacity: 1; stroke-width: 1px;"></path><path class="x18grid crisp" transform="translate(247.8,0)" d="M0,1497.6v57.9" style="stroke: rgb(255, 255, 255); stroke-opacity: 1; stroke-width: 1px;"></path><path class="x18grid crisp" transform="translate(331.8,0)" d="M0,1497.6v57.9" style="stroke: rgb(255, 255, 255); stroke-opacity: 1; stroke-width: 1px;"></path><path class="x18grid crisp" transform="translate(415.7,0)" d="M0,1497.6v57.9" style="stroke: rgb(255, 255, 255); stroke-opacity: 1; stroke-width: 1px;"></path><path class="x18grid crisp" transform="translate(499.7,0)" d="M0,1497.6v57.9" style="stroke: rgb(255, 255, 255); stroke-opacity: 1; stroke-width: 1px;"></path></g><g class="y18"><path class="y18grid crisp" transform="translate(0,1537.3)" d="M80,0h502" style="stroke: rgb(255, 255, 255); stroke-opacity: 1; stroke-width: 1px;"></path><path class="y18grid crisp" transform="translate(0,1520.2)" d="M80,0h502" style="stroke: rgb(255, 255, 255); stroke-opacity: 1; stroke-width: 1px;"></path><path class="y18grid crisp" transform="translate(0,1503.2)" d="M80,0h502" style="stroke: rgb(255, 255, 255); stroke-opacity: 1; stroke-width: 1px;"></path></g></g><g class="zerolinelayer"><path class="y18zl zl crisp" transform="translate(0,1554.3)" d="M80,0h502" style="stroke: rgb(255, 255, 255); stroke-opacity: 1; stroke-width: 2px;"></path></g><g class="layer-between"><g class="shapelayer"></g><g class="imagelayer"></g></g><path class="xlines-below"></path><path class="ylines-below"></path><g class="overlines-below"></g><g class="xaxislayer-below"></g><g class="yaxislayer-below"></g><g class="overaxes-below"></g><g class="overplot"><g class="x18y18" transform="translate(80,1497.6)" clip-path="url(#clip5c4ca8x18y18plot)"><g class="scatterlayer mlayer"><g class="trace scatter tracef522cc" style="stroke-miterlimit: 2; opacity: 1;"><g class="fills"></g><g class="errorbars"></g><g class="lines"><path class="js-line" d="M-2,36.8L28.6,34.4L44.8,35.3L57.4,38.9L71.8,46.1L84.4,51.2L98.8,53.4L124.0,54.5L205.0,54.2L331.0,50.7L502.2,41.2" style="vector-effect: none; fill: none; stroke: rgb(128, 128, 128); stroke-opacity: 1; stroke-width: 4px; opacity: 1;"></path></g><g class="points"></g><g class="text"></g></g><g class="trace scatter tracef1ab16" style="stroke-miterlimit: 2; opacity: 1;"><g class="fills"></g><g class="errorbars"></g><g class="lines"><path class="js-line" d="M-2,48.1L502.2,48.1" style="vector-effect: none; fill: none; stroke: rgb(25, 211, 243); stroke-opacity: 1; stroke-width: 2px; opacity: 1;"></path></g><g class="points"></g><g class="text"></g></g></g></g></g><g class="zerolinelayer-above"></g><path class="xlines-above crisp" d="M0,0" style="fill: none;"></path><path class="ylines-above crisp" d="M0,0" style="fill: none;"></path><g class="overlines-above"></g><g class="xaxislayer-above"><g class="x18tick"><text text-anchor="middle" x="0" y="1568.5" transform="translate(80,0)" style="font-family: &quot;Liberation Sans&quot;, sans-serif; font-size: 12px; fill: rgb(42, 63, 95); fill-opacity: 1; font-weight: normal; font-style: normal; font-variant: normal; white-space: pre;">450</text></g><g class="x18tick"><text text-anchor="middle" x="0" y="1568.5" style="font-family: &quot;Liberation Sans&quot;, sans-serif; font-size: 12px; fill: rgb(42, 63, 95); fill-opacity: 1; font-weight: normal; font-style: normal; font-variant: normal; white-space: pre;" transform="translate(163.9,0)">500</text></g><g class="x18tick"><text text-anchor="middle" x="0" y="1568.5" style="font-family: &quot;Liberation Sans&quot;, sans-serif; font-size: 12px; fill: rgb(42, 63, 95); fill-opacity: 1; font-weight: normal; font-style: normal; font-variant: normal; white-space: pre;" transform="translate(247.8,0)">550</text></g><g class="x18tick"><text text-anchor="middle" x="0" y="1568.5" style="font-family: &quot;Liberation Sans&quot;, sans-serif; font-size: 12px; fill: rgb(42, 63, 95); fill-opacity: 1; font-weight: normal; font-style: normal; font-variant: normal; white-space: pre;" transform="translate(331.8,0)">600</text></g><g class="x18tick"><text text-anchor="middle" x="0" y="1568.5" style="font-family: &quot;Liberation Sans&quot;, sans-serif; font-size: 12px; fill: rgb(42, 63, 95); fill-opacity: 1; font-weight: normal; font-style: normal; font-variant: normal; white-space: pre;" transform="translate(415.7,0)">650</text></g><g class="x18tick"><text text-anchor="middle" x="0" y="1568.5" style="font-family: &quot;Liberation Sans&quot;, sans-serif; font-size: 12px; fill: rgb(42, 63, 95); fill-opacity: 1; font-weight: normal; font-style: normal; font-variant: normal; white-space: pre;" transform="translate(499.7,0)">700</text></g></g><g class="yaxislayer-above"><g class="y18tick"><text text-anchor="end" x="79" y="4.1" transform="translate(0,1554.3)" style="font-family: &quot;Liberation Sans&quot;, sans-serif; font-size: 12px; fill: rgb(42, 63, 95); fill-opacity: 1; font-weight: normal; font-style: normal; font-variant: normal; white-space: pre;">0</text></g><g class="y18tick"><text text-anchor="end" x="79" y="4.1" style="font-family: &quot;Liberation Sans&quot;, sans-serif; font-size: 12px; fill: rgb(42, 63, 95); fill-opacity: 1; font-weight: normal; font-style: normal; font-variant: normal; white-space: pre;" transform="translate(0,1537.3)">0.5</text></g><g class="y18tick"><text text-anchor="end" x="79" y="4.1" style="font-family: &quot;Liberation Sans&quot;, sans-serif; font-size: 12px; fill: rgb(42, 63, 95); fill-opacity: 1; font-weight: normal; font-style: normal; font-variant: normal; white-space: pre;" transform="translate(0,1520.2)">1</text></g><g class="y18tick"><text text-anchor="end" x="79" y="4.1" style="font-family: &quot;Liberation Sans&quot;, sans-serif; font-size: 12px; fill: rgb(42, 63, 95); fill-opacity: 1; font-weight: normal; font-style: normal; font-variant: normal; white-space: pre;" transform="translate(0,1503.2)">1.5</text></g></g><g class="overaxes-above"></g></g><g class="subplot x19y19"><g class="layer-subplot"><g class="shapelayer"></g><g class="imagelayer"></g></g><g class="minor-gridlayer"><g class="x19"></g><g class="y19"></g></g><g class="gridlayer"><g class="x19"><path class="x19grid crisp" transform="translate(163.9,0)" d="M0,1579.8v57.9" style="stroke: rgb(255, 255, 255); stroke-opacity: 1; stroke-width: 1px;"></path><path class="x19grid crisp" transform="translate(247.8,0)" d="M0,1579.8v57.9" style="stroke: rgb(255, 255, 255); stroke-opacity: 1; stroke-width: 1px;"></path><path class="x19grid crisp" transform="translate(331.8,0)" d="M0,1579.8v57.9" style="stroke: rgb(255, 255, 255); stroke-opacity: 1; stroke-width: 1px;"></path><path class="x19grid crisp" transform="translate(415.7,0)" d="M0,1579.8v57.9" style="stroke: rgb(255, 255, 255); stroke-opacity: 1; stroke-width: 1px;"></path><path class="x19grid crisp" transform="translate(499.7,0)" d="M0,1579.8v57.9" style="stroke: rgb(255, 255, 255); stroke-opacity: 1; stroke-width: 1px;"></path></g><g class="y19"><path class="y19grid crisp" transform="translate(0,1619.5)" d="M80,0h502" style="stroke: rgb(255, 255, 255); stroke-opacity: 1; stroke-width: 1px;"></path><path class="y19grid crisp" transform="translate(0,1602.5)" d="M80,0h502" style="stroke: rgb(255, 255, 255); stroke-opacity: 1; stroke-width: 1px;"></path><path class="y19grid crisp" transform="translate(0,1585.5)" d="M80,0h502" style="stroke: rgb(255, 255, 255); stroke-opacity: 1; stroke-width: 1px;"></path></g></g><g class="zerolinelayer"><path class="y19zl zl crisp" transform="translate(0,1636.5)" d="M80,0h502" style="stroke: rgb(255, 255, 255); stroke-opacity: 1; stroke-width: 2px;"></path></g><g class="layer-between"><g class="shapelayer"></g><g class="imagelayer"></g></g><path class="xlines-below"></path><path class="ylines-below"></path><g class="overlines-below"></g><g class="xaxislayer-below"></g><g class="yaxislayer-below"></g><g class="overaxes-below"></g><g class="overplot"><g class="x19y19" transform="translate(80,1579.8)" clip-path="url(#clip5c4ca8x19y19plot)"><g class="scatterlayer mlayer"><g class="trace scatter trace88f0d0" style="stroke-miterlimit: 2; opacity: 1;"><g class="fills"></g><g class="errorbars"></g><g class="lines"><path class="js-line" d="M-2,36.4L28.6,34.2L44.8,35.1L57.4,38.7L71.8,45.9L84.4,50.8L98.8,53.1L124.0,54.2L205.0,53.9L331.0,50.4L502.2,41.0" style="vector-effect: none; fill: none; stroke: rgb(128, 128, 128); stroke-opacity: 1; stroke-width: 4px; opacity: 1;"></path></g><g class="points"></g><g class="text"></g></g><g class="trace scatter traceb1fe72" style="stroke-miterlimit: 2; opacity: 1;"><g class="fills"></g><g class="errorbars"></g><g class="lines"><path class="js-line" d="M-2,47.9L502.2,47.9" style="vector-effect: none; fill: none; stroke: rgb(182, 232, 128); stroke-opacity: 1; stroke-width: 2px; opacity: 1;"></path></g><g class="points"></g><g class="text"></g></g></g></g></g><g class="zerolinelayer-above"></g><path class="xlines-above crisp" d="M0,0" style="fill: none;"></path><path class="ylines-above crisp" d="M0,0" style="fill: none;"></path><g class="overlines-above"></g><g class="xaxislayer-above"><g class="x19tick"><text text-anchor="middle" x="0" y="1650.7" transform="translate(80,0)" style="font-family: &quot;Liberation Sans&quot;, sans-serif; font-size: 12px; fill: rgb(42, 63, 95); fill-opacity: 1; font-weight: normal; font-style: normal; font-variant: normal; white-space: pre;">450</text></g><g class="x19tick"><text text-anchor="middle" x="0" y="1650.7" style="font-family: &quot;Liberation Sans&quot;, sans-serif; font-size: 12px; fill: rgb(42, 63, 95); fill-opacity: 1; font-weight: normal; font-style: normal; font-variant: normal; white-space: pre;" transform="translate(163.9,0)">500</text></g><g class="x19tick"><text text-anchor="middle" x="0" y="1650.7" style="font-family: &quot;Liberation Sans&quot;, sans-serif; font-size: 12px; fill: rgb(42, 63, 95); fill-opacity: 1; font-weight: normal; font-style: normal; font-variant: normal; white-space: pre;" transform="translate(247.8,0)">550</text></g><g class="x19tick"><text text-anchor="middle" x="0" y="1650.7" style="font-family: &quot;Liberation Sans&quot;, sans-serif; font-size: 12px; fill: rgb(42, 63, 95); fill-opacity: 1; font-weight: normal; font-style: normal; font-variant: normal; white-space: pre;" transform="translate(331.8,0)">600</text></g><g class="x19tick"><text text-anchor="middle" x="0" y="1650.7" style="font-family: &quot;Liberation Sans&quot;, sans-serif; font-size: 12px; fill: rgb(42, 63, 95); fill-opacity: 1; font-weight: normal; font-style: normal; font-variant: normal; white-space: pre;" transform="translate(415.7,0)">650</text></g><g class="x19tick"><text text-anchor="middle" x="0" y="1650.7" style="font-family: &quot;Liberation Sans&quot;, sans-serif; font-size: 12px; fill: rgb(42, 63, 95); fill-opacity: 1; font-weight: normal; font-style: normal; font-variant: normal; white-space: pre;" transform="translate(499.7,0)">700</text></g></g><g class="yaxislayer-above"><g class="y19tick"><text text-anchor="end" x="79" y="4.1" transform="translate(0,1636.5)" style="font-family: &quot;Liberation Sans&quot;, sans-serif; font-size: 12px; fill: rgb(42, 63, 95); fill-opacity: 1; font-weight: normal; font-style: normal; font-variant: normal; white-space: pre;">0</text></g><g class="y19tick"><text text-anchor="end" x="79" y="4.1" style="font-family: &quot;Liberation Sans&quot;, sans-serif; font-size: 12px; fill: rgb(42, 63, 95); fill-opacity: 1; font-weight: normal; font-style: normal; font-variant: normal; white-space: pre;" transform="translate(0,1619.5)">0.5</text></g><g class="y19tick"><text text-anchor="end" x="79" y="4.1" style="font-family: &quot;Liberation Sans&quot;, sans-serif; font-size: 12px; fill: rgb(42, 63, 95); fill-opacity: 1; font-weight: normal; font-style: normal; font-variant: normal; white-space: pre;" transform="translate(0,1602.5)">1</text></g><g class="y19tick"><text text-anchor="end" x="79" y="4.1" style="font-family: &quot;Liberation Sans&quot;, sans-serif; font-size: 12px; fill: rgb(42, 63, 95); fill-opacity: 1; font-weight: normal; font-style: normal; font-variant: normal; white-space: pre;" transform="translate(0,1585.5)">1.5</text></g></g><g class="overaxes-above"></g></g><g class="subplot x20y20"><g class="layer-subplot"><g class="shapelayer"></g><g class="imagelayer"></g></g><g class="minor-gridlayer"><g class="x20"></g><g class="y20"></g></g><g class="gridlayer"><g class="x20"><path class="x20grid crisp" transform="translate(163.9,0)" d="M0,1662.0v57.9" style="stroke: rgb(255, 255, 255); stroke-opacity: 1; stroke-width: 1px;"></path><path class="x20grid crisp" transform="translate(247.8,0)" d="M0,1662.0v57.9" style="stroke: rgb(255, 255, 255); stroke-opacity: 1; stroke-width: 1px;"></path><path class="x20grid crisp" transform="translate(331.8,0)" d="M0,1662.0v57.9" style="stroke: rgb(255, 255, 255); stroke-opacity: 1; stroke-width: 1px;"></path><path class="x20grid crisp" transform="translate(415.7,0)" d="M0,1662.0v57.9" style="stroke: rgb(255, 255, 255); stroke-opacity: 1; stroke-width: 1px;"></path><path class="x20grid crisp" transform="translate(499.7,0)" d="M0,1662.0v57.9" style="stroke: rgb(255, 255, 255); stroke-opacity: 1; stroke-width: 1px;"></path></g><g class="y20"><path class="y20grid crisp" transform="translate(0,1701.5)" d="M80,0h502" style="stroke: rgb(255, 255, 255); stroke-opacity: 1; stroke-width: 1px;"></path><path class="y20grid crisp" transform="translate(0,1684.5)" d="M80,0h502" style="stroke: rgb(255, 255, 255); stroke-opacity: 1; stroke-width: 1px;"></path><path class="y20grid crisp" transform="translate(0,1667.4)" d="M80,0h502" style="stroke: rgb(255, 255, 255); stroke-opacity: 1; stroke-width: 1px;"></path></g></g><g class="zerolinelayer"><path class="y20zl zl crisp" transform="translate(0,1718.6)" d="M80,0h502" style="stroke: rgb(255, 255, 255); stroke-opacity: 1; stroke-width: 2px;"></path></g><g class="layer-between"><g class="shapelayer"></g><g class="imagelayer"></g></g><path class="xlines-below"></path><path class="ylines-below"></path><g class="overlines-below"></g><g class="xaxislayer-below"></g><g class="yaxislayer-below"></g><g class="overaxes-below"></g><g class="overplot"><g class="x20y20" transform="translate(80,1662.0)" clip-path="url(#clip5c4ca8x20y20plot)"><g class="scatterlayer mlayer"><g class="trace scatter tracecf439d" style="stroke-miterlimit: 2; opacity: 1;"><g class="fills"></g><g class="errorbars"></g><g class="lines"><path class="js-line" d="M-2,37.0L28.6,34.8L44.8,35.7L57.4,39.3L71.8,46.5L84.4,51.4L98.8,53.7L124.0,54.9L205.0,54.6L331.0,50.8L419.9,45.1L502.2,40.8" style="vector-effect: none; fill: none; stroke: rgb(128, 128, 128); stroke-opacity: 1; stroke-width: 4px; opacity: 1;"></path></g><g class="points"></g><g class="text"></g></g><g class="trace scatter tracee8949c" style="stroke-miterlimit: 2; opacity: 1;"><g class="fills"></g><g class="errorbars"></g><g class="lines"><path class="js-line" d="M-2,48.7L502.2,47.8" style="vector-effect: none; fill: none; stroke: rgb(254, 203, 82); stroke-opacity: 1; stroke-width: 2px; opacity: 1;"></path></g><g class="points"></g><g class="text"></g></g></g></g></g><g class="zerolinelayer-above"></g><path class="xlines-above crisp" d="M0,0" style="fill: none;"></path><path class="ylines-above crisp" d="M0,0" style="fill: none;"></path><g class="overlines-above"></g><g class="xaxislayer-above"><g class="x20tick"><text text-anchor="middle" x="0" y="1733" transform="translate(80,0)" style="font-family: &quot;Liberation Sans&quot;, sans-serif; font-size: 12px; fill: rgb(42, 63, 95); fill-opacity: 1; font-weight: normal; font-style: normal; font-variant: normal; white-space: pre;">450</text></g><g class="x20tick"><text text-anchor="middle" x="0" y="1733" style="font-family: &quot;Liberation Sans&quot;, sans-serif; font-size: 12px; fill: rgb(42, 63, 95); fill-opacity: 1; font-weight: normal; font-style: normal; font-variant: normal; white-space: pre;" transform="translate(163.9,0)">500</text></g><g class="x20tick"><text text-anchor="middle" x="0" y="1733" style="font-family: &quot;Liberation Sans&quot;, sans-serif; font-size: 12px; fill: rgb(42, 63, 95); fill-opacity: 1; font-weight: normal; font-style: normal; font-variant: normal; white-space: pre;" transform="translate(247.8,0)">550</text></g><g class="x20tick"><text text-anchor="middle" x="0" y="1733" style="font-family: &quot;Liberation Sans&quot;, sans-serif; font-size: 12px; fill: rgb(42, 63, 95); fill-opacity: 1; font-weight: normal; font-style: normal; font-variant: normal; white-space: pre;" transform="translate(331.8,0)">600</text></g><g class="x20tick"><text text-anchor="middle" x="0" y="1733" style="font-family: &quot;Liberation Sans&quot;, sans-serif; font-size: 12px; fill: rgb(42, 63, 95); fill-opacity: 1; font-weight: normal; font-style: normal; font-variant: normal; white-space: pre;" transform="translate(415.7,0)">650</text></g><g class="x20tick"><text text-anchor="middle" x="0" y="1733" style="font-family: &quot;Liberation Sans&quot;, sans-serif; font-size: 12px; fill: rgb(42, 63, 95); fill-opacity: 1; font-weight: normal; font-style: normal; font-variant: normal; white-space: pre;" transform="translate(499.7,0)">700</text></g></g><g class="yaxislayer-above"><g class="y20tick"><text text-anchor="end" x="79" y="4.1" transform="translate(0,1718.6)" style="font-family: &quot;Liberation Sans&quot;, sans-serif; font-size: 12px; fill: rgb(42, 63, 95); fill-opacity: 1; font-weight: normal; font-style: normal; font-variant: normal; white-space: pre;">0</text></g><g class="y20tick"><text text-anchor="end" x="79" y="4.1" style="font-family: &quot;Liberation Sans&quot;, sans-serif; font-size: 12px; fill: rgb(42, 63, 95); fill-opacity: 1; font-weight: normal; font-style: normal; font-variant: normal; white-space: pre;" transform="translate(0,1701.5)">0.5</text></g><g class="y20tick"><text text-anchor="end" x="79" y="4.1" style="font-family: &quot;Liberation Sans&quot;, sans-serif; font-size: 12px; fill: rgb(42, 63, 95); fill-opacity: 1; font-weight: normal; font-style: normal; font-variant: normal; white-space: pre;" transform="translate(0,1684.5)">1</text></g><g class="y20tick"><text text-anchor="end" x="79" y="4.1" style="font-family: &quot;Liberation Sans&quot;, sans-serif; font-size: 12px; fill: rgb(42, 63, 95); fill-opacity: 1; font-weight: normal; font-style: normal; font-variant: normal; white-space: pre;" transform="translate(0,1667.4)">1.5</text></g></g><g class="overaxes-above"></g></g></g><g class="polarlayer"></g><g class="smithlayer"></g><g class="ternarylayer"></g><g class="geolayer"></g><g class="funnelarealayer"></g><g class="pielayer"></g><g class="iciclelayer"></g><g class="treemaplayer"></g><g class="sunburstlayer"></g><g class="glimages"></g></svg>
<svg class="main-svg" width="700" height="1800"><defs id="topdefs-5c4ca8"><g class="clips"></g><clipPath id="legend5c4ca8"><rect width="89" height="770" x="0" y="0"></rect></clipPath></defs><g class="indicatorlayer"></g><g class="layer-above"><g class="imagelayer"></g><g class="shapelayer"></g></g><g class="selectionlayer"></g><g class="infolayer"><g class="legend" pointer-events="all" transform="translate(592.0,100)"><rect class="bg" shape-rendering="crispEdges" style="stroke: rgb(68, 68, 68); stroke-opacity: 1; fill: rgb(255, 255, 255); fill-opacity: 1; stroke-width: 0px;" width="89" height="770" x="0" y="0"></rect><g class="scrollbox" transform="" clip-path="url(#legend5c4ca8)"><g class="groups"><g class="traces" transform="translate(0,14.5)" style="opacity: 1;"><text class="legendtext" text-anchor="start" x="40" y="4.6" style="font-family: &quot;Liberation Sans&quot;, sans-serif; font-size: 12px; fill: rgb(42, 63, 95); fill-opacity: 1; font-weight: normal; font-style: normal; font-variant: normal; white-space: pre;">trace 0</text><g class="layers" style="opacity: 1;"><g class="legendfill"></g><g class="legendlines"><path class="js-line" d="M5,0h30" style="fill: none; stroke: rgb(128, 128, 128); stroke-opacity: 1; stroke-width: 4px;"></path></g><g class="legendsymbols"><g class="legendpoints"></g></g></g><rect class="legendtoggle" x="0" y="-9.5" width="83.6" height="19" style="fill: rgb(0, 0, 0); fill-opacity: 0;"></rect></g><g class="traces" transform="translate(0,33.5)" style="opacity: 1;"><text class="legendtext" text-anchor="start" x="40" y="4.6" style="font-family: &quot;Liberation Sans&quot;, sans-serif; font-size: 12px; fill: rgb(42, 63, 95); fill-opacity: 1; font-weight: normal; font-style: normal; font-variant: normal; white-space: pre;">trace 1</text><g class="layers" style="opacity: 1;"><g class="legendfill"></g><g class="legendlines"><path class="js-line" d="M5,0h30" style="fill: none; stroke: rgb(239, 85, 59); stroke-opacity: 1; stroke-width: 2px;"></path></g><g class="legendsymbols"><g class="legendpoints"></g></g></g><rect class="legendtoggle" x="0" y="-9.5" width="83.6" height="19" style="fill: rgb(0, 0, 0); fill-opacity: 0;"></rect></g><g class="traces" transform="translate(0,52.5)" style="opacity: 1;"><text class="legendtext" text-anchor="start" x="40" y="4.6" style="font-family: &quot;Liberation Sans&quot;, sans-serif; font-size: 12px; fill: rgb(42, 63, 95); fill-opacity: 1; font-weight: normal; font-style: normal; font-variant: normal; white-space: pre;">trace 2</text><g class="layers" style="opacity: 1;"><g class="legendfill"></g><g class="legendlines"><path class="js-line" d="M5,0h30" style="fill: none; stroke: rgb(128, 128, 128); stroke-opacity: 1; stroke-width: 4px;"></path></g><g class="legendsymbols"><g class="legendpoints"></g></g></g><rect class="legendtoggle" x="0" y="-9.5" width="83.6" height="19" style="fill: rgb(0, 0, 0); fill-opacity: 0;"></rect></g><g class="traces" transform="translate(0,71.5)" style="opacity: 1;"><text class="legendtext" text-anchor="start" x="40" y="4.6" style="font-family: &quot;Liberation Sans&quot;, sans-serif; font-size: 12px; fill: rgb(42, 63, 95); fill-opacity: 1; font-weight: normal; font-style: normal; font-variant: normal; white-space: pre;">trace 3</text><g class="layers" style="opacity: 1;"><g class="legendfill"></g><g class="legendlines"><path class="js-line" d="M5,0h30" style="fill: none; stroke: rgb(171, 99, 250); stroke-opacity: 1; stroke-width: 2px;"></path></g><g class="legendsymbols"><g class="legendpoints"></g></g></g><rect class="legendtoggle" x="0" y="-9.5" width="83.6" height="19" style="fill: rgb(0, 0, 0); fill-opacity: 0;"></rect></g><g class="traces" transform="translate(0,90.5)" style="opacity: 1;"><text class="legendtext" text-anchor="start" x="40" y="4.6" style="font-family: &quot;Liberation Sans&quot;, sans-serif; font-size: 12px; fill: rgb(42, 63, 95); fill-opacity: 1; font-weight: normal; font-style: normal; font-variant: normal; white-space: pre;">trace 4</text><g class="layers" style="opacity: 1;"><g class="legendfill"></g><g class="legendlines"><path class="js-line" d="M5,0h30" style="fill: none; stroke: rgb(128, 128, 128); stroke-opacity: 1; stroke-width: 4px;"></path></g><g class="legendsymbols"><g class="legendpoints"></g></g></g><rect class="legendtoggle" x="0" y="-9.5" width="83.6" height="19" style="fill: rgb(0, 0, 0); fill-opacity: 0;"></rect></g><g class="traces" transform="translate(0,109.5)" style="opacity: 1;"><text class="legendtext" text-anchor="start" x="40" y="4.6" style="font-family: &quot;Liberation Sans&quot;, sans-serif; font-size: 12px; fill: rgb(42, 63, 95); fill-opacity: 1; font-weight: normal; font-style: normal; font-variant: normal; white-space: pre;">trace 5</text><g class="layers" style="opacity: 1;"><g class="legendfill"></g><g class="legendlines"><path class="js-line" d="M5,0h30" style="fill: none; stroke: rgb(25, 211, 243); stroke-opacity: 1; stroke-width: 2px;"></path></g><g class="legendsymbols"><g class="legendpoints"></g></g></g><rect class="legendtoggle" x="0" y="-9.5" width="83.6" height="19" style="fill: rgb(0, 0, 0); fill-opacity: 0;"></rect></g><g class="traces" transform="translate(0,128.5)" style="opacity: 1;"><text class="legendtext" text-anchor="start" x="40" y="4.6" style="font-family: &quot;Liberation Sans&quot;, sans-serif; font-size: 12px; fill: rgb(42, 63, 95); fill-opacity: 1; font-weight: normal; font-style: normal; font-variant: normal; white-space: pre;">trace 6</text><g class="layers" style="opacity: 1;"><g class="legendfill"></g><g class="legendlines"><path class="js-line" d="M5,0h30" style="fill: none; stroke: rgb(128, 128, 128); stroke-opacity: 1; stroke-width: 4px;"></path></g><g class="legendsymbols"><g class="legendpoints"></g></g></g><rect class="legendtoggle" x="0" y="-9.5" width="83.6" height="19" style="fill: rgb(0, 0, 0); fill-opacity: 0;"></rect></g><g class="traces" transform="translate(0,147.5)" style="opacity: 1;"><text class="legendtext" text-anchor="start" x="40" y="4.6" style="font-family: &quot;Liberation Sans&quot;, sans-serif; font-size: 12px; fill: rgb(42, 63, 95); fill-opacity: 1; font-weight: normal; font-style: normal; font-variant: normal; white-space: pre;">trace 7</text><g class="layers" style="opacity: 1;"><g class="legendfill"></g><g class="legendlines"><path class="js-line" d="M5,0h30" style="fill: none; stroke: rgb(182, 232, 128); stroke-opacity: 1; stroke-width: 2px;"></path></g><g class="legendsymbols"><g class="legendpoints"></g></g></g><rect class="legendtoggle" x="0" y="-9.5" width="83.6" height="19" style="fill: rgb(0, 0, 0); fill-opacity: 0;"></rect></g><g class="traces" transform="translate(0,166.5)" style="opacity: 1;"><text class="legendtext" text-anchor="start" x="40" y="4.6" style="font-family: &quot;Liberation Sans&quot;, sans-serif; font-size: 12px; fill: rgb(42, 63, 95); fill-opacity: 1; font-weight: normal; font-style: normal; font-variant: normal; white-space: pre;">trace 8</text><g class="layers" style="opacity: 1;"><g class="legendfill"></g><g class="legendlines"><path class="js-line" d="M5,0h30" style="fill: none; stroke: rgb(128, 128, 128); stroke-opacity: 1; stroke-width: 4px;"></path></g><g class="legendsymbols"><g class="legendpoints"></g></g></g><rect class="legendtoggle" x="0" y="-9.5" width="83.6" height="19" style="fill: rgb(0, 0, 0); fill-opacity: 0;"></rect></g><g class="traces" transform="translate(0,185.5)" style="opacity: 1;"><text class="legendtext" text-anchor="start" x="40" y="4.6" style="font-family: &quot;Liberation Sans&quot;, sans-serif; font-size: 12px; fill: rgb(42, 63, 95); fill-opacity: 1; font-weight: normal; font-style: normal; font-variant: normal; white-space: pre;">trace 9</text><g class="layers" style="opacity: 1;"><g class="legendfill"></g><g class="legendlines"><path class="js-line" d="M5,0h30" style="fill: none; stroke: rgb(254, 203, 82); stroke-opacity: 1; stroke-width: 2px;"></path></g><g class="legendsymbols"><g class="legendpoints"></g></g></g><rect class="legendtoggle" x="0" y="-9.5" width="83.6" height="19" style="fill: rgb(0, 0, 0); fill-opacity: 0;"></rect></g><g class="traces" transform="translate(0,204.5)" style="opacity: 1;"><text class="legendtext" text-anchor="start" x="40" y="4.6" style="font-family: &quot;Liberation Sans&quot;, sans-serif; font-size: 12px; fill: rgb(42, 63, 95); fill-opacity: 1; font-weight: normal; font-style: normal; font-variant: normal; white-space: pre;">trace 10</text><g class="layers" style="opacity: 1;"><g class="legendfill"></g><g class="legendlines"><path class="js-line" d="M5,0h30" style="fill: none; stroke: rgb(128, 128, 128); stroke-opacity: 1; stroke-width: 4px;"></path></g><g class="legendsymbols"><g class="legendpoints"></g></g></g><rect class="legendtoggle" x="0" y="-9.5" width="83.6" height="19" style="fill: rgb(0, 0, 0); fill-opacity: 0;"></rect></g><g class="traces" transform="translate(0,223.5)" style="opacity: 1;"><text class="legendtext" text-anchor="start" x="40" y="4.6" style="font-family: &quot;Liberation Sans&quot;, sans-serif; font-size: 12px; fill: rgb(42, 63, 95); fill-opacity: 1; font-weight: normal; font-style: normal; font-variant: normal; white-space: pre;">trace 11</text><g class="layers" style="opacity: 1;"><g class="legendfill"></g><g class="legendlines"><path class="js-line" d="M5,0h30" style="fill: none; stroke: rgb(239, 85, 59); stroke-opacity: 1; stroke-width: 2px;"></path></g><g class="legendsymbols"><g class="legendpoints"></g></g></g><rect class="legendtoggle" x="0" y="-9.5" width="83.6" height="19" style="fill: rgb(0, 0, 0); fill-opacity: 0;"></rect></g><g class="traces" transform="translate(0,242.5)" style="opacity: 1;"><text class="legendtext" text-anchor="start" x="40" y="4.6" style="font-family: &quot;Liberation Sans&quot;, sans-serif; font-size: 12px; fill: rgb(42, 63, 95); fill-opacity: 1; font-weight: normal; font-style: normal; font-variant: normal; white-space: pre;">trace 12</text><g class="layers" style="opacity: 1;"><g class="legendfill"></g><g class="legendlines"><path class="js-line" d="M5,0h30" style="fill: none; stroke: rgb(128, 128, 128); stroke-opacity: 1; stroke-width: 4px;"></path></g><g class="legendsymbols"><g class="legendpoints"></g></g></g><rect class="legendtoggle" x="0" y="-9.5" width="83.6" height="19" style="fill: rgb(0, 0, 0); fill-opacity: 0;"></rect></g><g class="traces" transform="translate(0,261.5)" style="opacity: 1;"><text class="legendtext" text-anchor="start" x="40" y="4.6" style="font-family: &quot;Liberation Sans&quot;, sans-serif; font-size: 12px; fill: rgb(42, 63, 95); fill-opacity: 1; font-weight: normal; font-style: normal; font-variant: normal; white-space: pre;">trace 13</text><g class="layers" style="opacity: 1;"><g class="legendfill"></g><g class="legendlines"><path class="js-line" d="M5,0h30" style="fill: none; stroke: rgb(171, 99, 250); stroke-opacity: 1; stroke-width: 2px;"></path></g><g class="legendsymbols"><g class="legendpoints"></g></g></g><rect class="legendtoggle" x="0" y="-9.5" width="83.6" height="19" style="fill: rgb(0, 0, 0); fill-opacity: 0;"></rect></g><g class="traces" transform="translate(0,280.5)" style="opacity: 1;"><text class="legendtext" text-anchor="start" x="40" y="4.6" style="font-family: &quot;Liberation Sans&quot;, sans-serif; font-size: 12px; fill: rgb(42, 63, 95); fill-opacity: 1; font-weight: normal; font-style: normal; font-variant: normal; white-space: pre;">trace 14</text><g class="layers" style="opacity: 1;"><g class="legendfill"></g><g class="legendlines"><path class="js-line" d="M5,0h30" style="fill: none; stroke: rgb(128, 128, 128); stroke-opacity: 1; stroke-width: 4px;"></path></g><g class="legendsymbols"><g class="legendpoints"></g></g></g><rect class="legendtoggle" x="0" y="-9.5" width="83.6" height="19" style="fill: rgb(0, 0, 0); fill-opacity: 0;"></rect></g><g class="traces" transform="translate(0,299.5)" style="opacity: 1;"><text class="legendtext" text-anchor="start" x="40" y="4.6" style="font-family: &quot;Liberation Sans&quot;, sans-serif; font-size: 12px; fill: rgb(42, 63, 95); fill-opacity: 1; font-weight: normal; font-style: normal; font-variant: normal; white-space: pre;">trace 15</text><g class="layers" style="opacity: 1;"><g class="legendfill"></g><g class="legendlines"><path class="js-line" d="M5,0h30" style="fill: none; stroke: rgb(25, 211, 243); stroke-opacity: 1; stroke-width: 2px;"></path></g><g class="legendsymbols"><g class="legendpoints"></g></g></g><rect class="legendtoggle" x="0" y="-9.5" width="83.6" height="19" style="fill: rgb(0, 0, 0); fill-opacity: 0;"></rect></g><g class="traces" transform="translate(0,318.5)" style="opacity: 1;"><text class="legendtext" text-anchor="start" x="40" y="4.6" style="font-family: &quot;Liberation Sans&quot;, sans-serif; font-size: 12px; fill: rgb(42, 63, 95); fill-opacity: 1; font-weight: normal; font-style: normal; font-variant: normal; white-space: pre;">trace 16</text><g class="layers" style="opacity: 1;"><g class="legendfill"></g><g class="legendlines"><path class="js-line" d="M5,0h30" style="fill: none; stroke: rgb(128, 128, 128); stroke-opacity: 1; stroke-width: 4px;"></path></g><g class="legendsymbols"><g class="legendpoints"></g></g></g><rect class="legendtoggle" x="0" y="-9.5" width="83.6" height="19" style="fill: rgb(0, 0, 0); fill-opacity: 0;"></rect></g><g class="traces" transform="translate(0,337.5)" style="opacity: 1;"><text class="legendtext" text-anchor="start" x="40" y="4.6" style="font-family: &quot;Liberation Sans&quot;, sans-serif; font-size: 12px; fill: rgb(42, 63, 95); fill-opacity: 1; font-weight: normal; font-style: normal; font-variant: normal; white-space: pre;">trace 17</text><g class="layers" style="opacity: 1;"><g class="legendfill"></g><g class="legendlines"><path class="js-line" d="M5,0h30" style="fill: none; stroke: rgb(182, 232, 128); stroke-opacity: 1; stroke-width: 2px;"></path></g><g class="legendsymbols"><g class="legendpoints"></g></g></g><rect class="legendtoggle" x="0" y="-9.5" width="83.6" height="19" style="fill: rgb(0, 0, 0); fill-opacity: 0;"></rect></g><g class="traces" transform="translate(0,356.5)" style="opacity: 1;"><text class="legendtext" text-anchor="start" x="40" y="4.6" style="font-family: &quot;Liberation Sans&quot;, sans-serif; font-size: 12px; fill: rgb(42, 63, 95); fill-opacity: 1; font-weight: normal; font-style: normal; font-variant: normal; white-space: pre;">trace 18</text><g class="layers" style="opacity: 1;"><g class="legendfill"></g><g class="legendlines"><path class="js-line" d="M5,0h30" style="fill: none; stroke: rgb(128, 128, 128); stroke-opacity: 1; stroke-width: 4px;"></path></g><g class="legendsymbols"><g class="legendpoints"></g></g></g><rect class="legendtoggle" x="0" y="-9.5" width="83.6" height="19" style="fill: rgb(0, 0, 0); fill-opacity: 0;"></rect></g><g class="traces" transform="translate(0,375.5)" style="opacity: 1;"><text class="legendtext" text-anchor="start" x="40" y="4.6" style="font-family: &quot;Liberation Sans&quot;, sans-serif; font-size: 12px; fill: rgb(42, 63, 95); fill-opacity: 1; font-weight: normal; font-style: normal; font-variant: normal; white-space: pre;">trace 19</text><g class="layers" style="opacity: 1;"><g class="legendfill"></g><g class="legendlines"><path class="js-line" d="M5,0h30" style="fill: none; stroke: rgb(254, 203, 82); stroke-opacity: 1; stroke-width: 2px;"></path></g><g class="legendsymbols"><g class="legendpoints"></g></g></g><rect class="legendtoggle" x="0" y="-9.5" width="83.6" height="19" style="fill: rgb(0, 0, 0); fill-opacity: 0;"></rect></g><g class="traces" transform="translate(0,394.5)" style="opacity: 1;"><text class="legendtext" text-anchor="start" x="40" y="4.6" style="font-family: &quot;Liberation Sans&quot;, sans-serif; font-size: 12px; fill: rgb(42, 63, 95); fill-opacity: 1; font-weight: normal; font-style: normal; font-variant: normal; white-space: pre;">trace 20</text><g class="layers" style="opacity: 1;"><g class="legendfill"></g><g class="legendlines"><path class="js-line" d="M5,0h30" style="fill: none; stroke: rgb(128, 128, 128); stroke-opacity: 1; stroke-width: 4px;"></path></g><g class="legendsymbols"><g class="legendpoints"></g></g></g><rect class="legendtoggle" x="0" y="-9.5" width="83.6" height="19" style="fill: rgb(0, 0, 0); fill-opacity: 0;"></rect></g><g class="traces" transform="translate(0,413.5)" style="opacity: 1;"><text class="legendtext" text-anchor="start" x="40" y="4.6" style="font-family: &quot;Liberation Sans&quot;, sans-serif; font-size: 12px; fill: rgb(42, 63, 95); fill-opacity: 1; font-weight: normal; font-style: normal; font-variant: normal; white-space: pre;">trace 21</text><g class="layers" style="opacity: 1;"><g class="legendfill"></g><g class="legendlines"><path class="js-line" d="M5,0h30" style="fill: none; stroke: rgb(239, 85, 59); stroke-opacity: 1; stroke-width: 2px;"></path></g><g class="legendsymbols"><g class="legendpoints"></g></g></g><rect class="legendtoggle" x="0" y="-9.5" width="83.6" height="19" style="fill: rgb(0, 0, 0); fill-opacity: 0;"></rect></g><g class="traces" transform="translate(0,432.5)" style="opacity: 1;"><text class="legendtext" text-anchor="start" x="40" y="4.6" style="font-family: &quot;Liberation Sans&quot;, sans-serif; font-size: 12px; fill: rgb(42, 63, 95); fill-opacity: 1; font-weight: normal; font-style: normal; font-variant: normal; white-space: pre;">trace 22</text><g class="layers" style="opacity: 1;"><g class="legendfill"></g><g class="legendlines"><path class="js-line" d="M5,0h30" style="fill: none; stroke: rgb(128, 128, 128); stroke-opacity: 1; stroke-width: 4px;"></path></g><g class="legendsymbols"><g class="legendpoints"></g></g></g><rect class="legendtoggle" x="0" y="-9.5" width="83.6" height="19" style="fill: rgb(0, 0, 0); fill-opacity: 0;"></rect></g><g class="traces" transform="translate(0,451.5)" style="opacity: 1;"><text class="legendtext" text-anchor="start" x="40" y="4.6" style="font-family: &quot;Liberation Sans&quot;, sans-serif; font-size: 12px; fill: rgb(42, 63, 95); fill-opacity: 1; font-weight: normal; font-style: normal; font-variant: normal; white-space: pre;">trace 23</text><g class="layers" style="opacity: 1;"><g class="legendfill"></g><g class="legendlines"><path class="js-line" d="M5,0h30" style="fill: none; stroke: rgb(171, 99, 250); stroke-opacity: 1; stroke-width: 2px;"></path></g><g class="legendsymbols"><g class="legendpoints"></g></g></g><rect class="legendtoggle" x="0" y="-9.5" width="83.6" height="19" style="fill: rgb(0, 0, 0); fill-opacity: 0;"></rect></g><g class="traces" transform="translate(0,470.5)" style="opacity: 1;"><text class="legendtext" text-anchor="start" x="40" y="4.6" style="font-family: &quot;Liberation Sans&quot;, sans-serif; font-size: 12px; fill: rgb(42, 63, 95); fill-opacity: 1; font-weight: normal; font-style: normal; font-variant: normal; white-space: pre;">trace 24</text><g class="layers" style="opacity: 1;"><g class="legendfill"></g><g class="legendlines"><path class="js-line" d="M5,0h30" style="fill: none; stroke: rgb(128, 128, 128); stroke-opacity: 1; stroke-width: 4px;"></path></g><g class="legendsymbols"><g class="legendpoints"></g></g></g><rect class="legendtoggle" x="0" y="-9.5" width="83.6" height="19" style="fill: rgb(0, 0, 0); fill-opacity: 0;"></rect></g><g class="traces" transform="translate(0,489.5)" style="opacity: 1;"><text class="legendtext" text-anchor="start" x="40" y="4.6" style="font-family: &quot;Liberation Sans&quot;, sans-serif; font-size: 12px; fill: rgb(42, 63, 95); fill-opacity: 1; font-weight: normal; font-style: normal; font-variant: normal; white-space: pre;">trace 25</text><g class="layers" style="opacity: 1;"><g class="legendfill"></g><g class="legendlines"><path class="js-line" d="M5,0h30" style="fill: none; stroke: rgb(25, 211, 243); stroke-opacity: 1; stroke-width: 2px;"></path></g><g class="legendsymbols"><g class="legendpoints"></g></g></g><rect class="legendtoggle" x="0" y="-9.5" width="83.6" height="19" style="fill: rgb(0, 0, 0); fill-opacity: 0;"></rect></g><g class="traces" transform="translate(0,508.5)" style="opacity: 1;"><text class="legendtext" text-anchor="start" x="40" y="4.6" style="font-family: &quot;Liberation Sans&quot;, sans-serif; font-size: 12px; fill: rgb(42, 63, 95); fill-opacity: 1; font-weight: normal; font-style: normal; font-variant: normal; white-space: pre;">trace 26</text><g class="layers" style="opacity: 1;"><g class="legendfill"></g><g class="legendlines"><path class="js-line" d="M5,0h30" style="fill: none; stroke: rgb(128, 128, 128); stroke-opacity: 1; stroke-width: 4px;"></path></g><g class="legendsymbols"><g class="legendpoints"></g></g></g><rect class="legendtoggle" x="0" y="-9.5" width="83.6" height="19" style="fill: rgb(0, 0, 0); fill-opacity: 0;"></rect></g><g class="traces" transform="translate(0,527.5)" style="opacity: 1;"><text class="legendtext" text-anchor="start" x="40" y="4.6" style="font-family: &quot;Liberation Sans&quot;, sans-serif; font-size: 12px; fill: rgb(42, 63, 95); fill-opacity: 1; font-weight: normal; font-style: normal; font-variant: normal; white-space: pre;">trace 27</text><g class="layers" style="opacity: 1;"><g class="legendfill"></g><g class="legendlines"><path class="js-line" d="M5,0h30" style="fill: none; stroke: rgb(182, 232, 128); stroke-opacity: 1; stroke-width: 2px;"></path></g><g class="legendsymbols"><g class="legendpoints"></g></g></g><rect class="legendtoggle" x="0" y="-9.5" width="83.6" height="19" style="fill: rgb(0, 0, 0); fill-opacity: 0;"></rect></g><g class="traces" transform="translate(0,546.5)" style="opacity: 1;"><text class="legendtext" text-anchor="start" x="40" y="4.6" style="font-family: &quot;Liberation Sans&quot;, sans-serif; font-size: 12px; fill: rgb(42, 63, 95); fill-opacity: 1; font-weight: normal; font-style: normal; font-variant: normal; white-space: pre;">trace 28</text><g class="layers" style="opacity: 1;"><g class="legendfill"></g><g class="legendlines"><path class="js-line" d="M5,0h30" style="fill: none; stroke: rgb(128, 128, 128); stroke-opacity: 1; stroke-width: 4px;"></path></g><g class="legendsymbols"><g class="legendpoints"></g></g></g><rect class="legendtoggle" x="0" y="-9.5" width="83.6" height="19" style="fill: rgb(0, 0, 0); fill-opacity: 0;"></rect></g><g class="traces" transform="translate(0,565.5)" style="opacity: 1;"><text class="legendtext" text-anchor="start" x="40" y="4.6" style="font-family: &quot;Liberation Sans&quot;, sans-serif; font-size: 12px; fill: rgb(42, 63, 95); fill-opacity: 1; font-weight: normal; font-style: normal; font-variant: normal; white-space: pre;">trace 29</text><g class="layers" style="opacity: 1;"><g class="legendfill"></g><g class="legendlines"><path class="js-line" d="M5,0h30" style="fill: none; stroke: rgb(254, 203, 82); stroke-opacity: 1; stroke-width: 2px;"></path></g><g class="legendsymbols"><g class="legendpoints"></g></g></g><rect class="legendtoggle" x="0" y="-9.5" width="83.6" height="19" style="fill: rgb(0, 0, 0); fill-opacity: 0;"></rect></g><g class="traces" transform="translate(0,584.5)" style="opacity: 1;"><text class="legendtext" text-anchor="start" x="40" y="4.6" style="font-family: &quot;Liberation Sans&quot;, sans-serif; font-size: 12px; fill: rgb(42, 63, 95); fill-opacity: 1; font-weight: normal; font-style: normal; font-variant: normal; white-space: pre;">trace 30</text><g class="layers" style="opacity: 1;"><g class="legendfill"></g><g class="legendlines"><path class="js-line" d="M5,0h30" style="fill: none; stroke: rgb(128, 128, 128); stroke-opacity: 1; stroke-width: 4px;"></path></g><g class="legendsymbols"><g class="legendpoints"></g></g></g><rect class="legendtoggle" x="0" y="-9.5" width="83.6" height="19" style="fill: rgb(0, 0, 0); fill-opacity: 0;"></rect></g><g class="traces" transform="translate(0,603.5)" style="opacity: 1;"><text class="legendtext" text-anchor="start" x="40" y="4.6" style="font-family: &quot;Liberation Sans&quot;, sans-serif; font-size: 12px; fill: rgb(42, 63, 95); fill-opacity: 1; font-weight: normal; font-style: normal; font-variant: normal; white-space: pre;">trace 31</text><g class="layers" style="opacity: 1;"><g class="legendfill"></g><g class="legendlines"><path class="js-line" d="M5,0h30" style="fill: none; stroke: rgb(239, 85, 59); stroke-opacity: 1; stroke-width: 2px;"></path></g><g class="legendsymbols"><g class="legendpoints"></g></g></g><rect class="legendtoggle" x="0" y="-9.5" width="83.6" height="19" style="fill: rgb(0, 0, 0); fill-opacity: 0;"></rect></g><g class="traces" transform="translate(0,622.5)" style="opacity: 1;"><text class="legendtext" text-anchor="start" x="40" y="4.6" style="font-family: &quot;Liberation Sans&quot;, sans-serif; font-size: 12px; fill: rgb(42, 63, 95); fill-opacity: 1; font-weight: normal; font-style: normal; font-variant: normal; white-space: pre;">trace 32</text><g class="layers" style="opacity: 1;"><g class="legendfill"></g><g class="legendlines"><path class="js-line" d="M5,0h30" style="fill: none; stroke: rgb(128, 128, 128); stroke-opacity: 1; stroke-width: 4px;"></path></g><g class="legendsymbols"><g class="legendpoints"></g></g></g><rect class="legendtoggle" x="0" y="-9.5" width="83.6" height="19" style="fill: rgb(0, 0, 0); fill-opacity: 0;"></rect></g><g class="traces" transform="translate(0,641.5)" style="opacity: 1;"><text class="legendtext" text-anchor="start" x="40" y="4.6" style="font-family: &quot;Liberation Sans&quot;, sans-serif; font-size: 12px; fill: rgb(42, 63, 95); fill-opacity: 1; font-weight: normal; font-style: normal; font-variant: normal; white-space: pre;">trace 33</text><g class="layers" style="opacity: 1;"><g class="legendfill"></g><g class="legendlines"><path class="js-line" d="M5,0h30" style="fill: none; stroke: rgb(171, 99, 250); stroke-opacity: 1; stroke-width: 2px;"></path></g><g class="legendsymbols"><g class="legendpoints"></g></g></g><rect class="legendtoggle" x="0" y="-9.5" width="83.6" height="19" style="fill: rgb(0, 0, 0); fill-opacity: 0;"></rect></g><g class="traces" transform="translate(0,660.5)" style="opacity: 1;"><text class="legendtext" text-anchor="start" x="40" y="4.6" style="font-family: &quot;Liberation Sans&quot;, sans-serif; font-size: 12px; fill: rgb(42, 63, 95); fill-opacity: 1; font-weight: normal; font-style: normal; font-variant: normal; white-space: pre;">trace 34</text><g class="layers" style="opacity: 1;"><g class="legendfill"></g><g class="legendlines"><path class="js-line" d="M5,0h30" style="fill: none; stroke: rgb(128, 128, 128); stroke-opacity: 1; stroke-width: 4px;"></path></g><g class="legendsymbols"><g class="legendpoints"></g></g></g><rect class="legendtoggle" x="0" y="-9.5" width="83.6" height="19" style="fill: rgb(0, 0, 0); fill-opacity: 0;"></rect></g><g class="traces" transform="translate(0,679.5)" style="opacity: 1;"><text class="legendtext" text-anchor="start" x="40" y="4.6" style="font-family: &quot;Liberation Sans&quot;, sans-serif; font-size: 12px; fill: rgb(42, 63, 95); fill-opacity: 1; font-weight: normal; font-style: normal; font-variant: normal; white-space: pre;">trace 35</text><g class="layers" style="opacity: 1;"><g class="legendfill"></g><g class="legendlines"><path class="js-line" d="M5,0h30" style="fill: none; stroke: rgb(25, 211, 243); stroke-opacity: 1; stroke-width: 2px;"></path></g><g class="legendsymbols"><g class="legendpoints"></g></g></g><rect class="legendtoggle" x="0" y="-9.5" width="83.6" height="19" style="fill: rgb(0, 0, 0); fill-opacity: 0;"></rect></g><g class="traces" transform="translate(0,698.5)" style="opacity: 1;"><text class="legendtext" text-anchor="start" x="40" y="4.6" style="font-family: &quot;Liberation Sans&quot;, sans-serif; font-size: 12px; fill: rgb(42, 63, 95); fill-opacity: 1; font-weight: normal; font-style: normal; font-variant: normal; white-space: pre;">trace 36</text><g class="layers" style="opacity: 1;"><g class="legendfill"></g><g class="legendlines"><path class="js-line" d="M5,0h30" style="fill: none; stroke: rgb(128, 128, 128); stroke-opacity: 1; stroke-width: 4px;"></path></g><g class="legendsymbols"><g class="legendpoints"></g></g></g><rect class="legendtoggle" x="0" y="-9.5" width="83.6" height="19" style="fill: rgb(0, 0, 0); fill-opacity: 0;"></rect></g><g class="traces" transform="translate(0,717.5)" style="opacity: 1;"><text class="legendtext" text-anchor="start" x="40" y="4.6" style="font-family: &quot;Liberation Sans&quot;, sans-serif; font-size: 12px; fill: rgb(42, 63, 95); fill-opacity: 1; font-weight: normal; font-style: normal; font-variant: normal; white-space: pre;">trace 37</text><g class="layers" style="opacity: 1;"><g class="legendfill"></g><g class="legendlines"><path class="js-line" d="M5,0h30" style="fill: none; stroke: rgb(182, 232, 128); stroke-opacity: 1; stroke-width: 2px;"></path></g><g class="legendsymbols"><g class="legendpoints"></g></g></g><rect class="legendtoggle" x="0" y="-9.5" width="83.6" height="19" style="fill: rgb(0, 0, 0); fill-opacity: 0;"></rect></g><g class="traces" transform="translate(0,736.5)" style="opacity: 1;"><text class="legendtext" text-anchor="start" x="40" y="4.6" style="font-family: &quot;Liberation Sans&quot;, sans-serif; font-size: 12px; fill: rgb(42, 63, 95); fill-opacity: 1; font-weight: normal; font-style: normal; font-variant: normal; white-space: pre;">trace 38</text><g class="layers" style="opacity: 1;"><g class="legendfill"></g><g class="legendlines"><path class="js-line" d="M5,0h30" style="fill: none; stroke: rgb(128, 128, 128); stroke-opacity: 1; stroke-width: 4px;"></path></g><g class="legendsymbols"><g class="legendpoints"></g></g></g><rect class="legendtoggle" x="0" y="-9.5" width="83.6" height="19" style="fill: rgb(0, 0, 0); fill-opacity: 0;"></rect></g><g class="traces" transform="translate(0,755.5)" style="opacity: 1;"><text class="legendtext" text-anchor="start" x="40" y="4.6" style="font-family: &quot;Liberation Sans&quot;, sans-serif; font-size: 12px; fill: rgb(42, 63, 95); fill-opacity: 1; font-weight: normal; font-style: normal; font-variant: normal; white-space: pre;">trace 39</text><g class="layers" style="opacity: 1;"><g class="legendfill"></g><g class="legendlines"><path class="js-line" d="M5,0h30" style="fill: none; stroke: rgb(254, 203, 82); stroke-opacity: 1; stroke-width: 2px;"></path></g><g class="legendsymbols"><g class="legendpoints"></g></g></g><rect class="legendtoggle" x="0" y="-9.5" width="83.6" height="19" style="fill: rgb(0, 0, 0); fill-opacity: 0;"></rect></g></g></g><rect class="scrollbar" rx="20" ry="3" width="0" height="0" style="fill: rgb(128, 139, 164); fill-opacity: 1;" x="0" y="0"></rect></g><g class="g-gtitle"></g><g class="g-xtitle"></g><g class="g-x2title"></g><g class="g-x3title"></g><g class="g-x4title"></g><g class="g-x5title"></g><g class="g-x6title"></g><g class="g-x7title"></g><g class="g-x8title"></g><g class="g-x9title"></g><g class="g-x10title"></g><g class="g-x11title"></g><g class="g-x12title"></g><g class="g-x13title"></g><g class="g-x14title"></g><g class="g-x15title"></g><g class="g-x16title"></g><g class="g-x17title"></g><g class="g-x18title"></g><g class="g-x19title"></g><g class="g-x20title"></g><g class="g-ytitle"></g><g class="g-y2title"></g><g class="g-y3title"></g><g class="g-y4title"></g><g class="g-y5title"></g><g class="g-y6title"></g><g class="g-y7title"></g><g class="g-y8title"></g><g class="g-y9title"></g><g class="g-y10title"></g><g class="g-y11title"></g><g class="g-y12title"></g><g class="g-y13title"></g><g class="g-y14title"></g><g class="g-y15title"></g><g class="g-y16title"></g><g class="g-y17title"></g><g class="g-y18title"></g><g class="g-y19title"></g><g class="g-y20title"></g><g class="annotation" style="opacity: 1;"><g class="annotation-text-g" transform="rotate(0,321.8,849.9)"><g class="cursor-pointer" transform="translate(299,841)"><rect class="bg" x="0.5" y="0.5" width="44" height="17" style="stroke-width: 1px; stroke: rgb(0, 0, 0); stroke-opacity: 0; fill: rgb(0, 0, 0); fill-opacity: 0;"></rect><text class="annotation-text" text-anchor="middle" x="22.6" y="13" style="font-family: &quot;Liberation Sans&quot;, sans-serif; font-size: 12px; fill: rgb(42, 63, 95); fill-opacity: 1; font-weight: normal; font-style: normal; font-variant: normal; white-space: pre;">fit failed</text></g></g><g class="annotation-arrow-g" style="opacity: 1;"><path d="M324.6,858.4L331.8,879.9" style="stroke-width: 1px; stroke: rgb(42, 63, 95); stroke-opacity: 1; stroke-dasharray: 0px, 0px, 22.6px, 22.6px;"></path></g></g><g class="annotation" style="opacity: 1;"><g class="annotation-text-g" transform="rotate(0,321.8,931.9)"><g class="cursor-pointer" transform="translate(299,923)"><rect class="bg" x="0.5" y="0.5" width="44" height="17" style="stroke-width: 1px; stroke: rgb(0, 0, 0); stroke-opacity: 0; fill: rgb(0, 0, 0); fill-opacity: 0;"></rect><text class="annotation-text" text-anchor="middle" x="22.6" y="13" style="font-family: &quot;Liberation Sans&quot;, sans-serif; font-size: 12px; fill: rgb(42, 63, 95); fill-opacity: 1; font-weight: normal; font-style: normal; font-variant: normal; white-space: pre;">fit failed</text></g></g><g class="annotation-arrow-g" style="opacity: 1;"><path d="M324.6,940.4L331.8,961.9" style="stroke-width: 1px; stroke: rgb(42, 63, 95); stroke-opacity: 1; stroke-dasharray: 0px, 0px, 22.6px, 22.6px;"></path></g></g><g class="annotation" style="opacity: 1;"><g class="annotation-text-g" transform="rotate(0,321.8,1013.3)"><g class="cursor-pointer" transform="translate(299,1004)"><rect class="bg" x="0.5" y="0.5" width="44" height="17" style="stroke-width: 1px; stroke: rgb(0, 0, 0); stroke-opacity: 0; fill: rgb(0, 0, 0); fill-opacity: 0;"></rect><text class="annotation-text" text-anchor="middle" x="22.6" y="13" style="font-family: &quot;Liberation Sans&quot;, sans-serif; font-size: 12px; fill: rgb(42, 63, 95); fill-opacity: 1; font-weight: normal; font-style: normal; font-variant: normal; white-space: pre;">fit failed</text></g></g><g class="annotation-arrow-g" style="opacity: 1;"><path d="M324.6,1021.8L331.8,1043.3" style="stroke-width: 1px; stroke: rgb(42, 63, 95); stroke-opacity: 1; stroke-dasharray: 0px, 0px, 22.6px, 22.6px;"></path></g></g><g class="annotation" style="opacity: 1;"><g class="annotation-text-g" transform="rotate(0,321.8,1095.3)"><g class="cursor-pointer" transform="translate(299,1086)"><rect class="bg" x="0.5" y="0.5" width="44" height="17" style="stroke-width: 1px; stroke: rgb(0, 0, 0); stroke-opacity: 0; fill: rgb(0, 0, 0); fill-opacity: 0;"></rect><text class="annotation-text" text-anchor="middle" x="22.6" y="13" style="font-family: &quot;Liberation Sans&quot;, sans-serif; font-size: 12px; fill: rgb(42, 63, 95); fill-opacity: 1; font-weight: normal; font-style: normal; font-variant: normal; white-space: pre;">fit failed</text></g></g><g class="annotation-arrow-g" style="opacity: 1;"><path d="M324.6,1103.8L331.8,1125.3" style="stroke-width: 1px; stroke: rgb(42, 63, 95); stroke-opacity: 1; stroke-dasharray: 0px, 0px, 22.6px, 22.6px;"></path></g></g><g class="annotation" style="opacity: 1;"><g class="annotation-text-g" transform="rotate(0,321.8,1178.5)"><g class="cursor-pointer" transform="translate(299,1170)"><rect class="bg" x="0.5" y="0.5" width="44" height="17" style="stroke-width: 1px; stroke: rgb(0, 0, 0); stroke-opacity: 0; fill: rgb(0, 0, 0); fill-opacity: 0;"></rect><text class="annotation-text" text-anchor="middle" x="22.6" y="13" style="font-family: &quot;Liberation Sans&quot;, sans-serif; font-size: 12px; fill: rgb(42, 63, 95); fill-opacity: 1; font-weight: normal; font-style: normal; font-variant: normal; white-space: pre;">fit failed</text></g></g><g class="annotation-arrow-g" style="opacity: 1;"><path d="M324.6,1187.0L331.8,1208.5" style="stroke-width: 1px; stroke: rgb(42, 63, 95); stroke-opacity: 1; stroke-dasharray: 0px, 0px, 22.6px, 22.6px;"></path></g></g><g class="annotation" style="opacity: 1;"><g class="annotation-text-g" transform="rotate(0,321.8,1260.9)"><g class="cursor-pointer" transform="translate(299,1252)"><rect class="bg" x="0.5" y="0.5" width="44" height="17" style="stroke-width: 1px; stroke: rgb(0, 0, 0); stroke-opacity: 0; fill: rgb(0, 0, 0); fill-opacity: 0;"></rect><text class="annotation-text" text-anchor="middle" x="22.6" y="13" style="font-family: &quot;Liberation Sans&quot;, sans-serif; font-size: 12px; fill: rgb(42, 63, 95); fill-opacity: 1; font-weight: normal; font-style: normal; font-variant: normal; white-space: pre;">fit failed</text></g></g><g class="annotation-arrow-g" style="opacity: 1;"><path d="M324.6,1269.4L331.8,1290.9" style="stroke-width: 1px; stroke: rgb(42, 63, 95); stroke-opacity: 1; stroke-dasharray: 0px, 0px, 22.6px, 22.6px;"></path></g></g><g class="annotation" style="opacity: 1;"><g class="annotation-text-g" transform="rotate(0,321.8,1343.3)"><g class="cursor-pointer" transform="translate(299,1334)"><rect class="bg" x="0.5" y="0.5" width="44" height="17" style="stroke-width: 1px; stroke: rgb(0, 0, 0); stroke-opacity: 0; fill: rgb(0, 0, 0); fill-opacity: 0;"></rect><text class="annotation-text" text-anchor="middle" x="22.6" y="13" style="font-family: &quot;Liberation Sans&quot;, sans-serif; font-size: 12px; fill: rgb(42, 63, 95); fill-opacity: 1; font-weight: normal; font-style: normal; font-variant: normal; white-space: pre;">fit failed</text></g></g><g class="annotation-arrow-g" style="opacity: 1;"><path d="M324.6,1351.8L331.8,1373.3" style="stroke-width: 1px; stroke: rgb(42, 63, 95); stroke-opacity: 1; stroke-dasharray: 0px, 0px, 22.6px, 22.6px;"></path></g></g><g class="annotation" style="opacity: 1;"><g class="annotation-text-g" transform="rotate(0,321.8,1425.1)"><g class="cursor-pointer" transform="translate(299,1416)"><rect class="bg" x="0.5" y="0.5" width="44" height="17" style="stroke-width: 1px; stroke: rgb(0, 0, 0); stroke-opacity: 0; fill: rgb(0, 0, 0); fill-opacity: 0;"></rect><text class="annotation-text" text-anchor="middle" x="22.6" y="13" style="font-family: &quot;Liberation Sans&quot;, sans-serif; font-size: 12px; fill: rgb(42, 63, 95); fill-opacity: 1; font-weight: normal; font-style: normal; font-variant: normal; white-space: pre;">fit failed</text></g></g><g class="annotation-arrow-g" style="opacity: 1;"><path d="M324.6,1433.6L331.8,1455.1" style="stroke-width: 1px; stroke: rgb(42, 63, 95); stroke-opacity: 1; stroke-dasharray: 0px, 0px, 22.6px, 22.6px;"></path></g></g><g class="annotation" style="opacity: 1;"><g class="annotation-text-g" transform="rotate(0,321.8,1507.3)"><g class="cursor-pointer" transform="translate(299,1498)"><rect class="bg" x="0.5" y="0.5" width="44" height="17" style="stroke-width: 1px; stroke: rgb(0, 0, 0); stroke-opacity: 0; fill: rgb(0, 0, 0); fill-opacity: 0;"></rect><text class="annotation-text" text-anchor="middle" x="22.6" y="13" style="font-family: &quot;Liberation Sans&quot;, sans-serif; font-size: 12px; fill: rgb(42, 63, 95); fill-opacity: 1; font-weight: normal; font-style: normal; font-variant: normal; white-space: pre;">fit failed</text></g></g><g class="annotation-arrow-g" style="opacity: 1;"><path d="M324.6,1515.8L331.8,1537.3" style="stroke-width: 1px; stroke: rgb(42, 63, 95); stroke-opacity: 1; stroke-dasharray: 0px, 0px, 22.6px, 22.6px;"></path></g></g><g class="annotation" style="opacity: 1;"><g class="annotation-text-g" transform="rotate(0,321.8,1589.5)"><g class="cursor-pointer" transform="translate(299,1581)"><rect class="bg" x="0.5" y="0.5" width="44" height="17" style="stroke-width: 1px; stroke: rgb(0, 0, 0); stroke-opacity: 0; fill: rgb(0, 0, 0); fill-opacity: 0;"></rect><text class="annotation-text" text-anchor="middle" x="22.6" y="13" style="font-family: &quot;Liberation Sans&quot;, sans-serif; font-size: 12px; fill: rgb(42, 63, 95); fill-opacity: 1; font-weight: normal; font-style: normal; font-variant: normal; white-space: pre;">fit failed</text></g></g><g class="annotation-arrow-g" style="opacity: 1;"><path d="M324.6,1598.0L331.8,1619.5" style="stroke-width: 1px; stroke: rgb(42, 63, 95); stroke-opacity: 1; stroke-dasharray: 0px, 0px, 22.6px, 22.6px;"></path></g></g><g class="annotation" style="opacity: 1;"><g class="annotation-text-g" transform="rotate(0,321.8,1671.5)"><g class="cursor-pointer" transform="translate(299,1663)"><rect class="bg" x="0.5" y="0.5" width="44" height="17" style="stroke-width: 1px; stroke: rgb(0, 0, 0); stroke-opacity: 0; fill: rgb(0, 0, 0); fill-opacity: 0;"></rect><text class="annotation-text" text-anchor="middle" x="22.6" y="13" style="font-family: &quot;Liberation Sans&quot;, sans-serif; font-size: 12px; fill: rgb(42, 63, 95); fill-opacity: 1; font-weight: normal; font-style: normal; font-variant: normal; white-space: pre;">fit failed</text></g></g><g class="annotation-arrow-g" style="opacity: 1;"><path d="M324.6,1680.0L331.8,1701.5" style="stroke-width: 1px; stroke: rgb(42, 63, 95); stroke-opacity: 1; stroke-dasharray: 0px, 0px, 22.6px, 22.6px;"></path></g></g></g><g class="menulayer"></g><g class="zoomlayer"></g></svg>
<svg class="main-svg" width="700" height="1800"><g class="hoverlayer"></g></svg>
<svg class="ov" width="700" height="1800" style="position:absolute;top:0;left:0">
<text x="200.0" y="222.8" style="font-family:'Liberation Sans', sans-serif;font-size:12px;fill:#2a3f5f">579.6 ± 2.6</text>
<text x="200.5" y="222.3" style="font-family:'Liberation Sans', sans-serif;font-size:12px;fill:#2a3f5f">556.7 ± 2.0</text>
<text x="201.0" y="222.8" style="font-family:'Liberation Sans', sans-serif;font-size:12px;fill:#2a3f5f">575.1 ± 2.8</text>
<text x="201.5" y="223.3" style="font-family:'Liberation Sans', sans-serif;font-size:12px;fill:#2a3f5f">567.9 ± 2.3</text>
<text x="200.0" y="222.8" style="font-family:'Liberation Sans', sans-serif;font-size:12px;fill:#2a3f5f">578.4 ± 26.97</text>
<text x="202.5" y="222.8" style="font-family:'Liberation Sans', sans-serif;font-size:12px;fill:#2a3f5f">595.3 ± 1.9</text>
<text x="199.5" y="223.3" style="font-family:'Liberation Sans', sans-serif;font-size:12px;fill:#2a3f5f">558.5 ± 2.5</text>
<text x="185.0" y="234.3" style="font-family:'Liberation Sans', sans-serif;font-size:12px;fill:#2a3f5f">533.9 ± 1.2</text>
<text x="196.0" y="234.3" style="font-family:'Liberation Sans', sans-serif;font-size:12px;fill:#2a3f5f">539.6 ± 1.9</text>
<text x="261.0" y="292.8" style="font-family:'Liberation Sans', sans-serif;font-size:12px;fill:#2a3f5f">579.3 ± 0.5</text>
<text x="262.0" y="292.3" style="font-family:'Liberation Sans', sans-serif;font-size:12px;fill:#2a3f5f">570.4 ± 0.5</text>
<text x="262.5" y="293.8" style="font-family:'Liberation Sans', sans-serif;font-size:12px;fill:#2a3f5f">579.8 ± 0.9</text>
<text x="261.0" y="298.3" style="font-family:'Liberation Sans', sans-serif;font-size:12px;fill:#2a3f5f">581.0 ± 1.6</text>
<text x="264.0" y="298.3" style="font-family:'Liberation Sans', sans-serif;font-size:12px;fill:#2a3f5f">580.4 ± 1.4</text>
<text x="266.0" y="297.8" style="font-family:'Liberation Sans', sans-serif;font-size:12px;fill:#2a3f5f">588.1 ± 1.5</text>
<text x="331.5" y="371.9" style="font-family:'Liberation Sans', sans-serif;font-size:12px;fill:#2a3f5f">624.9 ± 0.6</text>
<text x="332.5" y="371.4" style="font-family:'Liberation Sans', sans-serif;font-size:12px;fill:#2a3f5f">624.2 ± 0.6</text>
<text x="333.0" y="372.5" style="font-family:'Liberation Sans', sans-serif;font-size:12px;fill:#2a3f5f">621.9 ± 0.5</text>
<text x="330.8" y="372.7" style="font-family:'Liberation Sans', sans-serif;font-size:12px;fill:#2a3f5f">620.3 ± 0.8</text>
<text x="336.0" y="384.3" style="font-family:'Liberation Sans', sans-serif;font-size:12px;fill:#2a3f5f">625.4 ± 1.1</text>
<text x="339.0" y="384.3" style="font-family:'Liberation Sans', sans-serif;font-size:12px;fill:#2a3f5f">623.3 ± 2.0</text>
</svg>
</div></body></html>
